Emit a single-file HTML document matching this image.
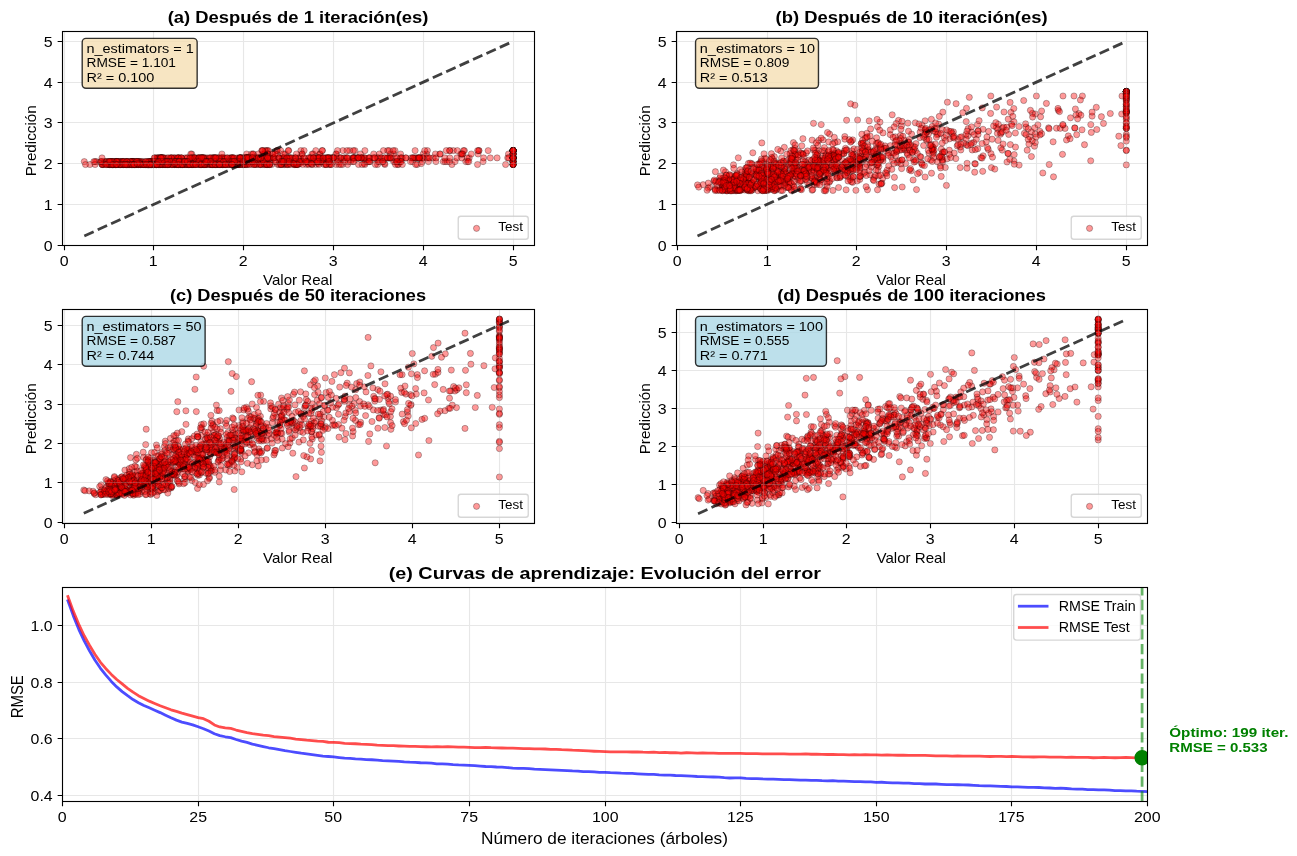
<!DOCTYPE html>
<html><head><meta charset="utf-8"><title>Gradient Boosting</title>
<style>
html,body{margin:0;padding:0;background:#fff;}
svg{display:block;font-family:"Liberation Sans",sans-serif;will-change:transform;}
</style></head>
<body>
<svg width="1297" height="856" viewBox="0 0 1297 856">
<rect width="1297" height="856" fill="#fff"/>
<clipPath id="ca"><rect x="62.5" y="31.5" width="472.0" height="214.0"/></clipPath>
<g clip-path="url(#ca)">
<g fill="#f00" fill-opacity="0.4" stroke="#000" stroke-opacity="0.4" stroke-width="0.69">
<circle cx="84.3" cy="161.6" r="3.1"/>
<circle cx="150.9" cy="164.5" r="3.1"/>
<circle cx="167.6" cy="164.5" r="3.1"/>
<circle cx="311.9" cy="161.6" r="3.1"/>
<circle cx="513.1" cy="157.9" r="3.1"/>
<circle cx="136.0" cy="164.5" r="3.1"/>
<circle cx="122.0" cy="161.6" r="3.1"/>
<circle cx="144.7" cy="164.5" r="3.1"/>
<circle cx="178.2" cy="164.5" r="3.1"/>
<circle cx="142.1" cy="161.6" r="3.1"/>
<circle cx="230.6" cy="161.6" r="3.1"/>
<circle cx="238.6" cy="161.6" r="3.1"/>
<circle cx="127.8" cy="164.5" r="3.1"/>
<circle cx="224.2" cy="164.5" r="3.1"/>
<circle cx="96.5" cy="161.6" r="3.1"/>
<circle cx="201.0" cy="157.9" r="3.1"/>
<circle cx="513.1" cy="154.0" r="3.1"/>
<circle cx="311.9" cy="164.5" r="3.1"/>
<circle cx="232.9" cy="157.9" r="3.1"/>
<circle cx="170.9" cy="164.5" r="3.1"/>
<circle cx="149.5" cy="164.5" r="3.1"/>
<circle cx="195.8" cy="164.5" r="3.1"/>
<circle cx="161.8" cy="164.5" r="3.1"/>
<circle cx="364.3" cy="163.6" r="3.1"/>
<circle cx="150.7" cy="164.5" r="3.1"/>
<circle cx="161.2" cy="161.6" r="3.1"/>
<circle cx="315.8" cy="164.5" r="3.1"/>
<circle cx="160.2" cy="164.5" r="3.1"/>
<circle cx="160.1" cy="164.5" r="3.1"/>
<circle cx="120.3" cy="164.5" r="3.1"/>
<circle cx="201.5" cy="164.5" r="3.1"/>
<circle cx="159.4" cy="164.5" r="3.1"/>
<circle cx="377.4" cy="157.9" r="3.1"/>
<circle cx="163.2" cy="164.5" r="3.1"/>
<circle cx="299.3" cy="157.9" r="3.1"/>
<circle cx="206.1" cy="164.5" r="3.1"/>
<circle cx="201.6" cy="157.9" r="3.1"/>
<circle cx="513.1" cy="157.9" r="3.1"/>
<circle cx="389.0" cy="157.9" r="3.1"/>
<circle cx="122.1" cy="161.6" r="3.1"/>
<circle cx="156.2" cy="164.5" r="3.1"/>
<circle cx="145.5" cy="164.5" r="3.1"/>
<circle cx="398.3" cy="164.5" r="3.1"/>
<circle cx="221.4" cy="161.6" r="3.1"/>
<circle cx="180.7" cy="164.5" r="3.1"/>
<circle cx="329.4" cy="157.9" r="3.1"/>
<circle cx="175.9" cy="164.5" r="3.1"/>
<circle cx="259.8" cy="161.6" r="3.1"/>
<circle cx="153.3" cy="164.5" r="3.1"/>
<circle cx="109.9" cy="164.5" r="3.1"/>
<circle cx="264.8" cy="154.0" r="3.1"/>
<circle cx="173.4" cy="161.6" r="3.1"/>
<circle cx="174.5" cy="161.6" r="3.1"/>
<circle cx="161.4" cy="157.9" r="3.1"/>
<circle cx="157.2" cy="161.6" r="3.1"/>
<circle cx="225.4" cy="164.5" r="3.1"/>
<circle cx="172.7" cy="164.5" r="3.1"/>
<circle cx="192.2" cy="157.9" r="3.1"/>
<circle cx="148.8" cy="164.5" r="3.1"/>
<circle cx="210.2" cy="161.6" r="3.1"/>
<circle cx="229.7" cy="157.9" r="3.1"/>
<circle cx="191.0" cy="164.5" r="3.1"/>
<circle cx="187.5" cy="161.6" r="3.1"/>
<circle cx="465.8" cy="161.6" r="3.1"/>
<circle cx="115.3" cy="164.5" r="3.1"/>
<circle cx="171.1" cy="161.6" r="3.1"/>
<circle cx="213.4" cy="161.6" r="3.1"/>
<circle cx="233.4" cy="157.9" r="3.1"/>
<circle cx="114.0" cy="161.6" r="3.1"/>
<circle cx="155.5" cy="161.6" r="3.1"/>
<circle cx="116.7" cy="161.6" r="3.1"/>
<circle cx="102.2" cy="164.5" r="3.1"/>
<circle cx="170.3" cy="161.6" r="3.1"/>
<circle cx="188.2" cy="164.5" r="3.1"/>
<circle cx="349.6" cy="150.6" r="3.1"/>
<circle cx="105.4" cy="161.6" r="3.1"/>
<circle cx="273.4" cy="157.9" r="3.1"/>
<circle cx="199.1" cy="164.5" r="3.1"/>
<circle cx="230.7" cy="164.5" r="3.1"/>
<circle cx="136.9" cy="164.5" r="3.1"/>
<circle cx="313.2" cy="154.0" r="3.1"/>
<circle cx="182.4" cy="161.6" r="3.1"/>
<circle cx="188.8" cy="161.6" r="3.1"/>
<circle cx="224.2" cy="161.6" r="3.1"/>
<circle cx="158.8" cy="161.6" r="3.1"/>
<circle cx="194.4" cy="161.6" r="3.1"/>
<circle cx="134.3" cy="164.5" r="3.1"/>
<circle cx="267.4" cy="154.0" r="3.1"/>
<circle cx="126.7" cy="161.6" r="3.1"/>
<circle cx="162.1" cy="157.9" r="3.1"/>
<circle cx="151.6" cy="161.6" r="3.1"/>
<circle cx="133.6" cy="164.5" r="3.1"/>
<circle cx="220.3" cy="164.5" r="3.1"/>
<circle cx="147.9" cy="164.5" r="3.1"/>
<circle cx="289.1" cy="164.5" r="3.1"/>
<circle cx="162.1" cy="157.9" r="3.1"/>
<circle cx="513.1" cy="150.6" r="3.1"/>
<circle cx="224.0" cy="161.6" r="3.1"/>
<circle cx="124.0" cy="164.5" r="3.1"/>
<circle cx="239.5" cy="164.5" r="3.1"/>
<circle cx="150.0" cy="164.5" r="3.1"/>
<circle cx="182.0" cy="164.5" r="3.1"/>
<circle cx="149.7" cy="164.5" r="3.1"/>
<circle cx="162.9" cy="157.9" r="3.1"/>
<circle cx="237.6" cy="161.6" r="3.1"/>
<circle cx="210.3" cy="164.5" r="3.1"/>
<circle cx="108.8" cy="164.5" r="3.1"/>
<circle cx="412.7" cy="157.9" r="3.1"/>
<circle cx="156.5" cy="164.5" r="3.1"/>
<circle cx="205.7" cy="164.5" r="3.1"/>
<circle cx="132.9" cy="161.6" r="3.1"/>
<circle cx="183.3" cy="164.5" r="3.1"/>
<circle cx="303.3" cy="157.9" r="3.1"/>
<circle cx="155.1" cy="161.6" r="3.1"/>
<circle cx="335.9" cy="154.0" r="3.1"/>
<circle cx="237.8" cy="161.6" r="3.1"/>
<circle cx="243.3" cy="164.5" r="3.1"/>
<circle cx="397.7" cy="164.5" r="3.1"/>
<circle cx="211.2" cy="164.5" r="3.1"/>
<circle cx="135.2" cy="164.5" r="3.1"/>
<circle cx="245.6" cy="164.5" r="3.1"/>
<circle cx="243.5" cy="164.5" r="3.1"/>
<circle cx="312.2" cy="161.6" r="3.1"/>
<circle cx="132.5" cy="164.5" r="3.1"/>
<circle cx="151.5" cy="161.6" r="3.1"/>
<circle cx="440.3" cy="154.0" r="3.1"/>
<circle cx="223.4" cy="161.6" r="3.1"/>
<circle cx="149.1" cy="161.6" r="3.1"/>
<circle cx="191.8" cy="154.0" r="3.1"/>
<circle cx="184.9" cy="164.5" r="3.1"/>
<circle cx="133.3" cy="161.6" r="3.1"/>
<circle cx="231.6" cy="157.9" r="3.1"/>
<circle cx="116.2" cy="164.5" r="3.1"/>
<circle cx="117.9" cy="164.5" r="3.1"/>
<circle cx="158.5" cy="161.6" r="3.1"/>
<circle cx="180.4" cy="164.5" r="3.1"/>
<circle cx="223.5" cy="157.9" r="3.1"/>
<circle cx="399.6" cy="161.6" r="3.1"/>
<circle cx="153.7" cy="161.6" r="3.1"/>
<circle cx="137.6" cy="164.5" r="3.1"/>
<circle cx="134.2" cy="164.5" r="3.1"/>
<circle cx="120.9" cy="164.5" r="3.1"/>
<circle cx="138.8" cy="164.5" r="3.1"/>
<circle cx="151.9" cy="164.5" r="3.1"/>
<circle cx="478.1" cy="154.0" r="3.1"/>
<circle cx="363.1" cy="157.9" r="3.1"/>
<circle cx="135.7" cy="164.5" r="3.1"/>
<circle cx="302.2" cy="154.0" r="3.1"/>
<circle cx="100.8" cy="161.6" r="3.1"/>
<circle cx="253.7" cy="157.9" r="3.1"/>
<circle cx="168.2" cy="164.5" r="3.1"/>
<circle cx="177.8" cy="157.9" r="3.1"/>
<circle cx="152.8" cy="164.5" r="3.1"/>
<circle cx="223.3" cy="157.9" r="3.1"/>
<circle cx="435.4" cy="154.0" r="3.1"/>
<circle cx="327.0" cy="157.9" r="3.1"/>
<circle cx="320.0" cy="157.9" r="3.1"/>
<circle cx="211.6" cy="161.6" r="3.1"/>
<circle cx="513.1" cy="157.9" r="3.1"/>
<circle cx="332.1" cy="157.9" r="3.1"/>
<circle cx="241.4" cy="157.9" r="3.1"/>
<circle cx="377.6" cy="164.5" r="3.1"/>
<circle cx="123.9" cy="161.6" r="3.1"/>
<circle cx="151.5" cy="161.6" r="3.1"/>
<circle cx="400.8" cy="157.9" r="3.1"/>
<circle cx="144.5" cy="161.6" r="3.1"/>
<circle cx="123.0" cy="164.5" r="3.1"/>
<circle cx="184.6" cy="161.6" r="3.1"/>
<circle cx="274.0" cy="157.9" r="3.1"/>
<circle cx="232.5" cy="164.5" r="3.1"/>
<circle cx="216.4" cy="164.5" r="3.1"/>
<circle cx="285.3" cy="154.0" r="3.1"/>
<circle cx="329.2" cy="164.5" r="3.1"/>
<circle cx="109.2" cy="161.6" r="3.1"/>
<circle cx="387.6" cy="150.6" r="3.1"/>
<circle cx="234.5" cy="161.6" r="3.1"/>
<circle cx="365.9" cy="161.6" r="3.1"/>
<circle cx="206.7" cy="161.6" r="3.1"/>
<circle cx="172.6" cy="161.6" r="3.1"/>
<circle cx="134.0" cy="164.5" r="3.1"/>
<circle cx="283.0" cy="157.9" r="3.1"/>
<circle cx="131.0" cy="161.6" r="3.1"/>
<circle cx="329.5" cy="157.9" r="3.1"/>
<circle cx="144.0" cy="164.5" r="3.1"/>
<circle cx="120.2" cy="161.6" r="3.1"/>
<circle cx="257.4" cy="161.6" r="3.1"/>
<circle cx="212.7" cy="157.9" r="3.1"/>
<circle cx="144.7" cy="164.5" r="3.1"/>
<circle cx="113.1" cy="164.5" r="3.1"/>
<circle cx="162.8" cy="164.5" r="3.1"/>
<circle cx="356.1" cy="157.9" r="3.1"/>
<circle cx="181.3" cy="161.6" r="3.1"/>
<circle cx="298.0" cy="157.9" r="3.1"/>
<circle cx="513.1" cy="154.0" r="3.1"/>
<circle cx="318.6" cy="157.9" r="3.1"/>
<circle cx="513.1" cy="157.9" r="3.1"/>
<circle cx="205.8" cy="161.6" r="3.1"/>
<circle cx="488.2" cy="150.6" r="3.1"/>
<circle cx="147.7" cy="164.5" r="3.1"/>
<circle cx="146.9" cy="164.5" r="3.1"/>
<circle cx="264.3" cy="164.5" r="3.1"/>
<circle cx="513.1" cy="157.9" r="3.1"/>
<circle cx="246.1" cy="161.6" r="3.1"/>
<circle cx="226.1" cy="164.5" r="3.1"/>
<circle cx="354.7" cy="157.9" r="3.1"/>
<circle cx="161.3" cy="157.9" r="3.1"/>
<circle cx="369.9" cy="161.6" r="3.1"/>
<circle cx="117.8" cy="164.5" r="3.1"/>
<circle cx="150.9" cy="164.5" r="3.1"/>
<circle cx="318.3" cy="163.6" r="3.1"/>
<circle cx="222.7" cy="161.6" r="3.1"/>
<circle cx="331.0" cy="157.9" r="3.1"/>
<circle cx="182.6" cy="164.5" r="3.1"/>
<circle cx="112.1" cy="161.6" r="3.1"/>
<circle cx="228.7" cy="164.5" r="3.1"/>
<circle cx="248.1" cy="157.9" r="3.1"/>
<circle cx="131.2" cy="161.6" r="3.1"/>
<circle cx="237.4" cy="157.9" r="3.1"/>
<circle cx="287.2" cy="157.9" r="3.1"/>
<circle cx="513.1" cy="154.0" r="3.1"/>
<circle cx="253.3" cy="161.6" r="3.1"/>
<circle cx="227.1" cy="157.9" r="3.1"/>
<circle cx="248.9" cy="157.9" r="3.1"/>
<circle cx="185.4" cy="164.5" r="3.1"/>
<circle cx="218.5" cy="161.6" r="3.1"/>
<circle cx="196.1" cy="161.6" r="3.1"/>
<circle cx="221.3" cy="157.9" r="3.1"/>
<circle cx="246.6" cy="164.5" r="3.1"/>
<circle cx="250.5" cy="161.6" r="3.1"/>
<circle cx="336.4" cy="154.0" r="3.1"/>
<circle cx="141.7" cy="161.6" r="3.1"/>
<circle cx="153.0" cy="164.5" r="3.1"/>
<circle cx="170.4" cy="157.9" r="3.1"/>
<circle cx="443.3" cy="161.6" r="3.1"/>
<circle cx="247.9" cy="161.6" r="3.1"/>
<circle cx="132.5" cy="161.6" r="3.1"/>
<circle cx="167.5" cy="161.6" r="3.1"/>
<circle cx="266.8" cy="164.5" r="3.1"/>
<circle cx="148.6" cy="164.5" r="3.1"/>
<circle cx="288.5" cy="161.6" r="3.1"/>
<circle cx="451.9" cy="164.5" r="3.1"/>
<circle cx="433.2" cy="157.9" r="3.1"/>
<circle cx="206.4" cy="161.6" r="3.1"/>
<circle cx="174.4" cy="164.5" r="3.1"/>
<circle cx="143.9" cy="164.5" r="3.1"/>
<circle cx="136.7" cy="164.5" r="3.1"/>
<circle cx="118.2" cy="164.5" r="3.1"/>
<circle cx="325.1" cy="157.9" r="3.1"/>
<circle cx="173.9" cy="157.9" r="3.1"/>
<circle cx="156.6" cy="164.5" r="3.1"/>
<circle cx="367.7" cy="161.6" r="3.1"/>
<circle cx="135.1" cy="164.5" r="3.1"/>
<circle cx="134.6" cy="164.5" r="3.1"/>
<circle cx="159.2" cy="163.6" r="3.1"/>
<circle cx="329.0" cy="161.6" r="3.1"/>
<circle cx="131.7" cy="163.6" r="3.1"/>
<circle cx="148.6" cy="163.6" r="3.1"/>
<circle cx="426.6" cy="154.0" r="3.1"/>
<circle cx="364.5" cy="157.9" r="3.1"/>
<circle cx="263.8" cy="157.9" r="3.1"/>
<circle cx="135.7" cy="164.5" r="3.1"/>
<circle cx="271.9" cy="164.5" r="3.1"/>
<circle cx="513.1" cy="164.5" r="3.1"/>
<circle cx="262.9" cy="154.0" r="3.1"/>
<circle cx="218.2" cy="164.5" r="3.1"/>
<circle cx="277.7" cy="164.5" r="3.1"/>
<circle cx="389.2" cy="157.9" r="3.1"/>
<circle cx="190.8" cy="154.0" r="3.1"/>
<circle cx="268.9" cy="164.5" r="3.1"/>
<circle cx="239.5" cy="157.9" r="3.1"/>
<circle cx="236.4" cy="164.5" r="3.1"/>
<circle cx="202.0" cy="164.5" r="3.1"/>
<circle cx="182.4" cy="164.5" r="3.1"/>
<circle cx="102.2" cy="164.5" r="3.1"/>
<circle cx="319.6" cy="154.0" r="3.1"/>
<circle cx="213.7" cy="164.5" r="3.1"/>
<circle cx="242.4" cy="164.5" r="3.1"/>
<circle cx="161.0" cy="164.5" r="3.1"/>
<circle cx="215.8" cy="164.5" r="3.1"/>
<circle cx="112.3" cy="164.5" r="3.1"/>
<circle cx="205.5" cy="157.9" r="3.1"/>
<circle cx="214.3" cy="157.9" r="3.1"/>
<circle cx="164.4" cy="164.5" r="3.1"/>
<circle cx="160.8" cy="164.5" r="3.1"/>
<circle cx="239.6" cy="157.9" r="3.1"/>
<circle cx="126.6" cy="164.5" r="3.1"/>
<circle cx="132.2" cy="161.6" r="3.1"/>
<circle cx="146.0" cy="164.5" r="3.1"/>
<circle cx="174.7" cy="164.5" r="3.1"/>
<circle cx="513.1" cy="157.9" r="3.1"/>
<circle cx="342.6" cy="164.5" r="3.1"/>
<circle cx="194.7" cy="164.5" r="3.1"/>
<circle cx="262.6" cy="161.6" r="3.1"/>
<circle cx="188.6" cy="161.6" r="3.1"/>
<circle cx="300.3" cy="161.6" r="3.1"/>
<circle cx="265.9" cy="164.5" r="3.1"/>
<circle cx="104.2" cy="161.6" r="3.1"/>
<circle cx="233.0" cy="164.5" r="3.1"/>
<circle cx="158.6" cy="164.5" r="3.1"/>
<circle cx="421.3" cy="157.9" r="3.1"/>
<circle cx="240.1" cy="157.9" r="3.1"/>
<circle cx="393.8" cy="154.0" r="3.1"/>
<circle cx="319.2" cy="161.6" r="3.1"/>
<circle cx="189.8" cy="164.5" r="3.1"/>
<circle cx="384.9" cy="164.5" r="3.1"/>
<circle cx="513.1" cy="150.6" r="3.1"/>
<circle cx="153.6" cy="164.5" r="3.1"/>
<circle cx="192.9" cy="161.6" r="3.1"/>
<circle cx="122.8" cy="164.5" r="3.1"/>
<circle cx="208.8" cy="161.6" r="3.1"/>
<circle cx="198.0" cy="157.9" r="3.1"/>
<circle cx="205.4" cy="161.6" r="3.1"/>
<circle cx="134.5" cy="161.6" r="3.1"/>
<circle cx="211.4" cy="164.5" r="3.1"/>
<circle cx="181.5" cy="164.5" r="3.1"/>
<circle cx="192.5" cy="161.6" r="3.1"/>
<circle cx="296.2" cy="163.6" r="3.1"/>
<circle cx="209.8" cy="164.5" r="3.1"/>
<circle cx="109.4" cy="164.5" r="3.1"/>
<circle cx="187.2" cy="157.9" r="3.1"/>
<circle cx="383.4" cy="150.6" r="3.1"/>
<circle cx="164.8" cy="164.5" r="3.1"/>
<circle cx="138.9" cy="161.6" r="3.1"/>
<circle cx="102.8" cy="164.5" r="3.1"/>
<circle cx="225.2" cy="161.6" r="3.1"/>
<circle cx="151.2" cy="164.5" r="3.1"/>
<circle cx="172.0" cy="157.9" r="3.1"/>
<circle cx="302.3" cy="161.6" r="3.1"/>
<circle cx="377.8" cy="161.6" r="3.1"/>
<circle cx="154.2" cy="164.5" r="3.1"/>
<circle cx="147.1" cy="163.6" r="3.1"/>
<circle cx="163.8" cy="164.5" r="3.1"/>
<circle cx="508.5" cy="154.0" r="3.1"/>
<circle cx="103.7" cy="164.5" r="3.1"/>
<circle cx="284.5" cy="164.5" r="3.1"/>
<circle cx="469.2" cy="157.9" r="3.1"/>
<circle cx="175.3" cy="161.6" r="3.1"/>
<circle cx="145.3" cy="164.5" r="3.1"/>
<circle cx="340.2" cy="161.6" r="3.1"/>
<circle cx="139.5" cy="161.6" r="3.1"/>
<circle cx="277.2" cy="150.6" r="3.1"/>
<circle cx="513.1" cy="161.6" r="3.1"/>
<circle cx="179.0" cy="157.9" r="3.1"/>
<circle cx="124.8" cy="164.5" r="3.1"/>
<circle cx="214.2" cy="164.5" r="3.1"/>
<circle cx="284.3" cy="164.5" r="3.1"/>
<circle cx="207.4" cy="161.6" r="3.1"/>
<circle cx="179.2" cy="161.6" r="3.1"/>
<circle cx="191.7" cy="164.5" r="3.1"/>
<circle cx="268.7" cy="157.9" r="3.1"/>
<circle cx="155.9" cy="157.9" r="3.1"/>
<circle cx="212.5" cy="161.6" r="3.1"/>
<circle cx="132.8" cy="164.5" r="3.1"/>
<circle cx="281.4" cy="161.6" r="3.1"/>
<circle cx="263.6" cy="163.6" r="3.1"/>
<circle cx="142.8" cy="164.5" r="3.1"/>
<circle cx="154.8" cy="164.5" r="3.1"/>
<circle cx="167.7" cy="161.6" r="3.1"/>
<circle cx="170.3" cy="161.6" r="3.1"/>
<circle cx="168.1" cy="164.5" r="3.1"/>
<circle cx="300.2" cy="161.6" r="3.1"/>
<circle cx="112.3" cy="164.5" r="3.1"/>
<circle cx="148.3" cy="164.5" r="3.1"/>
<circle cx="250.6" cy="157.9" r="3.1"/>
<circle cx="143.0" cy="164.5" r="3.1"/>
<circle cx="342.9" cy="150.6" r="3.1"/>
<circle cx="307.8" cy="161.6" r="3.1"/>
<circle cx="312.1" cy="154.0" r="3.1"/>
<circle cx="244.4" cy="161.6" r="3.1"/>
<circle cx="114.4" cy="164.5" r="3.1"/>
<circle cx="513.1" cy="157.9" r="3.1"/>
<circle cx="132.6" cy="161.6" r="3.1"/>
<circle cx="112.3" cy="164.5" r="3.1"/>
<circle cx="213.2" cy="157.9" r="3.1"/>
<circle cx="412.4" cy="161.6" r="3.1"/>
<circle cx="173.0" cy="164.5" r="3.1"/>
<circle cx="300.9" cy="150.6" r="3.1"/>
<circle cx="203.8" cy="157.9" r="3.1"/>
<circle cx="123.5" cy="164.5" r="3.1"/>
<circle cx="245.1" cy="161.6" r="3.1"/>
<circle cx="513.1" cy="150.6" r="3.1"/>
<circle cx="263.4" cy="161.6" r="3.1"/>
<circle cx="255.3" cy="157.9" r="3.1"/>
<circle cx="232.0" cy="157.9" r="3.1"/>
<circle cx="126.5" cy="161.6" r="3.1"/>
<circle cx="188.8" cy="164.5" r="3.1"/>
<circle cx="150.4" cy="161.6" r="3.1"/>
<circle cx="229.5" cy="164.5" r="3.1"/>
<circle cx="213.3" cy="157.9" r="3.1"/>
<circle cx="116.0" cy="161.6" r="3.1"/>
<circle cx="198.1" cy="157.9" r="3.1"/>
<circle cx="286.3" cy="161.6" r="3.1"/>
<circle cx="175.9" cy="157.9" r="3.1"/>
<circle cx="241.7" cy="157.9" r="3.1"/>
<circle cx="175.3" cy="161.6" r="3.1"/>
<circle cx="120.8" cy="164.5" r="3.1"/>
<circle cx="131.7" cy="161.6" r="3.1"/>
<circle cx="107.8" cy="164.5" r="3.1"/>
<circle cx="113.2" cy="164.5" r="3.1"/>
<circle cx="262.4" cy="164.5" r="3.1"/>
<circle cx="148.2" cy="164.5" r="3.1"/>
<circle cx="353.9" cy="157.9" r="3.1"/>
<circle cx="297.0" cy="164.5" r="3.1"/>
<circle cx="282.3" cy="157.9" r="3.1"/>
<circle cx="255.1" cy="164.5" r="3.1"/>
<circle cx="428.4" cy="157.9" r="3.1"/>
<circle cx="219.5" cy="161.6" r="3.1"/>
<circle cx="161.0" cy="157.9" r="3.1"/>
<circle cx="267.4" cy="150.6" r="3.1"/>
<circle cx="133.7" cy="164.5" r="3.1"/>
<circle cx="165.5" cy="161.6" r="3.1"/>
<circle cx="106.6" cy="164.5" r="3.1"/>
<circle cx="513.1" cy="157.9" r="3.1"/>
<circle cx="164.4" cy="161.6" r="3.1"/>
<circle cx="347.6" cy="164.5" r="3.1"/>
<circle cx="384.5" cy="163.6" r="3.1"/>
<circle cx="210.0" cy="161.6" r="3.1"/>
<circle cx="288.4" cy="157.9" r="3.1"/>
<circle cx="168.0" cy="164.5" r="3.1"/>
<circle cx="188.6" cy="161.6" r="3.1"/>
<circle cx="398.9" cy="161.6" r="3.1"/>
<circle cx="513.1" cy="157.9" r="3.1"/>
<circle cx="123.8" cy="163.6" r="3.1"/>
<circle cx="319.1" cy="157.9" r="3.1"/>
<circle cx="310.4" cy="161.6" r="3.1"/>
<circle cx="192.3" cy="164.5" r="3.1"/>
<circle cx="110.2" cy="164.5" r="3.1"/>
<circle cx="199.4" cy="161.6" r="3.1"/>
<circle cx="249.5" cy="161.6" r="3.1"/>
<circle cx="136.7" cy="161.6" r="3.1"/>
<circle cx="224.2" cy="161.6" r="3.1"/>
<circle cx="400.6" cy="154.0" r="3.1"/>
<circle cx="136.8" cy="161.6" r="3.1"/>
<circle cx="260.4" cy="164.5" r="3.1"/>
<circle cx="184.7" cy="164.5" r="3.1"/>
<circle cx="297.2" cy="164.5" r="3.1"/>
<circle cx="237.4" cy="164.5" r="3.1"/>
<circle cx="188.5" cy="164.5" r="3.1"/>
<circle cx="207.9" cy="164.5" r="3.1"/>
<circle cx="119.5" cy="164.5" r="3.1"/>
<circle cx="288.3" cy="161.6" r="3.1"/>
<circle cx="171.2" cy="161.6" r="3.1"/>
<circle cx="513.1" cy="157.9" r="3.1"/>
<circle cx="369.1" cy="157.9" r="3.1"/>
<circle cx="132.5" cy="164.5" r="3.1"/>
<circle cx="513.1" cy="150.6" r="3.1"/>
<circle cx="179.8" cy="161.6" r="3.1"/>
<circle cx="269.8" cy="164.5" r="3.1"/>
<circle cx="414.0" cy="157.9" r="3.1"/>
<circle cx="150.1" cy="161.6" r="3.1"/>
<circle cx="159.6" cy="164.5" r="3.1"/>
<circle cx="390.5" cy="154.0" r="3.1"/>
<circle cx="224.1" cy="164.5" r="3.1"/>
<circle cx="185.0" cy="157.9" r="3.1"/>
<circle cx="209.8" cy="157.9" r="3.1"/>
<circle cx="259.1" cy="161.6" r="3.1"/>
<circle cx="162.2" cy="161.6" r="3.1"/>
<circle cx="95.1" cy="161.6" r="3.1"/>
<circle cx="160.3" cy="164.5" r="3.1"/>
<circle cx="379.3" cy="154.0" r="3.1"/>
<circle cx="177.4" cy="161.6" r="3.1"/>
<circle cx="156.0" cy="164.5" r="3.1"/>
<circle cx="181.2" cy="157.9" r="3.1"/>
<circle cx="215.9" cy="164.5" r="3.1"/>
<circle cx="513.1" cy="161.6" r="3.1"/>
<circle cx="244.2" cy="157.9" r="3.1"/>
<circle cx="123.4" cy="161.6" r="3.1"/>
<circle cx="361.6" cy="157.9" r="3.1"/>
<circle cx="246.6" cy="157.9" r="3.1"/>
<circle cx="212.8" cy="161.6" r="3.1"/>
<circle cx="118.8" cy="164.5" r="3.1"/>
<circle cx="151.3" cy="164.5" r="3.1"/>
<circle cx="247.6" cy="157.9" r="3.1"/>
<circle cx="156.3" cy="164.5" r="3.1"/>
<circle cx="319.4" cy="161.6" r="3.1"/>
<circle cx="149.1" cy="164.5" r="3.1"/>
<circle cx="286.3" cy="164.5" r="3.1"/>
<circle cx="273.0" cy="157.9" r="3.1"/>
<circle cx="167.8" cy="161.6" r="3.1"/>
<circle cx="218.7" cy="157.9" r="3.1"/>
<circle cx="427.4" cy="150.6" r="3.1"/>
<circle cx="157.3" cy="161.6" r="3.1"/>
<circle cx="313.7" cy="157.9" r="3.1"/>
<circle cx="230.9" cy="157.9" r="3.1"/>
<circle cx="152.6" cy="161.6" r="3.1"/>
<circle cx="206.0" cy="164.5" r="3.1"/>
<circle cx="146.4" cy="164.5" r="3.1"/>
<circle cx="217.6" cy="157.9" r="3.1"/>
<circle cx="231.2" cy="164.5" r="3.1"/>
<circle cx="316.2" cy="161.6" r="3.1"/>
<circle cx="266.5" cy="150.6" r="3.1"/>
<circle cx="123.7" cy="164.5" r="3.1"/>
<circle cx="282.1" cy="164.5" r="3.1"/>
<circle cx="164.6" cy="161.6" r="3.1"/>
<circle cx="156.9" cy="161.6" r="3.1"/>
<circle cx="393.6" cy="161.6" r="3.1"/>
<circle cx="428.4" cy="161.6" r="3.1"/>
<circle cx="167.0" cy="157.9" r="3.1"/>
<circle cx="147.3" cy="164.5" r="3.1"/>
<circle cx="205.6" cy="161.6" r="3.1"/>
<circle cx="178.5" cy="164.5" r="3.1"/>
<circle cx="513.1" cy="161.6" r="3.1"/>
<circle cx="157.8" cy="161.6" r="3.1"/>
<circle cx="358.5" cy="164.5" r="3.1"/>
<circle cx="202.0" cy="161.6" r="3.1"/>
<circle cx="240.1" cy="157.9" r="3.1"/>
<circle cx="467.2" cy="157.9" r="3.1"/>
<circle cx="209.6" cy="161.6" r="3.1"/>
<circle cx="283.4" cy="157.9" r="3.1"/>
<circle cx="321.5" cy="157.9" r="3.1"/>
<circle cx="331.3" cy="164.5" r="3.1"/>
<circle cx="203.6" cy="161.6" r="3.1"/>
<circle cx="282.2" cy="163.6" r="3.1"/>
<circle cx="138.1" cy="164.5" r="3.1"/>
<circle cx="115.9" cy="161.6" r="3.1"/>
<circle cx="383.1" cy="161.6" r="3.1"/>
<circle cx="121.2" cy="164.5" r="3.1"/>
<circle cx="118.7" cy="161.6" r="3.1"/>
<circle cx="304.1" cy="150.6" r="3.1"/>
<circle cx="141.0" cy="164.5" r="3.1"/>
<circle cx="120.8" cy="161.6" r="3.1"/>
<circle cx="170.1" cy="161.6" r="3.1"/>
<circle cx="256.9" cy="164.5" r="3.1"/>
<circle cx="131.5" cy="164.5" r="3.1"/>
<circle cx="353.3" cy="157.9" r="3.1"/>
<circle cx="513.1" cy="161.6" r="3.1"/>
<circle cx="248.1" cy="164.5" r="3.1"/>
<circle cx="278.8" cy="157.9" r="3.1"/>
<circle cx="143.1" cy="164.5" r="3.1"/>
<circle cx="244.0" cy="164.5" r="3.1"/>
<circle cx="513.1" cy="157.9" r="3.1"/>
<circle cx="426.7" cy="157.9" r="3.1"/>
<circle cx="174.7" cy="164.5" r="3.1"/>
<circle cx="264.7" cy="157.9" r="3.1"/>
<circle cx="141.6" cy="164.5" r="3.1"/>
<circle cx="237.8" cy="164.5" r="3.1"/>
<circle cx="238.0" cy="164.5" r="3.1"/>
<circle cx="148.6" cy="164.5" r="3.1"/>
<circle cx="171.1" cy="157.9" r="3.1"/>
<circle cx="354.6" cy="157.9" r="3.1"/>
<circle cx="152.6" cy="161.6" r="3.1"/>
<circle cx="162.6" cy="164.5" r="3.1"/>
<circle cx="200.3" cy="164.5" r="3.1"/>
<circle cx="148.0" cy="161.6" r="3.1"/>
<circle cx="205.2" cy="161.6" r="3.1"/>
<circle cx="176.5" cy="164.5" r="3.1"/>
<circle cx="193.2" cy="161.6" r="3.1"/>
<circle cx="238.1" cy="164.5" r="3.1"/>
<circle cx="353.0" cy="161.6" r="3.1"/>
<circle cx="177.7" cy="161.6" r="3.1"/>
<circle cx="211.9" cy="164.5" r="3.1"/>
<circle cx="127.0" cy="161.6" r="3.1"/>
<circle cx="320.5" cy="157.9" r="3.1"/>
<circle cx="180.9" cy="164.5" r="3.1"/>
<circle cx="513.1" cy="150.6" r="3.1"/>
<circle cx="286.7" cy="157.9" r="3.1"/>
<circle cx="292.1" cy="161.6" r="3.1"/>
<circle cx="257.0" cy="157.9" r="3.1"/>
<circle cx="129.3" cy="164.5" r="3.1"/>
<circle cx="329.0" cy="161.6" r="3.1"/>
<circle cx="202.4" cy="157.9" r="3.1"/>
<circle cx="261.8" cy="150.6" r="3.1"/>
<circle cx="290.5" cy="161.6" r="3.1"/>
<circle cx="112.7" cy="164.5" r="3.1"/>
<circle cx="418.2" cy="157.9" r="3.1"/>
<circle cx="89.9" cy="164.5" r="3.1"/>
<circle cx="326.2" cy="164.5" r="3.1"/>
<circle cx="215.1" cy="157.9" r="3.1"/>
<circle cx="181.3" cy="164.5" r="3.1"/>
<circle cx="308.7" cy="157.9" r="3.1"/>
<circle cx="247.3" cy="161.6" r="3.1"/>
<circle cx="320.1" cy="154.0" r="3.1"/>
<circle cx="249.4" cy="157.9" r="3.1"/>
<circle cx="247.1" cy="164.5" r="3.1"/>
<circle cx="205.8" cy="161.6" r="3.1"/>
<circle cx="260.9" cy="164.5" r="3.1"/>
<circle cx="242.7" cy="164.5" r="3.1"/>
<circle cx="185.8" cy="164.5" r="3.1"/>
<circle cx="295.2" cy="157.9" r="3.1"/>
<circle cx="203.8" cy="161.6" r="3.1"/>
<circle cx="328.0" cy="157.9" r="3.1"/>
<circle cx="256.9" cy="161.6" r="3.1"/>
<circle cx="422.0" cy="157.9" r="3.1"/>
<circle cx="380.4" cy="157.9" r="3.1"/>
<circle cx="507.7" cy="157.9" r="3.1"/>
<circle cx="178.9" cy="157.9" r="3.1"/>
<circle cx="288.7" cy="150.6" r="3.1"/>
<circle cx="513.1" cy="154.0" r="3.1"/>
<circle cx="333.9" cy="157.9" r="3.1"/>
<circle cx="149.3" cy="164.5" r="3.1"/>
<circle cx="213.9" cy="161.6" r="3.1"/>
<circle cx="157.9" cy="161.6" r="3.1"/>
<circle cx="221.8" cy="157.9" r="3.1"/>
<circle cx="336.1" cy="164.5" r="3.1"/>
<circle cx="339.8" cy="157.9" r="3.1"/>
<circle cx="140.3" cy="164.5" r="3.1"/>
<circle cx="246.2" cy="161.6" r="3.1"/>
<circle cx="208.0" cy="161.6" r="3.1"/>
<circle cx="171.5" cy="164.5" r="3.1"/>
<circle cx="245.6" cy="157.9" r="3.1"/>
<circle cx="267.9" cy="154.0" r="3.1"/>
<circle cx="139.9" cy="161.6" r="3.1"/>
<circle cx="324.0" cy="161.6" r="3.1"/>
<circle cx="191.5" cy="161.6" r="3.1"/>
<circle cx="272.4" cy="154.0" r="3.1"/>
<circle cx="164.6" cy="157.9" r="3.1"/>
<circle cx="267.5" cy="164.5" r="3.1"/>
<circle cx="119.0" cy="161.6" r="3.1"/>
<circle cx="394.8" cy="161.6" r="3.1"/>
<circle cx="225.6" cy="161.6" r="3.1"/>
<circle cx="362.1" cy="157.9" r="3.1"/>
<circle cx="140.4" cy="164.5" r="3.1"/>
<circle cx="167.8" cy="164.5" r="3.1"/>
<circle cx="284.1" cy="161.6" r="3.1"/>
<circle cx="128.2" cy="164.5" r="3.1"/>
<circle cx="319.0" cy="164.5" r="3.1"/>
<circle cx="186.2" cy="161.6" r="3.1"/>
<circle cx="168.4" cy="164.5" r="3.1"/>
<circle cx="148.9" cy="164.5" r="3.1"/>
<circle cx="110.5" cy="164.5" r="3.1"/>
<circle cx="315.3" cy="157.9" r="3.1"/>
<circle cx="405.9" cy="157.9" r="3.1"/>
<circle cx="216.7" cy="161.6" r="3.1"/>
<circle cx="270.8" cy="161.6" r="3.1"/>
<circle cx="319.6" cy="161.6" r="3.1"/>
<circle cx="147.9" cy="164.5" r="3.1"/>
<circle cx="209.1" cy="161.6" r="3.1"/>
<circle cx="194.0" cy="164.5" r="3.1"/>
<circle cx="154.4" cy="161.6" r="3.1"/>
<circle cx="148.3" cy="164.5" r="3.1"/>
<circle cx="263.5" cy="157.9" r="3.1"/>
<circle cx="240.7" cy="161.6" r="3.1"/>
<circle cx="318.1" cy="157.9" r="3.1"/>
<circle cx="375.4" cy="164.5" r="3.1"/>
<circle cx="128.5" cy="164.5" r="3.1"/>
<circle cx="513.1" cy="157.9" r="3.1"/>
<circle cx="327.4" cy="161.6" r="3.1"/>
<circle cx="236.9" cy="161.6" r="3.1"/>
<circle cx="112.4" cy="164.5" r="3.1"/>
<circle cx="306.3" cy="164.5" r="3.1"/>
<circle cx="157.7" cy="161.6" r="3.1"/>
<circle cx="368.8" cy="157.9" r="3.1"/>
<circle cx="262.5" cy="157.9" r="3.1"/>
<circle cx="191.8" cy="164.5" r="3.1"/>
<circle cx="109.4" cy="164.5" r="3.1"/>
<circle cx="233.7" cy="164.5" r="3.1"/>
<circle cx="275.4" cy="161.6" r="3.1"/>
<circle cx="389.9" cy="157.9" r="3.1"/>
<circle cx="118.1" cy="164.5" r="3.1"/>
<circle cx="240.9" cy="157.9" r="3.1"/>
<circle cx="131.3" cy="164.5" r="3.1"/>
<circle cx="347.0" cy="150.6" r="3.1"/>
<circle cx="142.0" cy="164.5" r="3.1"/>
<circle cx="213.8" cy="161.6" r="3.1"/>
<circle cx="264.0" cy="157.9" r="3.1"/>
<circle cx="138.5" cy="161.6" r="3.1"/>
<circle cx="324.0" cy="164.5" r="3.1"/>
<circle cx="146.9" cy="164.5" r="3.1"/>
<circle cx="186.5" cy="164.5" r="3.1"/>
<circle cx="107.3" cy="161.6" r="3.1"/>
<circle cx="161.1" cy="161.6" r="3.1"/>
<circle cx="252.0" cy="161.6" r="3.1"/>
<circle cx="298.4" cy="164.5" r="3.1"/>
<circle cx="263.0" cy="161.6" r="3.1"/>
<circle cx="209.3" cy="161.6" r="3.1"/>
<circle cx="213.8" cy="164.5" r="3.1"/>
<circle cx="137.0" cy="164.5" r="3.1"/>
<circle cx="288.3" cy="150.6" r="3.1"/>
<circle cx="158.1" cy="161.6" r="3.1"/>
<circle cx="217.3" cy="164.5" r="3.1"/>
<circle cx="165.4" cy="164.5" r="3.1"/>
<circle cx="264.3" cy="157.9" r="3.1"/>
<circle cx="126.5" cy="164.5" r="3.1"/>
<circle cx="182.7" cy="164.5" r="3.1"/>
<circle cx="118.3" cy="163.6" r="3.1"/>
<circle cx="151.2" cy="164.5" r="3.1"/>
<circle cx="165.1" cy="161.6" r="3.1"/>
<circle cx="243.8" cy="157.9" r="3.1"/>
<circle cx="131.3" cy="164.5" r="3.1"/>
<circle cx="402.2" cy="157.9" r="3.1"/>
<circle cx="202.4" cy="157.9" r="3.1"/>
<circle cx="333.1" cy="157.9" r="3.1"/>
<circle cx="378.2" cy="157.9" r="3.1"/>
<circle cx="179.4" cy="164.5" r="3.1"/>
<circle cx="122.3" cy="161.6" r="3.1"/>
<circle cx="166.7" cy="164.5" r="3.1"/>
<circle cx="124.0" cy="164.5" r="3.1"/>
<circle cx="445.1" cy="161.6" r="3.1"/>
<circle cx="284.3" cy="157.9" r="3.1"/>
<circle cx="300.5" cy="157.9" r="3.1"/>
<circle cx="289.6" cy="157.9" r="3.1"/>
<circle cx="150.1" cy="164.5" r="3.1"/>
<circle cx="344.9" cy="157.9" r="3.1"/>
<circle cx="269.5" cy="164.5" r="3.1"/>
<circle cx="220.7" cy="164.5" r="3.1"/>
<circle cx="513.1" cy="161.6" r="3.1"/>
<circle cx="384.2" cy="157.9" r="3.1"/>
<circle cx="254.1" cy="164.5" r="3.1"/>
<circle cx="462.8" cy="154.0" r="3.1"/>
<circle cx="174.0" cy="161.6" r="3.1"/>
<circle cx="138.6" cy="164.5" r="3.1"/>
<circle cx="207.0" cy="161.6" r="3.1"/>
<circle cx="173.6" cy="161.6" r="3.1"/>
<circle cx="162.2" cy="161.6" r="3.1"/>
<circle cx="211.0" cy="164.5" r="3.1"/>
<circle cx="178.1" cy="164.5" r="3.1"/>
<circle cx="158.8" cy="157.9" r="3.1"/>
<circle cx="508.8" cy="157.9" r="3.1"/>
<circle cx="149.5" cy="161.6" r="3.1"/>
<circle cx="411.2" cy="157.9" r="3.1"/>
<circle cx="155.7" cy="164.5" r="3.1"/>
<circle cx="219.6" cy="161.6" r="3.1"/>
<circle cx="218.2" cy="161.6" r="3.1"/>
<circle cx="423.2" cy="154.0" r="3.1"/>
<circle cx="294.0" cy="164.5" r="3.1"/>
<circle cx="513.1" cy="150.6" r="3.1"/>
<circle cx="142.9" cy="164.5" r="3.1"/>
<circle cx="152.8" cy="161.6" r="3.1"/>
<circle cx="422.1" cy="157.9" r="3.1"/>
<circle cx="416.5" cy="157.9" r="3.1"/>
<circle cx="138.3" cy="164.5" r="3.1"/>
<circle cx="157.7" cy="157.9" r="3.1"/>
<circle cx="154.7" cy="157.9" r="3.1"/>
<circle cx="234.7" cy="161.6" r="3.1"/>
<circle cx="180.2" cy="161.6" r="3.1"/>
<circle cx="181.0" cy="164.5" r="3.1"/>
<circle cx="394.9" cy="157.9" r="3.1"/>
<circle cx="110.3" cy="161.6" r="3.1"/>
<circle cx="513.1" cy="150.6" r="3.1"/>
<circle cx="204.2" cy="161.6" r="3.1"/>
<circle cx="200.4" cy="157.9" r="3.1"/>
<circle cx="329.6" cy="161.6" r="3.1"/>
<circle cx="237.9" cy="164.5" r="3.1"/>
<circle cx="239.5" cy="163.6" r="3.1"/>
<circle cx="401.0" cy="157.9" r="3.1"/>
<circle cx="239.2" cy="161.6" r="3.1"/>
<circle cx="132.8" cy="164.5" r="3.1"/>
<circle cx="157.0" cy="164.5" r="3.1"/>
<circle cx="222.3" cy="164.5" r="3.1"/>
<circle cx="220.7" cy="161.6" r="3.1"/>
<circle cx="211.1" cy="161.6" r="3.1"/>
<circle cx="117.0" cy="161.6" r="3.1"/>
<circle cx="116.7" cy="161.6" r="3.1"/>
<circle cx="183.1" cy="161.6" r="3.1"/>
<circle cx="341.0" cy="157.9" r="3.1"/>
<circle cx="158.7" cy="157.9" r="3.1"/>
<circle cx="151.3" cy="161.6" r="3.1"/>
<circle cx="212.4" cy="164.5" r="3.1"/>
<circle cx="295.7" cy="164.5" r="3.1"/>
<circle cx="167.3" cy="161.6" r="3.1"/>
<circle cx="321.0" cy="161.6" r="3.1"/>
<circle cx="127.3" cy="164.5" r="3.1"/>
<circle cx="152.7" cy="164.5" r="3.1"/>
<circle cx="352.9" cy="157.9" r="3.1"/>
<circle cx="269.7" cy="157.9" r="3.1"/>
<circle cx="159.3" cy="164.5" r="3.1"/>
<circle cx="231.7" cy="161.6" r="3.1"/>
<circle cx="165.8" cy="161.6" r="3.1"/>
<circle cx="364.9" cy="164.5" r="3.1"/>
<circle cx="111.9" cy="163.6" r="3.1"/>
<circle cx="187.3" cy="157.9" r="3.1"/>
<circle cx="429.6" cy="157.9" r="3.1"/>
<circle cx="135.2" cy="164.5" r="3.1"/>
<circle cx="340.9" cy="157.9" r="3.1"/>
<circle cx="513.1" cy="154.0" r="3.1"/>
<circle cx="188.8" cy="164.5" r="3.1"/>
<circle cx="267.2" cy="161.6" r="3.1"/>
<circle cx="128.0" cy="161.6" r="3.1"/>
<circle cx="121.3" cy="164.5" r="3.1"/>
<circle cx="204.5" cy="161.6" r="3.1"/>
<circle cx="461.6" cy="154.0" r="3.1"/>
<circle cx="147.6" cy="164.5" r="3.1"/>
<circle cx="134.6" cy="164.5" r="3.1"/>
<circle cx="115.9" cy="161.6" r="3.1"/>
<circle cx="350.6" cy="161.6" r="3.1"/>
<circle cx="455.1" cy="161.6" r="3.1"/>
<circle cx="435.9" cy="161.6" r="3.1"/>
<circle cx="145.4" cy="164.5" r="3.1"/>
<circle cx="176.0" cy="164.5" r="3.1"/>
<circle cx="258.8" cy="157.9" r="3.1"/>
<circle cx="332.3" cy="157.9" r="3.1"/>
<circle cx="456.9" cy="157.9" r="3.1"/>
<circle cx="302.1" cy="154.0" r="3.1"/>
<circle cx="317.5" cy="157.9" r="3.1"/>
<circle cx="199.3" cy="164.5" r="3.1"/>
<circle cx="255.4" cy="161.6" r="3.1"/>
<circle cx="215.4" cy="164.5" r="3.1"/>
<circle cx="239.1" cy="164.5" r="3.1"/>
<circle cx="258.0" cy="157.9" r="3.1"/>
<circle cx="115.4" cy="164.5" r="3.1"/>
<circle cx="195.7" cy="157.9" r="3.1"/>
<circle cx="153.9" cy="164.5" r="3.1"/>
<circle cx="163.4" cy="157.9" r="3.1"/>
<circle cx="181.5" cy="161.6" r="3.1"/>
<circle cx="215.6" cy="157.9" r="3.1"/>
<circle cx="347.1" cy="157.9" r="3.1"/>
<circle cx="395.0" cy="150.6" r="3.1"/>
<circle cx="138.4" cy="164.5" r="3.1"/>
<circle cx="275.5" cy="161.6" r="3.1"/>
<circle cx="513.1" cy="150.6" r="3.1"/>
<circle cx="334.2" cy="157.9" r="3.1"/>
<circle cx="167.6" cy="164.5" r="3.1"/>
<circle cx="154.0" cy="161.6" r="3.1"/>
<circle cx="292.4" cy="157.9" r="3.1"/>
<circle cx="140.4" cy="164.5" r="3.1"/>
<circle cx="268.4" cy="150.6" r="3.1"/>
<circle cx="299.9" cy="163.6" r="3.1"/>
<circle cx="215.3" cy="164.5" r="3.1"/>
<circle cx="123.2" cy="164.5" r="3.1"/>
<circle cx="513.1" cy="150.6" r="3.1"/>
<circle cx="290.5" cy="157.9" r="3.1"/>
<circle cx="168.5" cy="161.6" r="3.1"/>
<circle cx="153.0" cy="164.5" r="3.1"/>
<circle cx="130.0" cy="164.5" r="3.1"/>
<circle cx="131.2" cy="164.5" r="3.1"/>
<circle cx="360.5" cy="154.0" r="3.1"/>
<circle cx="436.0" cy="157.9" r="3.1"/>
<circle cx="151.3" cy="164.5" r="3.1"/>
<circle cx="122.2" cy="164.5" r="3.1"/>
<circle cx="212.4" cy="164.5" r="3.1"/>
<circle cx="467.7" cy="161.6" r="3.1"/>
<circle cx="118.5" cy="161.6" r="3.1"/>
<circle cx="198.3" cy="164.5" r="3.1"/>
<circle cx="135.3" cy="161.6" r="3.1"/>
<circle cx="279.3" cy="157.9" r="3.1"/>
<circle cx="166.3" cy="164.5" r="3.1"/>
<circle cx="150.9" cy="164.5" r="3.1"/>
<circle cx="158.2" cy="164.5" r="3.1"/>
<circle cx="333.2" cy="161.6" r="3.1"/>
<circle cx="192.3" cy="157.9" r="3.1"/>
<circle cx="295.3" cy="157.9" r="3.1"/>
<circle cx="179.7" cy="161.6" r="3.1"/>
<circle cx="182.9" cy="161.6" r="3.1"/>
<circle cx="405.8" cy="157.9" r="3.1"/>
<circle cx="223.6" cy="161.6" r="3.1"/>
<circle cx="102.0" cy="164.5" r="3.1"/>
<circle cx="171.0" cy="161.6" r="3.1"/>
<circle cx="145.6" cy="164.5" r="3.1"/>
<circle cx="400.8" cy="161.6" r="3.1"/>
<circle cx="129.4" cy="164.5" r="3.1"/>
<circle cx="115.0" cy="164.5" r="3.1"/>
<circle cx="244.4" cy="157.9" r="3.1"/>
<circle cx="227.8" cy="164.5" r="3.1"/>
<circle cx="143.2" cy="164.5" r="3.1"/>
<circle cx="513.1" cy="164.5" r="3.1"/>
<circle cx="419.0" cy="157.9" r="3.1"/>
<circle cx="206.3" cy="164.5" r="3.1"/>
<circle cx="180.7" cy="161.6" r="3.1"/>
<circle cx="142.9" cy="164.5" r="3.1"/>
<circle cx="234.2" cy="161.6" r="3.1"/>
<circle cx="169.3" cy="164.5" r="3.1"/>
<circle cx="302.8" cy="161.6" r="3.1"/>
<circle cx="132.3" cy="161.6" r="3.1"/>
<circle cx="260.3" cy="161.6" r="3.1"/>
<circle cx="461.6" cy="157.9" r="3.1"/>
<circle cx="447.0" cy="161.6" r="3.1"/>
<circle cx="387.4" cy="157.9" r="3.1"/>
<circle cx="113.4" cy="164.5" r="3.1"/>
<circle cx="109.8" cy="164.5" r="3.1"/>
<circle cx="369.8" cy="161.6" r="3.1"/>
<circle cx="115.3" cy="164.5" r="3.1"/>
<circle cx="422.9" cy="157.9" r="3.1"/>
<circle cx="172.7" cy="164.5" r="3.1"/>
<circle cx="161.0" cy="157.9" r="3.1"/>
<circle cx="153.5" cy="164.5" r="3.1"/>
<circle cx="188.4" cy="161.6" r="3.1"/>
<circle cx="344.0" cy="157.9" r="3.1"/>
<circle cx="156.5" cy="164.5" r="3.1"/>
<circle cx="233.8" cy="164.5" r="3.1"/>
<circle cx="174.3" cy="157.9" r="3.1"/>
<circle cx="422.2" cy="161.6" r="3.1"/>
<circle cx="327.4" cy="157.9" r="3.1"/>
<circle cx="221.1" cy="164.5" r="3.1"/>
<circle cx="164.3" cy="161.6" r="3.1"/>
<circle cx="215.6" cy="161.6" r="3.1"/>
<circle cx="253.6" cy="161.6" r="3.1"/>
<circle cx="116.4" cy="161.6" r="3.1"/>
<circle cx="513.1" cy="150.6" r="3.1"/>
<circle cx="128.3" cy="164.5" r="3.1"/>
<circle cx="122.3" cy="164.5" r="3.1"/>
<circle cx="336.2" cy="157.9" r="3.1"/>
<circle cx="137.7" cy="161.6" r="3.1"/>
<circle cx="266.3" cy="157.9" r="3.1"/>
<circle cx="280.5" cy="164.5" r="3.1"/>
<circle cx="256.0" cy="157.9" r="3.1"/>
<circle cx="251.7" cy="164.5" r="3.1"/>
<circle cx="229.3" cy="161.6" r="3.1"/>
<circle cx="176.8" cy="164.5" r="3.1"/>
<circle cx="188.9" cy="164.5" r="3.1"/>
<circle cx="296.0" cy="161.6" r="3.1"/>
<circle cx="181.7" cy="157.9" r="3.1"/>
<circle cx="127.0" cy="164.5" r="3.1"/>
<circle cx="346.6" cy="157.9" r="3.1"/>
<circle cx="477.5" cy="164.5" r="3.1"/>
<circle cx="192.3" cy="164.5" r="3.1"/>
<circle cx="171.7" cy="164.5" r="3.1"/>
<circle cx="327.6" cy="161.6" r="3.1"/>
<circle cx="120.7" cy="164.5" r="3.1"/>
<circle cx="237.4" cy="161.6" r="3.1"/>
<circle cx="238.3" cy="161.6" r="3.1"/>
<circle cx="207.7" cy="161.6" r="3.1"/>
<circle cx="277.1" cy="154.0" r="3.1"/>
<circle cx="151.6" cy="164.5" r="3.1"/>
<circle cx="513.1" cy="157.9" r="3.1"/>
<circle cx="161.9" cy="163.6" r="3.1"/>
<circle cx="129.5" cy="164.5" r="3.1"/>
<circle cx="245.0" cy="164.5" r="3.1"/>
<circle cx="243.4" cy="157.9" r="3.1"/>
<circle cx="248.6" cy="157.9" r="3.1"/>
<circle cx="381.6" cy="157.9" r="3.1"/>
<circle cx="148.7" cy="164.5" r="3.1"/>
<circle cx="231.5" cy="161.6" r="3.1"/>
<circle cx="308.4" cy="163.6" r="3.1"/>
<circle cx="173.8" cy="161.6" r="3.1"/>
<circle cx="513.1" cy="150.6" r="3.1"/>
<circle cx="453.3" cy="150.6" r="3.1"/>
<circle cx="95.1" cy="164.5" r="3.1"/>
<circle cx="497.1" cy="157.9" r="3.1"/>
<circle cx="218.3" cy="164.5" r="3.1"/>
<circle cx="113.8" cy="161.6" r="3.1"/>
<circle cx="478.9" cy="150.6" r="3.1"/>
<circle cx="178.5" cy="164.5" r="3.1"/>
<circle cx="250.4" cy="161.6" r="3.1"/>
<circle cx="130.4" cy="161.6" r="3.1"/>
<circle cx="513.1" cy="164.5" r="3.1"/>
<circle cx="224.5" cy="161.6" r="3.1"/>
<circle cx="373.0" cy="157.9" r="3.1"/>
<circle cx="102.2" cy="161.6" r="3.1"/>
<circle cx="364.9" cy="150.6" r="3.1"/>
<circle cx="216.7" cy="164.5" r="3.1"/>
<circle cx="204.3" cy="164.5" r="3.1"/>
<circle cx="178.5" cy="157.9" r="3.1"/>
<circle cx="505.6" cy="164.5" r="3.1"/>
<circle cx="202.1" cy="157.9" r="3.1"/>
<circle cx="513.1" cy="150.6" r="3.1"/>
<circle cx="207.5" cy="157.9" r="3.1"/>
<circle cx="246.6" cy="157.9" r="3.1"/>
<circle cx="306.9" cy="161.6" r="3.1"/>
<circle cx="318.2" cy="157.9" r="3.1"/>
<circle cx="260.0" cy="157.9" r="3.1"/>
<circle cx="168.1" cy="164.5" r="3.1"/>
<circle cx="279.0" cy="164.5" r="3.1"/>
<circle cx="157.1" cy="157.9" r="3.1"/>
<circle cx="185.4" cy="161.6" r="3.1"/>
<circle cx="165.0" cy="164.5" r="3.1"/>
<circle cx="387.7" cy="157.9" r="3.1"/>
<circle cx="348.3" cy="161.6" r="3.1"/>
<circle cx="181.9" cy="164.5" r="3.1"/>
<circle cx="415.0" cy="157.9" r="3.1"/>
<circle cx="221.7" cy="157.9" r="3.1"/>
<circle cx="216.2" cy="157.9" r="3.1"/>
<circle cx="119.6" cy="164.5" r="3.1"/>
<circle cx="194.6" cy="157.9" r="3.1"/>
<circle cx="294.4" cy="164.5" r="3.1"/>
<circle cx="358.2" cy="157.9" r="3.1"/>
<circle cx="132.8" cy="164.5" r="3.1"/>
<circle cx="287.7" cy="164.5" r="3.1"/>
<circle cx="373.7" cy="154.0" r="3.1"/>
<circle cx="323.1" cy="157.9" r="3.1"/>
<circle cx="112.6" cy="164.5" r="3.1"/>
<circle cx="236.8" cy="161.6" r="3.1"/>
<circle cx="158.6" cy="164.5" r="3.1"/>
<circle cx="246.2" cy="157.9" r="3.1"/>
<circle cx="264.3" cy="154.0" r="3.1"/>
<circle cx="155.4" cy="161.6" r="3.1"/>
<circle cx="101.1" cy="161.6" r="3.1"/>
<circle cx="265.1" cy="150.6" r="3.1"/>
<circle cx="315.1" cy="161.6" r="3.1"/>
<circle cx="110.2" cy="164.5" r="3.1"/>
<circle cx="205.1" cy="164.5" r="3.1"/>
<circle cx="160.0" cy="157.9" r="3.1"/>
<circle cx="169.3" cy="161.6" r="3.1"/>
<circle cx="199.8" cy="161.6" r="3.1"/>
<circle cx="264.7" cy="164.5" r="3.1"/>
<circle cx="396.6" cy="161.6" r="3.1"/>
<circle cx="265.6" cy="161.6" r="3.1"/>
<circle cx="221.1" cy="164.5" r="3.1"/>
<circle cx="205.1" cy="161.6" r="3.1"/>
<circle cx="307.9" cy="161.6" r="3.1"/>
<circle cx="513.1" cy="150.6" r="3.1"/>
<circle cx="513.1" cy="150.6" r="3.1"/>
<circle cx="230.7" cy="161.6" r="3.1"/>
<circle cx="134.0" cy="164.5" r="3.1"/>
<circle cx="164.6" cy="161.6" r="3.1"/>
<circle cx="513.1" cy="157.9" r="3.1"/>
<circle cx="115.5" cy="164.5" r="3.1"/>
<circle cx="158.5" cy="161.6" r="3.1"/>
<circle cx="259.0" cy="164.5" r="3.1"/>
<circle cx="224.9" cy="157.9" r="3.1"/>
<circle cx="171.5" cy="157.9" r="3.1"/>
<circle cx="200.9" cy="161.6" r="3.1"/>
<circle cx="224.0" cy="161.6" r="3.1"/>
<circle cx="513.1" cy="164.5" r="3.1"/>
<circle cx="203.9" cy="161.6" r="3.1"/>
<circle cx="126.3" cy="164.5" r="3.1"/>
<circle cx="152.7" cy="164.5" r="3.1"/>
<circle cx="333.4" cy="157.9" r="3.1"/>
<circle cx="419.2" cy="157.9" r="3.1"/>
<circle cx="146.6" cy="161.6" r="3.1"/>
<circle cx="111.6" cy="164.5" r="3.1"/>
<circle cx="449.3" cy="161.6" r="3.1"/>
<circle cx="123.9" cy="164.5" r="3.1"/>
<circle cx="191.0" cy="161.6" r="3.1"/>
<circle cx="203.4" cy="157.9" r="3.1"/>
<circle cx="478.9" cy="150.6" r="3.1"/>
<circle cx="263.9" cy="161.6" r="3.1"/>
<circle cx="264.0" cy="157.9" r="3.1"/>
<circle cx="490.3" cy="157.9" r="3.1"/>
<circle cx="202.1" cy="161.6" r="3.1"/>
<circle cx="201.3" cy="163.6" r="3.1"/>
<circle cx="198.3" cy="161.6" r="3.1"/>
<circle cx="296.4" cy="154.0" r="3.1"/>
<circle cx="412.8" cy="157.9" r="3.1"/>
<circle cx="221.9" cy="154.0" r="3.1"/>
<circle cx="256.9" cy="161.6" r="3.1"/>
<circle cx="220.8" cy="164.5" r="3.1"/>
<circle cx="168.6" cy="157.9" r="3.1"/>
<circle cx="246.6" cy="154.0" r="3.1"/>
<circle cx="125.6" cy="164.5" r="3.1"/>
<circle cx="328.1" cy="157.9" r="3.1"/>
<circle cx="439.9" cy="154.0" r="3.1"/>
<circle cx="151.7" cy="164.5" r="3.1"/>
<circle cx="301.7" cy="161.6" r="3.1"/>
<circle cx="278.6" cy="157.9" r="3.1"/>
<circle cx="133.4" cy="161.6" r="3.1"/>
<circle cx="150.9" cy="163.6" r="3.1"/>
<circle cx="208.0" cy="161.6" r="3.1"/>
<circle cx="198.9" cy="161.6" r="3.1"/>
<circle cx="238.7" cy="164.5" r="3.1"/>
<circle cx="157.9" cy="161.6" r="3.1"/>
<circle cx="325.5" cy="164.5" r="3.1"/>
<circle cx="203.5" cy="164.5" r="3.1"/>
<circle cx="513.1" cy="157.9" r="3.1"/>
<circle cx="240.5" cy="157.9" r="3.1"/>
<circle cx="308.5" cy="164.5" r="3.1"/>
<circle cx="322.4" cy="150.6" r="3.1"/>
<circle cx="214.4" cy="164.5" r="3.1"/>
<circle cx="265.5" cy="157.9" r="3.1"/>
<circle cx="200.4" cy="164.5" r="3.1"/>
<circle cx="226.5" cy="164.5" r="3.1"/>
<circle cx="203.8" cy="164.5" r="3.1"/>
<circle cx="210.0" cy="164.5" r="3.1"/>
<circle cx="258.2" cy="154.0" r="3.1"/>
<circle cx="361.5" cy="157.9" r="3.1"/>
<circle cx="127.3" cy="164.5" r="3.1"/>
<circle cx="154.2" cy="161.6" r="3.1"/>
<circle cx="177.2" cy="164.5" r="3.1"/>
<circle cx="312.6" cy="161.6" r="3.1"/>
<circle cx="150.8" cy="164.5" r="3.1"/>
<circle cx="212.9" cy="161.6" r="3.1"/>
<circle cx="246.3" cy="161.6" r="3.1"/>
<circle cx="252.0" cy="157.9" r="3.1"/>
<circle cx="137.0" cy="164.5" r="3.1"/>
<circle cx="157.6" cy="161.6" r="3.1"/>
<circle cx="112.4" cy="164.5" r="3.1"/>
<circle cx="513.1" cy="157.9" r="3.1"/>
<circle cx="288.8" cy="163.6" r="3.1"/>
<circle cx="215.7" cy="164.5" r="3.1"/>
<circle cx="364.8" cy="157.9" r="3.1"/>
<circle cx="193.0" cy="161.6" r="3.1"/>
<circle cx="260.4" cy="164.5" r="3.1"/>
<circle cx="112.0" cy="161.6" r="3.1"/>
<circle cx="211.9" cy="164.5" r="3.1"/>
<circle cx="177.7" cy="157.9" r="3.1"/>
<circle cx="134.2" cy="164.5" r="3.1"/>
<circle cx="262.8" cy="150.6" r="3.1"/>
<circle cx="127.2" cy="161.6" r="3.1"/>
<circle cx="322.2" cy="161.6" r="3.1"/>
<circle cx="113.4" cy="164.5" r="3.1"/>
<circle cx="513.1" cy="150.6" r="3.1"/>
<circle cx="199.6" cy="161.6" r="3.1"/>
<circle cx="222.4" cy="164.5" r="3.1"/>
<circle cx="136.2" cy="161.6" r="3.1"/>
<circle cx="256.0" cy="164.5" r="3.1"/>
<circle cx="180.5" cy="161.6" r="3.1"/>
<circle cx="277.0" cy="150.6" r="3.1"/>
<circle cx="229.7" cy="161.6" r="3.1"/>
<circle cx="127.0" cy="164.5" r="3.1"/>
<circle cx="160.1" cy="157.9" r="3.1"/>
<circle cx="194.2" cy="157.9" r="3.1"/>
<circle cx="107.3" cy="163.6" r="3.1"/>
<circle cx="212.5" cy="164.5" r="3.1"/>
<circle cx="169.1" cy="161.6" r="3.1"/>
<circle cx="177.6" cy="164.5" r="3.1"/>
<circle cx="112.1" cy="161.6" r="3.1"/>
<circle cx="339.0" cy="164.5" r="3.1"/>
<circle cx="153.5" cy="164.5" r="3.1"/>
<circle cx="158.5" cy="161.6" r="3.1"/>
<circle cx="471.3" cy="154.0" r="3.1"/>
<circle cx="113.1" cy="164.5" r="3.1"/>
<circle cx="201.5" cy="161.6" r="3.1"/>
<circle cx="190.8" cy="164.5" r="3.1"/>
<circle cx="124.6" cy="161.6" r="3.1"/>
<circle cx="212.6" cy="161.6" r="3.1"/>
<circle cx="180.8" cy="164.5" r="3.1"/>
<circle cx="513.1" cy="164.5" r="3.1"/>
<circle cx="201.3" cy="164.5" r="3.1"/>
<circle cx="310.8" cy="157.9" r="3.1"/>
<circle cx="117.2" cy="164.5" r="3.1"/>
<circle cx="192.0" cy="157.9" r="3.1"/>
<circle cx="424.7" cy="150.6" r="3.1"/>
<circle cx="167.7" cy="161.6" r="3.1"/>
<circle cx="410.5" cy="161.6" r="3.1"/>
<circle cx="352.7" cy="157.9" r="3.1"/>
<circle cx="115.7" cy="164.5" r="3.1"/>
<circle cx="244.9" cy="161.6" r="3.1"/>
<circle cx="315.8" cy="150.6" r="3.1"/>
<circle cx="359.0" cy="157.9" r="3.1"/>
<circle cx="203.0" cy="164.5" r="3.1"/>
<circle cx="158.5" cy="164.5" r="3.1"/>
<circle cx="188.3" cy="164.5" r="3.1"/>
<circle cx="513.1" cy="154.0" r="3.1"/>
<circle cx="279.9" cy="161.6" r="3.1"/>
<circle cx="203.5" cy="161.6" r="3.1"/>
<circle cx="252.9" cy="157.9" r="3.1"/>
<circle cx="468.8" cy="161.6" r="3.1"/>
<circle cx="415.1" cy="150.6" r="3.1"/>
<circle cx="151.3" cy="164.5" r="3.1"/>
<circle cx="417.2" cy="164.5" r="3.1"/>
<circle cx="211.2" cy="157.9" r="3.1"/>
<circle cx="178.8" cy="164.5" r="3.1"/>
<circle cx="136.2" cy="164.5" r="3.1"/>
<circle cx="233.8" cy="164.5" r="3.1"/>
<circle cx="253.3" cy="154.0" r="3.1"/>
<circle cx="148.1" cy="164.5" r="3.1"/>
<circle cx="265.1" cy="157.9" r="3.1"/>
<circle cx="378.9" cy="161.6" r="3.1"/>
<circle cx="444.8" cy="157.9" r="3.1"/>
<circle cx="246.6" cy="157.9" r="3.1"/>
<circle cx="187.7" cy="164.5" r="3.1"/>
<circle cx="513.1" cy="150.6" r="3.1"/>
<circle cx="254.3" cy="161.6" r="3.1"/>
<circle cx="221.6" cy="161.6" r="3.1"/>
<circle cx="314.5" cy="161.6" r="3.1"/>
<circle cx="215.5" cy="161.6" r="3.1"/>
<circle cx="513.1" cy="150.6" r="3.1"/>
<circle cx="263.6" cy="161.6" r="3.1"/>
<circle cx="281.2" cy="164.5" r="3.1"/>
<circle cx="160.8" cy="157.9" r="3.1"/>
<circle cx="249.8" cy="164.5" r="3.1"/>
<circle cx="154.1" cy="164.5" r="3.1"/>
<circle cx="513.1" cy="157.9" r="3.1"/>
<circle cx="294.6" cy="164.5" r="3.1"/>
<circle cx="148.8" cy="164.5" r="3.1"/>
<circle cx="124.0" cy="164.5" r="3.1"/>
<circle cx="149.4" cy="164.5" r="3.1"/>
<circle cx="395.5" cy="164.5" r="3.1"/>
<circle cx="182.3" cy="164.5" r="3.1"/>
<circle cx="153.6" cy="164.5" r="3.1"/>
<circle cx="155.3" cy="164.5" r="3.1"/>
<circle cx="251.4" cy="157.9" r="3.1"/>
<circle cx="287.7" cy="164.5" r="3.1"/>
<circle cx="390.8" cy="157.9" r="3.1"/>
<circle cx="320.6" cy="161.6" r="3.1"/>
<circle cx="130.3" cy="161.6" r="3.1"/>
<circle cx="326.1" cy="157.9" r="3.1"/>
<circle cx="162.8" cy="161.6" r="3.1"/>
<circle cx="360.9" cy="157.9" r="3.1"/>
<circle cx="111.1" cy="164.5" r="3.1"/>
<circle cx="318.6" cy="161.6" r="3.1"/>
<circle cx="249.1" cy="157.9" r="3.1"/>
<circle cx="162.9" cy="157.9" r="3.1"/>
<circle cx="261.1" cy="157.9" r="3.1"/>
<circle cx="144.0" cy="164.5" r="3.1"/>
<circle cx="218.9" cy="164.5" r="3.1"/>
<circle cx="288.9" cy="157.9" r="3.1"/>
<circle cx="246.1" cy="157.9" r="3.1"/>
<circle cx="106.6" cy="161.6" r="3.1"/>
<circle cx="120.7" cy="164.5" r="3.1"/>
<circle cx="115.7" cy="164.5" r="3.1"/>
<circle cx="102.0" cy="157.9" r="3.1"/>
<circle cx="126.7" cy="164.5" r="3.1"/>
<circle cx="313.5" cy="157.9" r="3.1"/>
<circle cx="93.9" cy="161.6" r="3.1"/>
<circle cx="418.2" cy="157.9" r="3.1"/>
<circle cx="239.6" cy="161.6" r="3.1"/>
<circle cx="148.2" cy="164.5" r="3.1"/>
<circle cx="116.4" cy="164.5" r="3.1"/>
<circle cx="183.5" cy="161.6" r="3.1"/>
<circle cx="155.2" cy="161.6" r="3.1"/>
<circle cx="247.4" cy="157.9" r="3.1"/>
<circle cx="236.1" cy="164.5" r="3.1"/>
<circle cx="262.3" cy="150.6" r="3.1"/>
<circle cx="267.2" cy="164.5" r="3.1"/>
<circle cx="401.1" cy="161.6" r="3.1"/>
<circle cx="176.7" cy="161.6" r="3.1"/>
<circle cx="449.8" cy="157.9" r="3.1"/>
<circle cx="280.7" cy="150.6" r="3.1"/>
<circle cx="225.6" cy="161.6" r="3.1"/>
<circle cx="111.2" cy="164.5" r="3.1"/>
<circle cx="235.7" cy="161.6" r="3.1"/>
<circle cx="120.6" cy="164.5" r="3.1"/>
<circle cx="205.6" cy="161.6" r="3.1"/>
<circle cx="254.9" cy="157.9" r="3.1"/>
<circle cx="329.7" cy="164.5" r="3.1"/>
<circle cx="187.0" cy="161.6" r="3.1"/>
<circle cx="125.4" cy="164.5" r="3.1"/>
<circle cx="240.0" cy="164.5" r="3.1"/>
<circle cx="250.7" cy="157.9" r="3.1"/>
<circle cx="220.4" cy="161.6" r="3.1"/>
<circle cx="316.8" cy="161.6" r="3.1"/>
<circle cx="190.8" cy="157.9" r="3.1"/>
<circle cx="177.1" cy="161.6" r="3.1"/>
<circle cx="148.4" cy="161.6" r="3.1"/>
<circle cx="513.1" cy="154.0" r="3.1"/>
<circle cx="222.7" cy="164.5" r="3.1"/>
<circle cx="201.9" cy="161.6" r="3.1"/>
<circle cx="109.3" cy="164.5" r="3.1"/>
<circle cx="238.1" cy="164.5" r="3.1"/>
<circle cx="154.3" cy="161.6" r="3.1"/>
<circle cx="147.5" cy="164.5" r="3.1"/>
<circle cx="169.9" cy="161.6" r="3.1"/>
<circle cx="267.7" cy="154.0" r="3.1"/>
<circle cx="337.8" cy="161.6" r="3.1"/>
<circle cx="159.0" cy="161.6" r="3.1"/>
<circle cx="306.7" cy="161.6" r="3.1"/>
<circle cx="232.3" cy="157.9" r="3.1"/>
<circle cx="251.5" cy="154.0" r="3.1"/>
<circle cx="182.9" cy="164.5" r="3.1"/>
<circle cx="111.5" cy="161.6" r="3.1"/>
<circle cx="281.0" cy="164.5" r="3.1"/>
<circle cx="282.5" cy="161.6" r="3.1"/>
<circle cx="223.6" cy="164.5" r="3.1"/>
<circle cx="294.6" cy="161.6" r="3.1"/>
<circle cx="302.7" cy="164.5" r="3.1"/>
<circle cx="513.1" cy="161.6" r="3.1"/>
<circle cx="134.7" cy="164.5" r="3.1"/>
<circle cx="181.2" cy="157.9" r="3.1"/>
<circle cx="290.7" cy="164.5" r="3.1"/>
<circle cx="290.8" cy="157.9" r="3.1"/>
<circle cx="191.2" cy="164.5" r="3.1"/>
<circle cx="246.8" cy="157.9" r="3.1"/>
<circle cx="134.1" cy="164.5" r="3.1"/>
<circle cx="513.1" cy="150.6" r="3.1"/>
<circle cx="189.7" cy="164.5" r="3.1"/>
<circle cx="296.2" cy="164.5" r="3.1"/>
<circle cx="112.5" cy="161.6" r="3.1"/>
<circle cx="196.2" cy="164.5" r="3.1"/>
<circle cx="240.1" cy="164.5" r="3.1"/>
<circle cx="155.3" cy="164.5" r="3.1"/>
<circle cx="464.4" cy="150.6" r="3.1"/>
<circle cx="162.5" cy="164.5" r="3.1"/>
<circle cx="232.7" cy="164.5" r="3.1"/>
<circle cx="176.9" cy="161.6" r="3.1"/>
<circle cx="513.1" cy="157.9" r="3.1"/>
<circle cx="153.3" cy="164.5" r="3.1"/>
<circle cx="322.2" cy="150.6" r="3.1"/>
<circle cx="153.8" cy="164.5" r="3.1"/>
<circle cx="344.7" cy="161.6" r="3.1"/>
<circle cx="375.0" cy="157.9" r="3.1"/>
<circle cx="182.0" cy="161.6" r="3.1"/>
<circle cx="328.5" cy="157.9" r="3.1"/>
<circle cx="204.1" cy="157.9" r="3.1"/>
<circle cx="187.1" cy="164.5" r="3.1"/>
<circle cx="175.3" cy="161.6" r="3.1"/>
<circle cx="207.2" cy="161.6" r="3.1"/>
<circle cx="237.0" cy="161.6" r="3.1"/>
<circle cx="147.6" cy="164.5" r="3.1"/>
<circle cx="210.0" cy="157.9" r="3.1"/>
<circle cx="156.3" cy="164.5" r="3.1"/>
<circle cx="449.8" cy="150.6" r="3.1"/>
<circle cx="449.6" cy="150.6" r="3.1"/>
<circle cx="176.9" cy="164.5" r="3.1"/>
<circle cx="206.7" cy="161.6" r="3.1"/>
<circle cx="446.3" cy="150.6" r="3.1"/>
<circle cx="513.1" cy="164.5" r="3.1"/>
<circle cx="164.4" cy="161.6" r="3.1"/>
<circle cx="246.6" cy="157.9" r="3.1"/>
<circle cx="460.8" cy="154.0" r="3.1"/>
<circle cx="137.0" cy="161.6" r="3.1"/>
<circle cx="199.3" cy="161.6" r="3.1"/>
<circle cx="463.5" cy="150.6" r="3.1"/>
<circle cx="353.8" cy="157.9" r="3.1"/>
<circle cx="462.2" cy="154.0" r="3.1"/>
<circle cx="192.7" cy="164.5" r="3.1"/>
<circle cx="207.7" cy="161.6" r="3.1"/>
<circle cx="415.7" cy="164.5" r="3.1"/>
<circle cx="234.8" cy="161.6" r="3.1"/>
<circle cx="123.2" cy="161.6" r="3.1"/>
<circle cx="317.6" cy="161.6" r="3.1"/>
<circle cx="130.5" cy="164.5" r="3.1"/>
<circle cx="126.8" cy="161.6" r="3.1"/>
<circle cx="123.5" cy="164.5" r="3.1"/>
<circle cx="201.9" cy="164.5" r="3.1"/>
<circle cx="299.1" cy="161.6" r="3.1"/>
<circle cx="227.4" cy="157.9" r="3.1"/>
<circle cx="354.9" cy="150.6" r="3.1"/>
<circle cx="109.1" cy="161.6" r="3.1"/>
<circle cx="389.1" cy="150.6" r="3.1"/>
<circle cx="295.6" cy="157.9" r="3.1"/>
<circle cx="319.1" cy="157.9" r="3.1"/>
<circle cx="178.0" cy="164.5" r="3.1"/>
<circle cx="340.8" cy="164.5" r="3.1"/>
<circle cx="171.3" cy="161.6" r="3.1"/>
<circle cx="287.5" cy="161.6" r="3.1"/>
<circle cx="310.5" cy="157.9" r="3.1"/>
<circle cx="309.1" cy="157.9" r="3.1"/>
<circle cx="201.2" cy="164.5" r="3.1"/>
<circle cx="194.3" cy="157.9" r="3.1"/>
<circle cx="234.2" cy="157.9" r="3.1"/>
<circle cx="385.1" cy="157.9" r="3.1"/>
<circle cx="192.7" cy="163.6" r="3.1"/>
<circle cx="483.1" cy="161.6" r="3.1"/>
<circle cx="513.1" cy="150.6" r="3.1"/>
<circle cx="178.5" cy="161.6" r="3.1"/>
<circle cx="189.9" cy="157.9" r="3.1"/>
<circle cx="148.5" cy="164.5" r="3.1"/>
<circle cx="353.3" cy="150.6" r="3.1"/>
<circle cx="138.0" cy="164.5" r="3.1"/>
<circle cx="369.5" cy="157.9" r="3.1"/>
<circle cx="199.2" cy="157.9" r="3.1"/>
<circle cx="180.8" cy="164.5" r="3.1"/>
<circle cx="196.4" cy="161.6" r="3.1"/>
<circle cx="396.9" cy="157.9" r="3.1"/>
<circle cx="165.6" cy="164.5" r="3.1"/>
<circle cx="143.4" cy="164.5" r="3.1"/>
<circle cx="306.9" cy="161.6" r="3.1"/>
<circle cx="222.5" cy="164.5" r="3.1"/>
<circle cx="127.7" cy="164.5" r="3.1"/>
<circle cx="108.8" cy="161.6" r="3.1"/>
<circle cx="357.5" cy="157.9" r="3.1"/>
<circle cx="126.7" cy="164.5" r="3.1"/>
<circle cx="239.8" cy="157.9" r="3.1"/>
<circle cx="165.5" cy="161.6" r="3.1"/>
<circle cx="457.3" cy="150.6" r="3.1"/>
<circle cx="189.1" cy="164.5" r="3.1"/>
<circle cx="219.7" cy="161.6" r="3.1"/>
<circle cx="225.1" cy="164.5" r="3.1"/>
<circle cx="215.2" cy="164.5" r="3.1"/>
<circle cx="143.9" cy="164.5" r="3.1"/>
<circle cx="297.3" cy="164.5" r="3.1"/>
<circle cx="223.3" cy="161.6" r="3.1"/>
<circle cx="269.8" cy="157.9" r="3.1"/>
<circle cx="228.6" cy="164.5" r="3.1"/>
<circle cx="133.8" cy="164.5" r="3.1"/>
<circle cx="337.5" cy="150.6" r="3.1"/>
<circle cx="248.5" cy="157.9" r="3.1"/>
<circle cx="232.6" cy="161.6" r="3.1"/>
<circle cx="160.0" cy="161.6" r="3.1"/>
<circle cx="154.3" cy="157.9" r="3.1"/>
<circle cx="204.6" cy="161.6" r="3.1"/>
<circle cx="150.4" cy="164.5" r="3.1"/>
<circle cx="200.1" cy="157.9" r="3.1"/>
<circle cx="421.4" cy="163.6" r="3.1"/>
<circle cx="272.9" cy="154.0" r="3.1"/>
<circle cx="305.8" cy="161.6" r="3.1"/>
<circle cx="131.7" cy="164.5" r="3.1"/>
<circle cx="219.1" cy="157.9" r="3.1"/>
<circle cx="116.9" cy="161.6" r="3.1"/>
<circle cx="160.3" cy="164.5" r="3.1"/>
<circle cx="167.2" cy="161.6" r="3.1"/>
<circle cx="140.5" cy="164.5" r="3.1"/>
<circle cx="125.1" cy="164.5" r="3.1"/>
<circle cx="198.9" cy="157.9" r="3.1"/>
<circle cx="267.4" cy="157.9" r="3.1"/>
<circle cx="105.4" cy="164.5" r="3.1"/>
<circle cx="175.2" cy="161.6" r="3.1"/>
<circle cx="179.0" cy="161.6" r="3.1"/>
<circle cx="513.1" cy="154.0" r="3.1"/>
<circle cx="304.3" cy="157.9" r="3.1"/>
<circle cx="139.6" cy="163.6" r="3.1"/>
<circle cx="252.9" cy="157.9" r="3.1"/>
<circle cx="225.6" cy="164.5" r="3.1"/>
<circle cx="347.6" cy="157.9" r="3.1"/>
<circle cx="179.2" cy="161.6" r="3.1"/>
<circle cx="513.1" cy="150.6" r="3.1"/>
<circle cx="214.3" cy="157.9" r="3.1"/>
<circle cx="260.6" cy="157.9" r="3.1"/>
<circle cx="106.5" cy="164.5" r="3.1"/>
<circle cx="243.1" cy="161.6" r="3.1"/>
<circle cx="215.7" cy="157.9" r="3.1"/>
<circle cx="374.3" cy="157.9" r="3.1"/>
<circle cx="231.8" cy="164.5" r="3.1"/>
<circle cx="134.1" cy="164.5" r="3.1"/>
<circle cx="513.1" cy="161.6" r="3.1"/>
<circle cx="161.2" cy="161.6" r="3.1"/>
<circle cx="266.5" cy="164.5" r="3.1"/>
<circle cx="85.5" cy="164.5" r="3.1"/>
<circle cx="202.2" cy="163.6" r="3.1"/>
<circle cx="419.4" cy="157.9" r="3.1"/>
<circle cx="178.3" cy="164.5" r="3.1"/>
<circle cx="219.5" cy="164.5" r="3.1"/>
<circle cx="477.6" cy="150.6" r="3.1"/>
<circle cx="253.9" cy="164.5" r="3.1"/>
<circle cx="252.3" cy="161.6" r="3.1"/>
<circle cx="267.8" cy="157.9" r="3.1"/>
<circle cx="402.3" cy="164.5" r="3.1"/>
<circle cx="382.6" cy="161.6" r="3.1"/>
<circle cx="111.8" cy="164.5" r="3.1"/>
<circle cx="156.4" cy="164.5" r="3.1"/>
<circle cx="149.7" cy="164.5" r="3.1"/>
<circle cx="150.4" cy="164.5" r="3.1"/>
<circle cx="313.3" cy="157.9" r="3.1"/>
<circle cx="283.3" cy="154.0" r="3.1"/>
<circle cx="258.3" cy="157.9" r="3.1"/>
<circle cx="182.2" cy="164.5" r="3.1"/>
<circle cx="326.2" cy="164.5" r="3.1"/>
<circle cx="362.1" cy="164.5" r="3.1"/>
<circle cx="198.8" cy="161.6" r="3.1"/>
<circle cx="195.4" cy="164.5" r="3.1"/>
<circle cx="210.6" cy="161.6" r="3.1"/>
<circle cx="358.3" cy="157.9" r="3.1"/>
<circle cx="273.8" cy="157.9" r="3.1"/>
<circle cx="189.8" cy="164.5" r="3.1"/>
<circle cx="145.8" cy="161.6" r="3.1"/>
<circle cx="323.2" cy="157.9" r="3.1"/>
<circle cx="137.2" cy="163.6" r="3.1"/>
<circle cx="184.9" cy="161.6" r="3.1"/>
<circle cx="286.9" cy="157.9" r="3.1"/>
<circle cx="200.6" cy="164.5" r="3.1"/>
<circle cx="146.5" cy="164.5" r="3.1"/>
<circle cx="110.1" cy="161.6" r="3.1"/>
<circle cx="113.1" cy="164.5" r="3.1"/>
<circle cx="513.1" cy="164.5" r="3.1"/>
<circle cx="234.1" cy="161.6" r="3.1"/>
<circle cx="312.1" cy="164.5" r="3.1"/>
<circle cx="232.1" cy="164.5" r="3.1"/>
<circle cx="193.3" cy="164.5" r="3.1"/>
<circle cx="157.1" cy="164.5" r="3.1"/>
<circle cx="281.8" cy="161.6" r="3.1"/>
<circle cx="253.1" cy="154.0" r="3.1"/>
<circle cx="162.3" cy="161.6" r="3.1"/>
<circle cx="219.6" cy="164.5" r="3.1"/>
<circle cx="353.8" cy="161.6" r="3.1"/>
<circle cx="203.1" cy="157.9" r="3.1"/>
<circle cx="368.9" cy="161.6" r="3.1"/>
<circle cx="293.7" cy="163.6" r="3.1"/>
<circle cx="174.5" cy="163.6" r="3.1"/>
<circle cx="184.6" cy="161.6" r="3.1"/>
<circle cx="397.1" cy="161.6" r="3.1"/>
<circle cx="116.5" cy="164.5" r="3.1"/>
<circle cx="252.2" cy="157.9" r="3.1"/>
<circle cx="187.6" cy="161.6" r="3.1"/>
<circle cx="167.7" cy="164.5" r="3.1"/>
<circle cx="275.0" cy="154.0" r="3.1"/>
<circle cx="331.1" cy="164.5" r="3.1"/>
<circle cx="311.2" cy="163.6" r="3.1"/>
<circle cx="161.1" cy="157.9" r="3.1"/>
<circle cx="393.1" cy="150.6" r="3.1"/>
<circle cx="289.0" cy="161.6" r="3.1"/>
<circle cx="201.6" cy="157.9" r="3.1"/>
<circle cx="483.6" cy="157.9" r="3.1"/>
<circle cx="269.7" cy="164.5" r="3.1"/>
<circle cx="204.6" cy="164.5" r="3.1"/>
<circle cx="158.2" cy="161.6" r="3.1"/>
<circle cx="513.1" cy="157.9" r="3.1"/>
<circle cx="206.1" cy="161.6" r="3.1"/>
<circle cx="329.0" cy="161.6" r="3.1"/>
<circle cx="283.6" cy="161.6" r="3.1"/>
<circle cx="196.0" cy="164.5" r="3.1"/>
</g>
<path d="M64.50 31.5V245.5M62.5 245.50H534.5M153.50 31.5V245.5M62.5 204.50H534.5M243.50 31.5V245.5M62.5 163.50H534.5M333.50 31.5V245.5M62.5 122.50H534.5M423.50 31.5V245.5M62.5 82.50H534.5M513.50 31.5V245.5M62.5 41.50H534.5" stroke="#b0b0b0" stroke-opacity="0.3" stroke-width="1.11" fill="none"/>
<path d="M84.30 235.93L513.10 41.35" stroke="#000" stroke-opacity="0.75" stroke-width="2.78" stroke-dasharray="10.28 4.44" fill="none"/>
</g>
<rect x="82.20" y="38.40" width="114.96" height="49.90" rx="3.75" fill="#f5deb3" fill-opacity="0.8" stroke="#000" stroke-opacity="0.8" stroke-width="1.39"/>
<text x="86.50" y="52.90" font-size="12.88" textLength="107.17" lengthAdjust="spacingAndGlyphs">n_estimators = 1</text>
<text x="86.50" y="67.35" font-size="12.88" textLength="89.49" lengthAdjust="spacingAndGlyphs">RMSE = 1.101</text>
<text x="86.50" y="81.80" font-size="12.88" textLength="67.91" lengthAdjust="spacingAndGlyphs">R² = 0.100</text>
<rect x="458.25" y="216.25" width="70" height="23" rx="2.5" fill="#fff" fill-opacity="0.8" stroke="#ccc" stroke-opacity="0.8" stroke-width="1.39"/>
<circle cx="476.55" cy="228.35" r="3.1" fill="#f00" fill-opacity="0.4" stroke="#000" stroke-opacity="0.4" stroke-width="0.69"/>
<text x="498.25" y="230.75" font-size="12.88" textLength="24.67" lengthAdjust="spacingAndGlyphs">Test</text>
<rect x="62.5" y="31.5" width="472.0" height="214.0" fill="none" stroke="#000" stroke-width="1.11"/>
<text x="59.77" y="265.70" font-size="14.31" textLength="8.87" lengthAdjust="spacingAndGlyphs">0</text>
<text x="43.80" y="250.70" font-size="14.31" textLength="8.87" lengthAdjust="spacingAndGlyphs">0</text>
<text x="148.77" y="265.70" font-size="14.31" textLength="8.87" lengthAdjust="spacingAndGlyphs">1</text>
<text x="43.80" y="209.70" font-size="14.31" textLength="8.87" lengthAdjust="spacingAndGlyphs">1</text>
<text x="238.77" y="265.70" font-size="14.31" textLength="8.87" lengthAdjust="spacingAndGlyphs">2</text>
<text x="43.80" y="168.70" font-size="14.31" textLength="8.87" lengthAdjust="spacingAndGlyphs">2</text>
<text x="328.77" y="265.70" font-size="14.31" textLength="8.87" lengthAdjust="spacingAndGlyphs">3</text>
<text x="43.80" y="127.70" font-size="14.31" textLength="8.87" lengthAdjust="spacingAndGlyphs">3</text>
<text x="418.77" y="265.70" font-size="14.31" textLength="8.87" lengthAdjust="spacingAndGlyphs">4</text>
<text x="43.80" y="87.70" font-size="14.31" textLength="8.87" lengthAdjust="spacingAndGlyphs">4</text>
<text x="508.77" y="265.70" font-size="14.31" textLength="8.87" lengthAdjust="spacingAndGlyphs">5</text>
<text x="43.80" y="46.70" font-size="14.31" textLength="8.87" lengthAdjust="spacingAndGlyphs">5</text>
<path d="M64.50 245.5v4.86M62.5 245.50h-4.86M153.50 245.5v4.86M62.5 204.50h-4.86M243.50 245.5v4.86M62.5 163.50h-4.86M333.50 245.5v4.86M62.5 122.50h-4.86M423.50 245.5v4.86M62.5 82.50h-4.86M513.50 245.5v4.86M62.5 41.50h-4.86" stroke="#000" stroke-width="1.11" fill="none"/>
<text x="263.01" y="285.40" font-size="14.31" textLength="69.37" lengthAdjust="spacingAndGlyphs">Valor Real</text>
<text x="0.31" y="140.75" font-size="14.31" textLength="71.17" lengthAdjust="spacingAndGlyphs" transform="rotate(-90 35.90 140.75)">Predicción</text>
<text x="167.74" y="23.17" font-size="15.74" font-weight="bold" textLength="260.70" lengthAdjust="spacingAndGlyphs">(a) Después de 1 iteración(es)</text>
<clipPath id="cb"><rect x="676.5" y="31.5" width="471.0" height="214.0"/></clipPath>
<g clip-path="url(#cb)">
<g fill="#f00" fill-opacity="0.4" stroke="#000" stroke-opacity="0.4" stroke-width="0.69">
<circle cx="697.5" cy="184.9" r="3.1"/>
<circle cx="764.1" cy="162.6" r="3.1"/>
<circle cx="780.8" cy="186.5" r="3.1"/>
<circle cx="925.1" cy="177.0" r="3.1"/>
<circle cx="1126.3" cy="97.9" r="3.1"/>
<circle cx="749.2" cy="173.9" r="3.1"/>
<circle cx="735.2" cy="176.4" r="3.1"/>
<circle cx="757.9" cy="172.3" r="3.1"/>
<circle cx="791.4" cy="189.9" r="3.1"/>
<circle cx="755.3" cy="186.4" r="3.1"/>
<circle cx="843.8" cy="153.3" r="3.1"/>
<circle cx="851.8" cy="150.8" r="3.1"/>
<circle cx="741.0" cy="181.4" r="3.1"/>
<circle cx="837.4" cy="167.7" r="3.1"/>
<circle cx="709.7" cy="187.0" r="3.1"/>
<circle cx="814.2" cy="184.6" r="3.1"/>
<circle cx="1126.3" cy="110.9" r="3.1"/>
<circle cx="925.1" cy="120.8" r="3.1"/>
<circle cx="846.1" cy="189.8" r="3.1"/>
<circle cx="784.1" cy="172.2" r="3.1"/>
<circle cx="762.7" cy="174.8" r="3.1"/>
<circle cx="809.0" cy="172.2" r="3.1"/>
<circle cx="775.0" cy="187.8" r="3.1"/>
<circle cx="977.5" cy="124.5" r="3.1"/>
<circle cx="763.9" cy="189.6" r="3.1"/>
<circle cx="774.4" cy="181.6" r="3.1"/>
<circle cx="929.0" cy="153.2" r="3.1"/>
<circle cx="773.4" cy="183.9" r="3.1"/>
<circle cx="773.3" cy="182.1" r="3.1"/>
<circle cx="733.5" cy="164.8" r="3.1"/>
<circle cx="814.7" cy="166.1" r="3.1"/>
<circle cx="772.6" cy="167.0" r="3.1"/>
<circle cx="990.6" cy="113.4" r="3.1"/>
<circle cx="776.4" cy="170.8" r="3.1"/>
<circle cx="912.5" cy="152.5" r="3.1"/>
<circle cx="819.3" cy="163.9" r="3.1"/>
<circle cx="814.8" cy="178.5" r="3.1"/>
<circle cx="1126.3" cy="128.1" r="3.1"/>
<circle cx="1002.2" cy="150.1" r="3.1"/>
<circle cx="735.3" cy="183.2" r="3.1"/>
<circle cx="769.4" cy="173.4" r="3.1"/>
<circle cx="758.7" cy="163.9" r="3.1"/>
<circle cx="1011.5" cy="124.2" r="3.1"/>
<circle cx="834.6" cy="156.9" r="3.1"/>
<circle cx="793.9" cy="169.8" r="3.1"/>
<circle cx="942.6" cy="159.5" r="3.1"/>
<circle cx="789.1" cy="165.9" r="3.1"/>
<circle cx="873.0" cy="152.4" r="3.1"/>
<circle cx="766.5" cy="189.8" r="3.1"/>
<circle cx="723.1" cy="177.9" r="3.1"/>
<circle cx="878.0" cy="170.7" r="3.1"/>
<circle cx="786.6" cy="180.2" r="3.1"/>
<circle cx="787.7" cy="164.7" r="3.1"/>
<circle cx="774.6" cy="175.4" r="3.1"/>
<circle cx="770.4" cy="169.9" r="3.1"/>
<circle cx="838.6" cy="187.5" r="3.1"/>
<circle cx="785.9" cy="187.5" r="3.1"/>
<circle cx="805.4" cy="179.4" r="3.1"/>
<circle cx="762.0" cy="181.5" r="3.1"/>
<circle cx="823.4" cy="162.6" r="3.1"/>
<circle cx="842.9" cy="166.0" r="3.1"/>
<circle cx="804.2" cy="166.8" r="3.1"/>
<circle cx="800.7" cy="188.2" r="3.1"/>
<circle cx="1079.0" cy="113.6" r="3.1"/>
<circle cx="728.5" cy="190.0" r="3.1"/>
<circle cx="784.3" cy="147.3" r="3.1"/>
<circle cx="826.6" cy="170.2" r="3.1"/>
<circle cx="846.6" cy="120.2" r="3.1"/>
<circle cx="727.2" cy="190.7" r="3.1"/>
<circle cx="768.7" cy="176.3" r="3.1"/>
<circle cx="729.9" cy="180.9" r="3.1"/>
<circle cx="715.4" cy="171.7" r="3.1"/>
<circle cx="783.5" cy="161.1" r="3.1"/>
<circle cx="801.4" cy="172.0" r="3.1"/>
<circle cx="962.8" cy="112.7" r="3.1"/>
<circle cx="718.6" cy="189.5" r="3.1"/>
<circle cx="886.6" cy="173.4" r="3.1"/>
<circle cx="812.3" cy="165.5" r="3.1"/>
<circle cx="843.9" cy="153.6" r="3.1"/>
<circle cx="750.1" cy="189.0" r="3.1"/>
<circle cx="926.4" cy="140.2" r="3.1"/>
<circle cx="795.6" cy="162.9" r="3.1"/>
<circle cx="802.0" cy="175.6" r="3.1"/>
<circle cx="837.4" cy="158.3" r="3.1"/>
<circle cx="772.0" cy="187.6" r="3.1"/>
<circle cx="807.6" cy="168.2" r="3.1"/>
<circle cx="747.5" cy="185.1" r="3.1"/>
<circle cx="880.6" cy="160.1" r="3.1"/>
<circle cx="739.9" cy="182.1" r="3.1"/>
<circle cx="775.3" cy="179.7" r="3.1"/>
<circle cx="764.8" cy="158.3" r="3.1"/>
<circle cx="746.8" cy="182.3" r="3.1"/>
<circle cx="833.5" cy="150.2" r="3.1"/>
<circle cx="761.1" cy="179.4" r="3.1"/>
<circle cx="902.3" cy="145.3" r="3.1"/>
<circle cx="775.3" cy="174.4" r="3.1"/>
<circle cx="1126.3" cy="112.1" r="3.1"/>
<circle cx="837.2" cy="177.9" r="3.1"/>
<circle cx="737.2" cy="181.2" r="3.1"/>
<circle cx="852.7" cy="163.1" r="3.1"/>
<circle cx="763.2" cy="176.2" r="3.1"/>
<circle cx="795.2" cy="169.3" r="3.1"/>
<circle cx="762.9" cy="188.3" r="3.1"/>
<circle cx="776.1" cy="175.7" r="3.1"/>
<circle cx="850.8" cy="170.7" r="3.1"/>
<circle cx="823.5" cy="169.7" r="3.1"/>
<circle cx="722.0" cy="190.1" r="3.1"/>
<circle cx="1025.9" cy="127.1" r="3.1"/>
<circle cx="769.7" cy="179.1" r="3.1"/>
<circle cx="818.9" cy="168.8" r="3.1"/>
<circle cx="746.1" cy="177.2" r="3.1"/>
<circle cx="796.5" cy="166.6" r="3.1"/>
<circle cx="916.5" cy="189.6" r="3.1"/>
<circle cx="768.3" cy="179.0" r="3.1"/>
<circle cx="949.1" cy="131.4" r="3.1"/>
<circle cx="851.0" cy="165.9" r="3.1"/>
<circle cx="856.5" cy="167.8" r="3.1"/>
<circle cx="1010.9" cy="112.3" r="3.1"/>
<circle cx="824.4" cy="160.0" r="3.1"/>
<circle cx="748.4" cy="163.4" r="3.1"/>
<circle cx="858.8" cy="163.8" r="3.1"/>
<circle cx="856.7" cy="166.4" r="3.1"/>
<circle cx="925.4" cy="130.2" r="3.1"/>
<circle cx="745.7" cy="182.8" r="3.1"/>
<circle cx="764.7" cy="178.1" r="3.1"/>
<circle cx="1053.5" cy="176.8" r="3.1"/>
<circle cx="836.6" cy="150.8" r="3.1"/>
<circle cx="762.3" cy="179.1" r="3.1"/>
<circle cx="805.0" cy="171.5" r="3.1"/>
<circle cx="798.1" cy="166.8" r="3.1"/>
<circle cx="746.5" cy="168.0" r="3.1"/>
<circle cx="844.8" cy="136.5" r="3.1"/>
<circle cx="729.4" cy="187.6" r="3.1"/>
<circle cx="731.1" cy="185.6" r="3.1"/>
<circle cx="771.7" cy="177.6" r="3.1"/>
<circle cx="793.6" cy="185.9" r="3.1"/>
<circle cx="836.7" cy="163.8" r="3.1"/>
<circle cx="1012.8" cy="116.3" r="3.1"/>
<circle cx="766.9" cy="180.2" r="3.1"/>
<circle cx="750.8" cy="183.4" r="3.1"/>
<circle cx="747.4" cy="176.6" r="3.1"/>
<circle cx="734.1" cy="177.9" r="3.1"/>
<circle cx="752.0" cy="164.5" r="3.1"/>
<circle cx="765.1" cy="170.0" r="3.1"/>
<circle cx="1091.3" cy="132.4" r="3.1"/>
<circle cx="976.3" cy="139.3" r="3.1"/>
<circle cx="748.9" cy="190.8" r="3.1"/>
<circle cx="915.4" cy="161.4" r="3.1"/>
<circle cx="714.0" cy="181.2" r="3.1"/>
<circle cx="866.9" cy="164.4" r="3.1"/>
<circle cx="781.4" cy="177.8" r="3.1"/>
<circle cx="791.0" cy="174.5" r="3.1"/>
<circle cx="766.0" cy="169.1" r="3.1"/>
<circle cx="836.5" cy="170.3" r="3.1"/>
<circle cx="1048.6" cy="127.8" r="3.1"/>
<circle cx="940.2" cy="166.0" r="3.1"/>
<circle cx="933.2" cy="131.0" r="3.1"/>
<circle cx="824.8" cy="169.9" r="3.1"/>
<circle cx="1126.3" cy="150.2" r="3.1"/>
<circle cx="945.3" cy="167.5" r="3.1"/>
<circle cx="854.6" cy="162.2" r="3.1"/>
<circle cx="990.8" cy="96.0" r="3.1"/>
<circle cx="737.1" cy="185.3" r="3.1"/>
<circle cx="764.7" cy="186.7" r="3.1"/>
<circle cx="1014.0" cy="121.8" r="3.1"/>
<circle cx="757.7" cy="172.9" r="3.1"/>
<circle cx="736.2" cy="188.2" r="3.1"/>
<circle cx="797.8" cy="179.4" r="3.1"/>
<circle cx="887.2" cy="170.1" r="3.1"/>
<circle cx="845.7" cy="163.3" r="3.1"/>
<circle cx="829.6" cy="134.1" r="3.1"/>
<circle cx="898.5" cy="120.4" r="3.1"/>
<circle cx="942.4" cy="129.7" r="3.1"/>
<circle cx="722.4" cy="185.7" r="3.1"/>
<circle cx="1000.8" cy="147.8" r="3.1"/>
<circle cx="847.7" cy="171.0" r="3.1"/>
<circle cx="979.1" cy="120.7" r="3.1"/>
<circle cx="819.9" cy="173.2" r="3.1"/>
<circle cx="785.8" cy="171.5" r="3.1"/>
<circle cx="747.2" cy="190.2" r="3.1"/>
<circle cx="896.2" cy="123.5" r="3.1"/>
<circle cx="744.2" cy="181.8" r="3.1"/>
<circle cx="942.7" cy="161.8" r="3.1"/>
<circle cx="757.2" cy="171.9" r="3.1"/>
<circle cx="733.4" cy="179.5" r="3.1"/>
<circle cx="870.6" cy="128.9" r="3.1"/>
<circle cx="825.9" cy="154.4" r="3.1"/>
<circle cx="757.9" cy="190.7" r="3.1"/>
<circle cx="726.3" cy="183.9" r="3.1"/>
<circle cx="776.0" cy="163.2" r="3.1"/>
<circle cx="969.3" cy="97.3" r="3.1"/>
<circle cx="794.5" cy="168.4" r="3.1"/>
<circle cx="911.2" cy="170.8" r="3.1"/>
<circle cx="1126.3" cy="96.6" r="3.1"/>
<circle cx="931.8" cy="129.0" r="3.1"/>
<circle cx="1126.3" cy="91.5" r="3.1"/>
<circle cx="819.0" cy="162.7" r="3.1"/>
<circle cx="1101.4" cy="116.7" r="3.1"/>
<circle cx="760.9" cy="182.3" r="3.1"/>
<circle cx="760.1" cy="169.7" r="3.1"/>
<circle cx="877.5" cy="143.1" r="3.1"/>
<circle cx="1126.3" cy="134.4" r="3.1"/>
<circle cx="859.3" cy="163.8" r="3.1"/>
<circle cx="839.3" cy="170.9" r="3.1"/>
<circle cx="967.9" cy="135.7" r="3.1"/>
<circle cx="774.5" cy="190.3" r="3.1"/>
<circle cx="983.1" cy="155.8" r="3.1"/>
<circle cx="731.0" cy="175.5" r="3.1"/>
<circle cx="764.1" cy="178.0" r="3.1"/>
<circle cx="931.5" cy="173.2" r="3.1"/>
<circle cx="835.9" cy="155.2" r="3.1"/>
<circle cx="944.2" cy="137.5" r="3.1"/>
<circle cx="795.8" cy="154.6" r="3.1"/>
<circle cx="725.3" cy="185.7" r="3.1"/>
<circle cx="841.9" cy="153.7" r="3.1"/>
<circle cx="861.3" cy="143.7" r="3.1"/>
<circle cx="744.4" cy="185.8" r="3.1"/>
<circle cx="850.6" cy="161.3" r="3.1"/>
<circle cx="900.4" cy="135.4" r="3.1"/>
<circle cx="1126.3" cy="91.5" r="3.1"/>
<circle cx="866.5" cy="137.7" r="3.1"/>
<circle cx="840.3" cy="177.3" r="3.1"/>
<circle cx="862.1" cy="150.4" r="3.1"/>
<circle cx="798.6" cy="151.4" r="3.1"/>
<circle cx="831.7" cy="154.2" r="3.1"/>
<circle cx="809.3" cy="160.0" r="3.1"/>
<circle cx="834.5" cy="171.2" r="3.1"/>
<circle cx="859.8" cy="156.6" r="3.1"/>
<circle cx="863.7" cy="173.5" r="3.1"/>
<circle cx="949.6" cy="138.8" r="3.1"/>
<circle cx="754.9" cy="179.1" r="3.1"/>
<circle cx="766.2" cy="187.2" r="3.1"/>
<circle cx="783.6" cy="162.8" r="3.1"/>
<circle cx="1056.5" cy="128.2" r="3.1"/>
<circle cx="861.1" cy="155.9" r="3.1"/>
<circle cx="745.7" cy="170.3" r="3.1"/>
<circle cx="780.7" cy="151.0" r="3.1"/>
<circle cx="880.0" cy="122.1" r="3.1"/>
<circle cx="761.8" cy="189.7" r="3.1"/>
<circle cx="901.7" cy="143.2" r="3.1"/>
<circle cx="1065.1" cy="128.4" r="3.1"/>
<circle cx="1046.4" cy="103.4" r="3.1"/>
<circle cx="819.6" cy="176.9" r="3.1"/>
<circle cx="787.6" cy="179.0" r="3.1"/>
<circle cx="757.1" cy="176.3" r="3.1"/>
<circle cx="749.9" cy="174.1" r="3.1"/>
<circle cx="731.4" cy="186.3" r="3.1"/>
<circle cx="938.3" cy="133.9" r="3.1"/>
<circle cx="787.1" cy="179.1" r="3.1"/>
<circle cx="769.8" cy="183.7" r="3.1"/>
<circle cx="980.9" cy="157.6" r="3.1"/>
<circle cx="748.3" cy="189.6" r="3.1"/>
<circle cx="747.8" cy="183.4" r="3.1"/>
<circle cx="772.4" cy="158.7" r="3.1"/>
<circle cx="942.2" cy="160.4" r="3.1"/>
<circle cx="744.9" cy="186.3" r="3.1"/>
<circle cx="761.8" cy="142.9" r="3.1"/>
<circle cx="1039.8" cy="131.3" r="3.1"/>
<circle cx="977.7" cy="148.7" r="3.1"/>
<circle cx="877.0" cy="149.6" r="3.1"/>
<circle cx="748.9" cy="181.5" r="3.1"/>
<circle cx="885.1" cy="145.9" r="3.1"/>
<circle cx="1126.3" cy="101.2" r="3.1"/>
<circle cx="876.1" cy="143.7" r="3.1"/>
<circle cx="831.4" cy="154.0" r="3.1"/>
<circle cx="890.9" cy="157.0" r="3.1"/>
<circle cx="1002.4" cy="128.1" r="3.1"/>
<circle cx="804.0" cy="157.0" r="3.1"/>
<circle cx="882.1" cy="149.0" r="3.1"/>
<circle cx="852.7" cy="182.3" r="3.1"/>
<circle cx="849.6" cy="168.5" r="3.1"/>
<circle cx="815.2" cy="163.7" r="3.1"/>
<circle cx="795.6" cy="154.5" r="3.1"/>
<circle cx="715.4" cy="189.5" r="3.1"/>
<circle cx="932.8" cy="151.2" r="3.1"/>
<circle cx="826.9" cy="166.4" r="3.1"/>
<circle cx="855.6" cy="159.5" r="3.1"/>
<circle cx="774.2" cy="167.7" r="3.1"/>
<circle cx="829.0" cy="168.0" r="3.1"/>
<circle cx="725.5" cy="171.8" r="3.1"/>
<circle cx="818.7" cy="140.4" r="3.1"/>
<circle cx="827.5" cy="132.5" r="3.1"/>
<circle cx="777.6" cy="170.5" r="3.1"/>
<circle cx="774.0" cy="167.1" r="3.1"/>
<circle cx="852.8" cy="170.6" r="3.1"/>
<circle cx="739.8" cy="186.3" r="3.1"/>
<circle cx="745.4" cy="174.1" r="3.1"/>
<circle cx="759.2" cy="170.1" r="3.1"/>
<circle cx="787.9" cy="179.1" r="3.1"/>
<circle cx="1126.3" cy="91.5" r="3.1"/>
<circle cx="955.8" cy="158.6" r="3.1"/>
<circle cx="807.9" cy="171.4" r="3.1"/>
<circle cx="875.8" cy="161.6" r="3.1"/>
<circle cx="801.8" cy="153.6" r="3.1"/>
<circle cx="913.5" cy="159.5" r="3.1"/>
<circle cx="879.1" cy="184.2" r="3.1"/>
<circle cx="717.4" cy="190.5" r="3.1"/>
<circle cx="846.2" cy="169.1" r="3.1"/>
<circle cx="771.8" cy="185.1" r="3.1"/>
<circle cx="1034.5" cy="146.2" r="3.1"/>
<circle cx="853.3" cy="161.2" r="3.1"/>
<circle cx="1007.0" cy="162.0" r="3.1"/>
<circle cx="932.4" cy="149.1" r="3.1"/>
<circle cx="803.0" cy="153.8" r="3.1"/>
<circle cx="998.1" cy="140.4" r="3.1"/>
<circle cx="1126.3" cy="117.9" r="3.1"/>
<circle cx="766.8" cy="181.4" r="3.1"/>
<circle cx="806.1" cy="162.9" r="3.1"/>
<circle cx="736.0" cy="190.9" r="3.1"/>
<circle cx="822.0" cy="170.8" r="3.1"/>
<circle cx="811.2" cy="177.6" r="3.1"/>
<circle cx="818.6" cy="160.2" r="3.1"/>
<circle cx="747.7" cy="183.8" r="3.1"/>
<circle cx="824.6" cy="150.9" r="3.1"/>
<circle cx="794.7" cy="176.3" r="3.1"/>
<circle cx="805.7" cy="173.7" r="3.1"/>
<circle cx="909.4" cy="169.9" r="3.1"/>
<circle cx="823.0" cy="156.4" r="3.1"/>
<circle cx="722.6" cy="186.8" r="3.1"/>
<circle cx="800.4" cy="189.2" r="3.1"/>
<circle cx="996.6" cy="107.1" r="3.1"/>
<circle cx="778.0" cy="186.7" r="3.1"/>
<circle cx="752.1" cy="182.7" r="3.1"/>
<circle cx="716.0" cy="181.1" r="3.1"/>
<circle cx="838.4" cy="153.9" r="3.1"/>
<circle cx="764.4" cy="179.3" r="3.1"/>
<circle cx="785.2" cy="183.6" r="3.1"/>
<circle cx="915.5" cy="150.7" r="3.1"/>
<circle cx="991.0" cy="153.7" r="3.1"/>
<circle cx="767.4" cy="164.4" r="3.1"/>
<circle cx="760.3" cy="162.3" r="3.1"/>
<circle cx="777.0" cy="178.5" r="3.1"/>
<circle cx="1121.7" cy="114.0" r="3.1"/>
<circle cx="716.9" cy="185.8" r="3.1"/>
<circle cx="897.7" cy="161.3" r="3.1"/>
<circle cx="1082.4" cy="96.0" r="3.1"/>
<circle cx="788.5" cy="187.2" r="3.1"/>
<circle cx="758.5" cy="168.1" r="3.1"/>
<circle cx="953.4" cy="131.9" r="3.1"/>
<circle cx="752.7" cy="189.8" r="3.1"/>
<circle cx="890.4" cy="145.7" r="3.1"/>
<circle cx="1126.3" cy="91.5" r="3.1"/>
<circle cx="792.2" cy="184.2" r="3.1"/>
<circle cx="738.0" cy="182.7" r="3.1"/>
<circle cx="827.4" cy="161.6" r="3.1"/>
<circle cx="897.5" cy="162.8" r="3.1"/>
<circle cx="820.6" cy="164.6" r="3.1"/>
<circle cx="792.4" cy="171.8" r="3.1"/>
<circle cx="804.9" cy="168.5" r="3.1"/>
<circle cx="881.9" cy="183.2" r="3.1"/>
<circle cx="769.1" cy="161.5" r="3.1"/>
<circle cx="825.7" cy="189.4" r="3.1"/>
<circle cx="746.0" cy="180.3" r="3.1"/>
<circle cx="894.6" cy="187.6" r="3.1"/>
<circle cx="876.8" cy="165.3" r="3.1"/>
<circle cx="756.0" cy="172.1" r="3.1"/>
<circle cx="768.0" cy="170.4" r="3.1"/>
<circle cx="780.9" cy="190.4" r="3.1"/>
<circle cx="783.5" cy="161.2" r="3.1"/>
<circle cx="781.3" cy="173.5" r="3.1"/>
<circle cx="913.4" cy="146.5" r="3.1"/>
<circle cx="725.5" cy="186.2" r="3.1"/>
<circle cx="761.5" cy="182.5" r="3.1"/>
<circle cx="863.8" cy="149.7" r="3.1"/>
<circle cx="756.2" cy="174.7" r="3.1"/>
<circle cx="956.1" cy="103.7" r="3.1"/>
<circle cx="921.0" cy="157.0" r="3.1"/>
<circle cx="925.3" cy="129.5" r="3.1"/>
<circle cx="857.6" cy="120.0" r="3.1"/>
<circle cx="727.6" cy="181.4" r="3.1"/>
<circle cx="1126.3" cy="94.2" r="3.1"/>
<circle cx="745.8" cy="168.0" r="3.1"/>
<circle cx="725.5" cy="181.5" r="3.1"/>
<circle cx="826.4" cy="169.4" r="3.1"/>
<circle cx="1025.6" cy="123.8" r="3.1"/>
<circle cx="786.2" cy="183.0" r="3.1"/>
<circle cx="914.1" cy="162.1" r="3.1"/>
<circle cx="817.0" cy="155.1" r="3.1"/>
<circle cx="736.7" cy="176.0" r="3.1"/>
<circle cx="858.3" cy="160.1" r="3.1"/>
<circle cx="1126.3" cy="141.1" r="3.1"/>
<circle cx="876.6" cy="137.8" r="3.1"/>
<circle cx="868.5" cy="149.6" r="3.1"/>
<circle cx="845.2" cy="162.7" r="3.1"/>
<circle cx="739.7" cy="189.7" r="3.1"/>
<circle cx="802.0" cy="171.3" r="3.1"/>
<circle cx="763.6" cy="170.0" r="3.1"/>
<circle cx="842.7" cy="160.5" r="3.1"/>
<circle cx="826.5" cy="163.7" r="3.1"/>
<circle cx="729.2" cy="188.9" r="3.1"/>
<circle cx="811.3" cy="166.6" r="3.1"/>
<circle cx="899.5" cy="140.7" r="3.1"/>
<circle cx="789.1" cy="181.4" r="3.1"/>
<circle cx="854.9" cy="105.2" r="3.1"/>
<circle cx="788.5" cy="183.0" r="3.1"/>
<circle cx="734.0" cy="185.3" r="3.1"/>
<circle cx="744.9" cy="185.2" r="3.1"/>
<circle cx="721.0" cy="183.2" r="3.1"/>
<circle cx="726.4" cy="175.3" r="3.1"/>
<circle cx="875.6" cy="148.8" r="3.1"/>
<circle cx="761.4" cy="159.0" r="3.1"/>
<circle cx="967.1" cy="163.3" r="3.1"/>
<circle cx="910.2" cy="151.5" r="3.1"/>
<circle cx="895.5" cy="149.7" r="3.1"/>
<circle cx="868.3" cy="150.4" r="3.1"/>
<circle cx="1041.6" cy="133.7" r="3.1"/>
<circle cx="832.7" cy="165.1" r="3.1"/>
<circle cx="774.2" cy="163.1" r="3.1"/>
<circle cx="880.6" cy="147.3" r="3.1"/>
<circle cx="746.9" cy="175.6" r="3.1"/>
<circle cx="778.7" cy="174.6" r="3.1"/>
<circle cx="719.8" cy="178.0" r="3.1"/>
<circle cx="1126.3" cy="104.8" r="3.1"/>
<circle cx="777.6" cy="162.8" r="3.1"/>
<circle cx="960.8" cy="150.0" r="3.1"/>
<circle cx="997.7" cy="129.1" r="3.1"/>
<circle cx="823.2" cy="182.2" r="3.1"/>
<circle cx="901.6" cy="168.6" r="3.1"/>
<circle cx="781.2" cy="177.5" r="3.1"/>
<circle cx="801.8" cy="145.8" r="3.1"/>
<circle cx="1012.1" cy="125.6" r="3.1"/>
<circle cx="1126.3" cy="91.5" r="3.1"/>
<circle cx="737.0" cy="190.6" r="3.1"/>
<circle cx="932.3" cy="126.3" r="3.1"/>
<circle cx="923.6" cy="145.5" r="3.1"/>
<circle cx="805.5" cy="161.6" r="3.1"/>
<circle cx="723.4" cy="170.1" r="3.1"/>
<circle cx="812.6" cy="178.3" r="3.1"/>
<circle cx="862.7" cy="144.4" r="3.1"/>
<circle cx="749.9" cy="183.9" r="3.1"/>
<circle cx="837.4" cy="157.6" r="3.1"/>
<circle cx="1013.8" cy="108.5" r="3.1"/>
<circle cx="750.0" cy="190.1" r="3.1"/>
<circle cx="873.6" cy="161.5" r="3.1"/>
<circle cx="797.9" cy="160.0" r="3.1"/>
<circle cx="910.4" cy="168.5" r="3.1"/>
<circle cx="850.6" cy="103.8" r="3.1"/>
<circle cx="801.7" cy="174.1" r="3.1"/>
<circle cx="821.1" cy="172.9" r="3.1"/>
<circle cx="732.7" cy="181.7" r="3.1"/>
<circle cx="901.5" cy="125.9" r="3.1"/>
<circle cx="784.4" cy="181.2" r="3.1"/>
<circle cx="1126.3" cy="112.4" r="3.1"/>
<circle cx="982.3" cy="107.9" r="3.1"/>
<circle cx="745.7" cy="183.0" r="3.1"/>
<circle cx="1126.3" cy="91.5" r="3.1"/>
<circle cx="793.0" cy="149.7" r="3.1"/>
<circle cx="883.0" cy="160.9" r="3.1"/>
<circle cx="1027.2" cy="150.2" r="3.1"/>
<circle cx="763.3" cy="181.6" r="3.1"/>
<circle cx="772.8" cy="176.3" r="3.1"/>
<circle cx="1003.7" cy="127.1" r="3.1"/>
<circle cx="837.3" cy="163.3" r="3.1"/>
<circle cx="798.2" cy="157.0" r="3.1"/>
<circle cx="823.0" cy="139.9" r="3.1"/>
<circle cx="872.3" cy="159.4" r="3.1"/>
<circle cx="775.4" cy="176.7" r="3.1"/>
<circle cx="708.3" cy="183.1" r="3.1"/>
<circle cx="773.5" cy="175.6" r="3.1"/>
<circle cx="992.5" cy="157.2" r="3.1"/>
<circle cx="790.6" cy="182.6" r="3.1"/>
<circle cx="769.2" cy="173.4" r="3.1"/>
<circle cx="794.4" cy="189.5" r="3.1"/>
<circle cx="829.1" cy="182.2" r="3.1"/>
<circle cx="1126.3" cy="119.3" r="3.1"/>
<circle cx="857.4" cy="156.8" r="3.1"/>
<circle cx="736.6" cy="176.2" r="3.1"/>
<circle cx="974.8" cy="163.6" r="3.1"/>
<circle cx="859.8" cy="179.4" r="3.1"/>
<circle cx="826.0" cy="155.7" r="3.1"/>
<circle cx="732.0" cy="190.5" r="3.1"/>
<circle cx="764.5" cy="187.6" r="3.1"/>
<circle cx="860.8" cy="159.1" r="3.1"/>
<circle cx="769.5" cy="176.1" r="3.1"/>
<circle cx="932.6" cy="147.0" r="3.1"/>
<circle cx="762.3" cy="176.2" r="3.1"/>
<circle cx="899.5" cy="160.5" r="3.1"/>
<circle cx="886.2" cy="151.0" r="3.1"/>
<circle cx="781.0" cy="185.4" r="3.1"/>
<circle cx="831.9" cy="158.3" r="3.1"/>
<circle cx="1040.6" cy="116.8" r="3.1"/>
<circle cx="770.5" cy="189.4" r="3.1"/>
<circle cx="926.9" cy="139.2" r="3.1"/>
<circle cx="844.1" cy="164.1" r="3.1"/>
<circle cx="765.8" cy="167.0" r="3.1"/>
<circle cx="819.2" cy="164.2" r="3.1"/>
<circle cx="759.6" cy="184.2" r="3.1"/>
<circle cx="830.8" cy="157.7" r="3.1"/>
<circle cx="844.4" cy="150.9" r="3.1"/>
<circle cx="929.4" cy="129.8" r="3.1"/>
<circle cx="879.7" cy="145.0" r="3.1"/>
<circle cx="736.9" cy="184.6" r="3.1"/>
<circle cx="895.3" cy="136.8" r="3.1"/>
<circle cx="777.8" cy="149.4" r="3.1"/>
<circle cx="770.1" cy="187.5" r="3.1"/>
<circle cx="1006.8" cy="127.2" r="3.1"/>
<circle cx="1041.6" cy="111.0" r="3.1"/>
<circle cx="780.2" cy="174.4" r="3.1"/>
<circle cx="760.5" cy="188.0" r="3.1"/>
<circle cx="818.8" cy="150.9" r="3.1"/>
<circle cx="791.7" cy="155.3" r="3.1"/>
<circle cx="1126.3" cy="100.1" r="3.1"/>
<circle cx="771.0" cy="181.1" r="3.1"/>
<circle cx="971.7" cy="132.1" r="3.1"/>
<circle cx="815.2" cy="177.7" r="3.1"/>
<circle cx="853.3" cy="176.5" r="3.1"/>
<circle cx="1080.4" cy="100.0" r="3.1"/>
<circle cx="822.8" cy="160.1" r="3.1"/>
<circle cx="896.6" cy="151.7" r="3.1"/>
<circle cx="934.7" cy="128.7" r="3.1"/>
<circle cx="944.5" cy="151.9" r="3.1"/>
<circle cx="816.8" cy="184.5" r="3.1"/>
<circle cx="895.4" cy="141.4" r="3.1"/>
<circle cx="751.3" cy="188.6" r="3.1"/>
<circle cx="729.1" cy="183.1" r="3.1"/>
<circle cx="996.3" cy="127.4" r="3.1"/>
<circle cx="734.4" cy="184.7" r="3.1"/>
<circle cx="731.9" cy="189.0" r="3.1"/>
<circle cx="917.3" cy="153.4" r="3.1"/>
<circle cx="754.2" cy="182.3" r="3.1"/>
<circle cx="734.0" cy="190.7" r="3.1"/>
<circle cx="783.3" cy="178.7" r="3.1"/>
<circle cx="870.1" cy="157.4" r="3.1"/>
<circle cx="744.7" cy="174.1" r="3.1"/>
<circle cx="966.5" cy="145.0" r="3.1"/>
<circle cx="1126.3" cy="136.4" r="3.1"/>
<circle cx="861.3" cy="143.3" r="3.1"/>
<circle cx="892.0" cy="152.9" r="3.1"/>
<circle cx="756.3" cy="170.6" r="3.1"/>
<circle cx="857.2" cy="181.0" r="3.1"/>
<circle cx="1126.3" cy="91.5" r="3.1"/>
<circle cx="1039.9" cy="135.0" r="3.1"/>
<circle cx="787.9" cy="177.5" r="3.1"/>
<circle cx="877.9" cy="164.7" r="3.1"/>
<circle cx="754.8" cy="186.7" r="3.1"/>
<circle cx="851.0" cy="160.8" r="3.1"/>
<circle cx="851.2" cy="177.7" r="3.1"/>
<circle cx="761.8" cy="186.4" r="3.1"/>
<circle cx="784.3" cy="169.1" r="3.1"/>
<circle cx="967.8" cy="145.6" r="3.1"/>
<circle cx="765.8" cy="190.4" r="3.1"/>
<circle cx="775.8" cy="190.2" r="3.1"/>
<circle cx="813.5" cy="123.3" r="3.1"/>
<circle cx="761.2" cy="177.7" r="3.1"/>
<circle cx="818.4" cy="164.4" r="3.1"/>
<circle cx="789.7" cy="164.1" r="3.1"/>
<circle cx="806.4" cy="173.2" r="3.1"/>
<circle cx="851.3" cy="141.2" r="3.1"/>
<circle cx="966.2" cy="121.6" r="3.1"/>
<circle cx="790.9" cy="150.7" r="3.1"/>
<circle cx="825.1" cy="166.2" r="3.1"/>
<circle cx="740.2" cy="169.7" r="3.1"/>
<circle cx="933.7" cy="152.7" r="3.1"/>
<circle cx="794.1" cy="181.5" r="3.1"/>
<circle cx="1126.3" cy="91.5" r="3.1"/>
<circle cx="899.9" cy="150.2" r="3.1"/>
<circle cx="905.3" cy="150.1" r="3.1"/>
<circle cx="870.2" cy="163.2" r="3.1"/>
<circle cx="742.5" cy="178.1" r="3.1"/>
<circle cx="942.2" cy="153.5" r="3.1"/>
<circle cx="815.6" cy="172.6" r="3.1"/>
<circle cx="875.0" cy="150.3" r="3.1"/>
<circle cx="903.7" cy="149.2" r="3.1"/>
<circle cx="725.9" cy="180.4" r="3.1"/>
<circle cx="1031.4" cy="131.8" r="3.1"/>
<circle cx="703.1" cy="184.7" r="3.1"/>
<circle cx="939.4" cy="157.6" r="3.1"/>
<circle cx="828.3" cy="174.7" r="3.1"/>
<circle cx="794.5" cy="151.1" r="3.1"/>
<circle cx="921.9" cy="125.0" r="3.1"/>
<circle cx="860.5" cy="176.3" r="3.1"/>
<circle cx="933.3" cy="147.4" r="3.1"/>
<circle cx="862.6" cy="140.2" r="3.1"/>
<circle cx="860.3" cy="176.2" r="3.1"/>
<circle cx="819.0" cy="170.8" r="3.1"/>
<circle cx="874.1" cy="177.3" r="3.1"/>
<circle cx="855.9" cy="190.3" r="3.1"/>
<circle cx="799.0" cy="170.8" r="3.1"/>
<circle cx="908.4" cy="147.4" r="3.1"/>
<circle cx="817.0" cy="168.8" r="3.1"/>
<circle cx="941.2" cy="176.4" r="3.1"/>
<circle cx="870.1" cy="136.0" r="3.1"/>
<circle cx="1035.2" cy="134.0" r="3.1"/>
<circle cx="993.6" cy="125.9" r="3.1"/>
<circle cx="1120.9" cy="145.6" r="3.1"/>
<circle cx="792.1" cy="173.9" r="3.1"/>
<circle cx="901.9" cy="160.2" r="3.1"/>
<circle cx="1126.3" cy="98.8" r="3.1"/>
<circle cx="947.1" cy="158.8" r="3.1"/>
<circle cx="762.5" cy="165.9" r="3.1"/>
<circle cx="827.1" cy="186.6" r="3.1"/>
<circle cx="771.1" cy="179.4" r="3.1"/>
<circle cx="835.0" cy="153.5" r="3.1"/>
<circle cx="949.3" cy="150.2" r="3.1"/>
<circle cx="953.0" cy="137.3" r="3.1"/>
<circle cx="753.5" cy="179.1" r="3.1"/>
<circle cx="859.4" cy="165.8" r="3.1"/>
<circle cx="821.2" cy="138.1" r="3.1"/>
<circle cx="784.7" cy="171.8" r="3.1"/>
<circle cx="858.8" cy="164.7" r="3.1"/>
<circle cx="881.1" cy="183.4" r="3.1"/>
<circle cx="753.1" cy="167.2" r="3.1"/>
<circle cx="937.2" cy="134.7" r="3.1"/>
<circle cx="804.7" cy="172.3" r="3.1"/>
<circle cx="885.6" cy="172.7" r="3.1"/>
<circle cx="777.8" cy="176.5" r="3.1"/>
<circle cx="880.7" cy="157.3" r="3.1"/>
<circle cx="732.2" cy="187.8" r="3.1"/>
<circle cx="1008.0" cy="153.4" r="3.1"/>
<circle cx="838.8" cy="156.8" r="3.1"/>
<circle cx="975.3" cy="163.9" r="3.1"/>
<circle cx="753.6" cy="187.8" r="3.1"/>
<circle cx="781.0" cy="172.5" r="3.1"/>
<circle cx="897.3" cy="149.2" r="3.1"/>
<circle cx="741.4" cy="190.0" r="3.1"/>
<circle cx="932.2" cy="149.9" r="3.1"/>
<circle cx="799.4" cy="170.6" r="3.1"/>
<circle cx="781.6" cy="158.0" r="3.1"/>
<circle cx="762.1" cy="167.3" r="3.1"/>
<circle cx="723.7" cy="185.2" r="3.1"/>
<circle cx="928.5" cy="133.8" r="3.1"/>
<circle cx="1019.1" cy="165.1" r="3.1"/>
<circle cx="829.9" cy="181.2" r="3.1"/>
<circle cx="884.0" cy="148.2" r="3.1"/>
<circle cx="932.8" cy="154.3" r="3.1"/>
<circle cx="761.1" cy="183.4" r="3.1"/>
<circle cx="822.3" cy="158.5" r="3.1"/>
<circle cx="807.2" cy="177.3" r="3.1"/>
<circle cx="767.6" cy="190.5" r="3.1"/>
<circle cx="761.5" cy="180.5" r="3.1"/>
<circle cx="876.7" cy="158.1" r="3.1"/>
<circle cx="853.9" cy="154.4" r="3.1"/>
<circle cx="931.3" cy="144.4" r="3.1"/>
<circle cx="988.6" cy="131.4" r="3.1"/>
<circle cx="741.7" cy="172.0" r="3.1"/>
<circle cx="1126.3" cy="128.3" r="3.1"/>
<circle cx="940.6" cy="133.4" r="3.1"/>
<circle cx="850.1" cy="179.7" r="3.1"/>
<circle cx="725.6" cy="185.4" r="3.1"/>
<circle cx="919.5" cy="172.5" r="3.1"/>
<circle cx="770.9" cy="164.8" r="3.1"/>
<circle cx="982.0" cy="158.1" r="3.1"/>
<circle cx="875.7" cy="155.9" r="3.1"/>
<circle cx="805.0" cy="165.8" r="3.1"/>
<circle cx="722.6" cy="188.0" r="3.1"/>
<circle cx="846.9" cy="172.7" r="3.1"/>
<circle cx="888.6" cy="153.0" r="3.1"/>
<circle cx="1003.1" cy="144.0" r="3.1"/>
<circle cx="731.3" cy="180.1" r="3.1"/>
<circle cx="854.1" cy="148.9" r="3.1"/>
<circle cx="744.5" cy="190.0" r="3.1"/>
<circle cx="960.2" cy="167.6" r="3.1"/>
<circle cx="755.2" cy="187.1" r="3.1"/>
<circle cx="827.0" cy="182.3" r="3.1"/>
<circle cx="877.2" cy="164.7" r="3.1"/>
<circle cx="751.7" cy="163.5" r="3.1"/>
<circle cx="937.2" cy="161.7" r="3.1"/>
<circle cx="760.1" cy="187.8" r="3.1"/>
<circle cx="799.7" cy="182.0" r="3.1"/>
<circle cx="720.5" cy="179.9" r="3.1"/>
<circle cx="774.3" cy="156.7" r="3.1"/>
<circle cx="865.2" cy="157.5" r="3.1"/>
<circle cx="911.6" cy="134.1" r="3.1"/>
<circle cx="876.2" cy="156.4" r="3.1"/>
<circle cx="822.5" cy="150.5" r="3.1"/>
<circle cx="827.0" cy="178.7" r="3.1"/>
<circle cx="750.2" cy="175.4" r="3.1"/>
<circle cx="901.5" cy="149.7" r="3.1"/>
<circle cx="771.3" cy="186.6" r="3.1"/>
<circle cx="830.5" cy="156.2" r="3.1"/>
<circle cx="778.6" cy="164.2" r="3.1"/>
<circle cx="877.5" cy="189.8" r="3.1"/>
<circle cx="739.7" cy="190.3" r="3.1"/>
<circle cx="795.9" cy="164.3" r="3.1"/>
<circle cx="731.5" cy="185.1" r="3.1"/>
<circle cx="764.4" cy="176.1" r="3.1"/>
<circle cx="778.3" cy="170.6" r="3.1"/>
<circle cx="857.0" cy="155.9" r="3.1"/>
<circle cx="744.5" cy="188.4" r="3.1"/>
<circle cx="1015.4" cy="133.0" r="3.1"/>
<circle cx="815.6" cy="167.6" r="3.1"/>
<circle cx="946.3" cy="135.4" r="3.1"/>
<circle cx="991.4" cy="167.6" r="3.1"/>
<circle cx="792.6" cy="177.3" r="3.1"/>
<circle cx="735.5" cy="189.9" r="3.1"/>
<circle cx="779.9" cy="181.4" r="3.1"/>
<circle cx="737.2" cy="173.5" r="3.1"/>
<circle cx="1058.3" cy="110.3" r="3.1"/>
<circle cx="897.5" cy="144.7" r="3.1"/>
<circle cx="913.7" cy="149.5" r="3.1"/>
<circle cx="902.8" cy="136.2" r="3.1"/>
<circle cx="763.3" cy="189.0" r="3.1"/>
<circle cx="958.1" cy="139.5" r="3.1"/>
<circle cx="882.7" cy="178.3" r="3.1"/>
<circle cx="833.9" cy="161.3" r="3.1"/>
<circle cx="1126.3" cy="91.5" r="3.1"/>
<circle cx="997.4" cy="133.4" r="3.1"/>
<circle cx="867.3" cy="144.5" r="3.1"/>
<circle cx="1076.0" cy="115.0" r="3.1"/>
<circle cx="787.2" cy="160.6" r="3.1"/>
<circle cx="751.8" cy="173.1" r="3.1"/>
<circle cx="820.2" cy="174.4" r="3.1"/>
<circle cx="786.8" cy="154.1" r="3.1"/>
<circle cx="775.4" cy="188.8" r="3.1"/>
<circle cx="824.2" cy="190.7" r="3.1"/>
<circle cx="791.3" cy="190.5" r="3.1"/>
<circle cx="772.0" cy="180.0" r="3.1"/>
<circle cx="1122.0" cy="96.0" r="3.1"/>
<circle cx="762.7" cy="190.6" r="3.1"/>
<circle cx="1024.4" cy="133.3" r="3.1"/>
<circle cx="768.9" cy="183.7" r="3.1"/>
<circle cx="832.8" cy="166.9" r="3.1"/>
<circle cx="831.4" cy="155.9" r="3.1"/>
<circle cx="1036.4" cy="96.0" r="3.1"/>
<circle cx="907.2" cy="153.3" r="3.1"/>
<circle cx="1126.3" cy="164.9" r="3.1"/>
<circle cx="756.1" cy="169.2" r="3.1"/>
<circle cx="766.0" cy="158.8" r="3.1"/>
<circle cx="1035.3" cy="142.6" r="3.1"/>
<circle cx="1029.7" cy="136.9" r="3.1"/>
<circle cx="751.5" cy="190.3" r="3.1"/>
<circle cx="770.9" cy="165.8" r="3.1"/>
<circle cx="767.9" cy="189.8" r="3.1"/>
<circle cx="847.9" cy="176.6" r="3.1"/>
<circle cx="793.4" cy="142.6" r="3.1"/>
<circle cx="794.2" cy="163.6" r="3.1"/>
<circle cx="1008.1" cy="153.5" r="3.1"/>
<circle cx="723.5" cy="188.0" r="3.1"/>
<circle cx="1126.3" cy="109.9" r="3.1"/>
<circle cx="817.4" cy="162.3" r="3.1"/>
<circle cx="813.6" cy="169.8" r="3.1"/>
<circle cx="942.8" cy="112.1" r="3.1"/>
<circle cx="851.1" cy="161.2" r="3.1"/>
<circle cx="852.7" cy="139.9" r="3.1"/>
<circle cx="1014.2" cy="154.6" r="3.1"/>
<circle cx="852.4" cy="161.3" r="3.1"/>
<circle cx="746.0" cy="184.9" r="3.1"/>
<circle cx="770.2" cy="176.8" r="3.1"/>
<circle cx="835.5" cy="173.2" r="3.1"/>
<circle cx="833.9" cy="162.8" r="3.1"/>
<circle cx="824.3" cy="177.3" r="3.1"/>
<circle cx="730.2" cy="187.1" r="3.1"/>
<circle cx="729.9" cy="190.7" r="3.1"/>
<circle cx="796.3" cy="174.0" r="3.1"/>
<circle cx="954.2" cy="153.0" r="3.1"/>
<circle cx="771.9" cy="185.6" r="3.1"/>
<circle cx="764.5" cy="185.5" r="3.1"/>
<circle cx="825.6" cy="190.8" r="3.1"/>
<circle cx="908.9" cy="139.7" r="3.1"/>
<circle cx="780.5" cy="165.4" r="3.1"/>
<circle cx="934.2" cy="150.1" r="3.1"/>
<circle cx="740.5" cy="190.5" r="3.1"/>
<circle cx="765.9" cy="190.2" r="3.1"/>
<circle cx="966.1" cy="138.9" r="3.1"/>
<circle cx="882.9" cy="158.4" r="3.1"/>
<circle cx="772.5" cy="181.1" r="3.1"/>
<circle cx="844.9" cy="139.2" r="3.1"/>
<circle cx="779.0" cy="180.6" r="3.1"/>
<circle cx="978.1" cy="130.9" r="3.1"/>
<circle cx="725.1" cy="190.2" r="3.1"/>
<circle cx="800.5" cy="175.4" r="3.1"/>
<circle cx="1042.8" cy="173.0" r="3.1"/>
<circle cx="748.4" cy="183.0" r="3.1"/>
<circle cx="954.1" cy="138.1" r="3.1"/>
<circle cx="1126.3" cy="91.5" r="3.1"/>
<circle cx="802.0" cy="169.4" r="3.1"/>
<circle cx="880.4" cy="160.5" r="3.1"/>
<circle cx="741.2" cy="188.5" r="3.1"/>
<circle cx="734.5" cy="179.0" r="3.1"/>
<circle cx="817.7" cy="153.6" r="3.1"/>
<circle cx="1074.8" cy="128.0" r="3.1"/>
<circle cx="760.8" cy="179.6" r="3.1"/>
<circle cx="747.8" cy="190.2" r="3.1"/>
<circle cx="729.1" cy="175.7" r="3.1"/>
<circle cx="963.8" cy="143.2" r="3.1"/>
<circle cx="1068.3" cy="135.9" r="3.1"/>
<circle cx="1049.1" cy="128.7" r="3.1"/>
<circle cx="758.6" cy="186.2" r="3.1"/>
<circle cx="789.2" cy="172.9" r="3.1"/>
<circle cx="872.0" cy="162.4" r="3.1"/>
<circle cx="945.5" cy="140.6" r="3.1"/>
<circle cx="1070.1" cy="138.7" r="3.1"/>
<circle cx="915.3" cy="122.8" r="3.1"/>
<circle cx="930.7" cy="160.2" r="3.1"/>
<circle cx="812.5" cy="165.0" r="3.1"/>
<circle cx="868.6" cy="151.5" r="3.1"/>
<circle cx="828.6" cy="162.0" r="3.1"/>
<circle cx="852.3" cy="168.5" r="3.1"/>
<circle cx="871.2" cy="152.2" r="3.1"/>
<circle cx="728.6" cy="186.5" r="3.1"/>
<circle cx="808.9" cy="169.2" r="3.1"/>
<circle cx="767.1" cy="171.6" r="3.1"/>
<circle cx="776.6" cy="189.1" r="3.1"/>
<circle cx="794.7" cy="166.0" r="3.1"/>
<circle cx="828.8" cy="155.9" r="3.1"/>
<circle cx="960.3" cy="147.0" r="3.1"/>
<circle cx="1008.2" cy="119.1" r="3.1"/>
<circle cx="751.6" cy="183.2" r="3.1"/>
<circle cx="888.7" cy="165.9" r="3.1"/>
<circle cx="1126.3" cy="97.7" r="3.1"/>
<circle cx="947.4" cy="102.2" r="3.1"/>
<circle cx="780.8" cy="178.0" r="3.1"/>
<circle cx="767.2" cy="184.1" r="3.1"/>
<circle cx="905.6" cy="163.5" r="3.1"/>
<circle cx="753.6" cy="180.1" r="3.1"/>
<circle cx="881.6" cy="156.9" r="3.1"/>
<circle cx="913.1" cy="180.0" r="3.1"/>
<circle cx="828.5" cy="176.3" r="3.1"/>
<circle cx="736.4" cy="189.6" r="3.1"/>
<circle cx="1126.3" cy="106.7" r="3.1"/>
<circle cx="903.7" cy="147.8" r="3.1"/>
<circle cx="781.7" cy="176.0" r="3.1"/>
<circle cx="766.2" cy="184.2" r="3.1"/>
<circle cx="743.2" cy="180.8" r="3.1"/>
<circle cx="744.4" cy="175.7" r="3.1"/>
<circle cx="973.7" cy="142.5" r="3.1"/>
<circle cx="1049.2" cy="164.5" r="3.1"/>
<circle cx="764.5" cy="188.7" r="3.1"/>
<circle cx="735.4" cy="188.3" r="3.1"/>
<circle cx="825.6" cy="171.0" r="3.1"/>
<circle cx="1080.9" cy="115.2" r="3.1"/>
<circle cx="731.7" cy="190.9" r="3.1"/>
<circle cx="811.5" cy="171.4" r="3.1"/>
<circle cx="748.5" cy="177.5" r="3.1"/>
<circle cx="892.5" cy="160.5" r="3.1"/>
<circle cx="779.5" cy="185.4" r="3.1"/>
<circle cx="764.1" cy="178.9" r="3.1"/>
<circle cx="771.4" cy="153.7" r="3.1"/>
<circle cx="946.4" cy="185.4" r="3.1"/>
<circle cx="805.5" cy="172.7" r="3.1"/>
<circle cx="908.5" cy="131.2" r="3.1"/>
<circle cx="792.9" cy="167.9" r="3.1"/>
<circle cx="796.1" cy="159.0" r="3.1"/>
<circle cx="1019.0" cy="126.5" r="3.1"/>
<circle cx="836.8" cy="167.8" r="3.1"/>
<circle cx="715.2" cy="189.3" r="3.1"/>
<circle cx="784.2" cy="171.3" r="3.1"/>
<circle cx="758.8" cy="170.0" r="3.1"/>
<circle cx="1014.0" cy="161.0" r="3.1"/>
<circle cx="742.6" cy="176.7" r="3.1"/>
<circle cx="728.2" cy="179.9" r="3.1"/>
<circle cx="857.6" cy="149.4" r="3.1"/>
<circle cx="841.0" cy="170.5" r="3.1"/>
<circle cx="756.4" cy="186.1" r="3.1"/>
<circle cx="1126.3" cy="91.5" r="3.1"/>
<circle cx="1032.2" cy="140.7" r="3.1"/>
<circle cx="819.5" cy="178.5" r="3.1"/>
<circle cx="793.9" cy="165.0" r="3.1"/>
<circle cx="756.1" cy="175.0" r="3.1"/>
<circle cx="847.4" cy="163.9" r="3.1"/>
<circle cx="782.5" cy="181.1" r="3.1"/>
<circle cx="916.0" cy="143.6" r="3.1"/>
<circle cx="745.5" cy="183.3" r="3.1"/>
<circle cx="873.5" cy="151.3" r="3.1"/>
<circle cx="1074.8" cy="127.9" r="3.1"/>
<circle cx="1060.2" cy="128.3" r="3.1"/>
<circle cx="1000.6" cy="134.2" r="3.1"/>
<circle cx="726.6" cy="178.4" r="3.1"/>
<circle cx="723.0" cy="180.5" r="3.1"/>
<circle cx="983.0" cy="129.3" r="3.1"/>
<circle cx="728.5" cy="181.0" r="3.1"/>
<circle cx="1036.1" cy="137.0" r="3.1"/>
<circle cx="785.9" cy="173.8" r="3.1"/>
<circle cx="774.2" cy="190.7" r="3.1"/>
<circle cx="766.7" cy="169.9" r="3.1"/>
<circle cx="801.6" cy="180.8" r="3.1"/>
<circle cx="957.2" cy="145.9" r="3.1"/>
<circle cx="769.7" cy="174.1" r="3.1"/>
<circle cx="847.0" cy="149.8" r="3.1"/>
<circle cx="787.5" cy="187.4" r="3.1"/>
<circle cx="1035.4" cy="114.0" r="3.1"/>
<circle cx="940.6" cy="167.9" r="3.1"/>
<circle cx="834.3" cy="167.1" r="3.1"/>
<circle cx="777.5" cy="172.7" r="3.1"/>
<circle cx="828.8" cy="151.7" r="3.1"/>
<circle cx="866.8" cy="133.3" r="3.1"/>
<circle cx="729.6" cy="174.7" r="3.1"/>
<circle cx="1126.3" cy="111.3" r="3.1"/>
<circle cx="741.5" cy="181.8" r="3.1"/>
<circle cx="735.5" cy="175.3" r="3.1"/>
<circle cx="949.4" cy="154.4" r="3.1"/>
<circle cx="750.9" cy="190.8" r="3.1"/>
<circle cx="879.5" cy="153.0" r="3.1"/>
<circle cx="893.7" cy="153.3" r="3.1"/>
<circle cx="869.2" cy="120.9" r="3.1"/>
<circle cx="864.9" cy="150.5" r="3.1"/>
<circle cx="842.5" cy="168.7" r="3.1"/>
<circle cx="790.0" cy="176.6" r="3.1"/>
<circle cx="802.1" cy="164.2" r="3.1"/>
<circle cx="909.2" cy="145.2" r="3.1"/>
<circle cx="794.9" cy="154.6" r="3.1"/>
<circle cx="740.2" cy="182.1" r="3.1"/>
<circle cx="959.8" cy="137.4" r="3.1"/>
<circle cx="1090.7" cy="160.8" r="3.1"/>
<circle cx="805.5" cy="165.2" r="3.1"/>
<circle cx="784.9" cy="169.0" r="3.1"/>
<circle cx="940.8" cy="155.8" r="3.1"/>
<circle cx="733.9" cy="187.7" r="3.1"/>
<circle cx="850.6" cy="142.1" r="3.1"/>
<circle cx="851.5" cy="181.8" r="3.1"/>
<circle cx="820.9" cy="171.0" r="3.1"/>
<circle cx="890.3" cy="129.9" r="3.1"/>
<circle cx="764.8" cy="182.4" r="3.1"/>
<circle cx="1126.3" cy="106.7" r="3.1"/>
<circle cx="775.1" cy="176.1" r="3.1"/>
<circle cx="742.7" cy="180.1" r="3.1"/>
<circle cx="858.2" cy="163.9" r="3.1"/>
<circle cx="856.6" cy="166.3" r="3.1"/>
<circle cx="861.8" cy="134.2" r="3.1"/>
<circle cx="994.8" cy="169.1" r="3.1"/>
<circle cx="761.9" cy="175.6" r="3.1"/>
<circle cx="844.7" cy="174.8" r="3.1"/>
<circle cx="921.6" cy="163.0" r="3.1"/>
<circle cx="787.0" cy="179.0" r="3.1"/>
<circle cx="1126.3" cy="91.5" r="3.1"/>
<circle cx="1066.5" cy="140.0" r="3.1"/>
<circle cx="708.3" cy="188.2" r="3.1"/>
<circle cx="1110.3" cy="113.5" r="3.1"/>
<circle cx="831.5" cy="159.5" r="3.1"/>
<circle cx="727.0" cy="190.3" r="3.1"/>
<circle cx="1092.1" cy="116.1" r="3.1"/>
<circle cx="791.7" cy="158.2" r="3.1"/>
<circle cx="863.6" cy="156.9" r="3.1"/>
<circle cx="743.6" cy="178.2" r="3.1"/>
<circle cx="1126.3" cy="150.6" r="3.1"/>
<circle cx="837.7" cy="141.8" r="3.1"/>
<circle cx="986.2" cy="141.9" r="3.1"/>
<circle cx="715.4" cy="182.6" r="3.1"/>
<circle cx="978.1" cy="131.1" r="3.1"/>
<circle cx="829.9" cy="170.5" r="3.1"/>
<circle cx="817.5" cy="171.8" r="3.1"/>
<circle cx="791.7" cy="159.0" r="3.1"/>
<circle cx="1118.8" cy="136.2" r="3.1"/>
<circle cx="815.3" cy="150.3" r="3.1"/>
<circle cx="1126.3" cy="123.3" r="3.1"/>
<circle cx="820.7" cy="172.0" r="3.1"/>
<circle cx="859.8" cy="152.3" r="3.1"/>
<circle cx="920.1" cy="132.1" r="3.1"/>
<circle cx="931.4" cy="119.3" r="3.1"/>
<circle cx="873.2" cy="179.7" r="3.1"/>
<circle cx="781.3" cy="174.1" r="3.1"/>
<circle cx="892.2" cy="114.8" r="3.1"/>
<circle cx="770.3" cy="167.2" r="3.1"/>
<circle cx="798.6" cy="177.4" r="3.1"/>
<circle cx="778.2" cy="181.3" r="3.1"/>
<circle cx="1000.9" cy="132.8" r="3.1"/>
<circle cx="961.5" cy="136.8" r="3.1"/>
<circle cx="795.1" cy="148.4" r="3.1"/>
<circle cx="1028.2" cy="139.4" r="3.1"/>
<circle cx="834.9" cy="142.6" r="3.1"/>
<circle cx="829.4" cy="158.2" r="3.1"/>
<circle cx="732.8" cy="179.7" r="3.1"/>
<circle cx="807.8" cy="164.3" r="3.1"/>
<circle cx="907.6" cy="154.8" r="3.1"/>
<circle cx="971.4" cy="143.2" r="3.1"/>
<circle cx="746.0" cy="177.0" r="3.1"/>
<circle cx="900.9" cy="129.2" r="3.1"/>
<circle cx="986.9" cy="137.0" r="3.1"/>
<circle cx="936.3" cy="128.6" r="3.1"/>
<circle cx="725.8" cy="190.1" r="3.1"/>
<circle cx="850.0" cy="169.7" r="3.1"/>
<circle cx="771.8" cy="186.8" r="3.1"/>
<circle cx="859.4" cy="176.6" r="3.1"/>
<circle cx="877.5" cy="126.7" r="3.1"/>
<circle cx="768.6" cy="188.0" r="3.1"/>
<circle cx="714.3" cy="180.0" r="3.1"/>
<circle cx="878.3" cy="142.7" r="3.1"/>
<circle cx="928.3" cy="150.4" r="3.1"/>
<circle cx="723.4" cy="189.7" r="3.1"/>
<circle cx="818.3" cy="161.0" r="3.1"/>
<circle cx="773.2" cy="167.4" r="3.1"/>
<circle cx="782.5" cy="190.5" r="3.1"/>
<circle cx="813.0" cy="159.3" r="3.1"/>
<circle cx="877.9" cy="157.7" r="3.1"/>
<circle cx="1009.8" cy="159.3" r="3.1"/>
<circle cx="878.8" cy="166.6" r="3.1"/>
<circle cx="834.3" cy="137.3" r="3.1"/>
<circle cx="818.3" cy="159.8" r="3.1"/>
<circle cx="921.1" cy="128.2" r="3.1"/>
<circle cx="1126.3" cy="94.1" r="3.1"/>
<circle cx="1126.3" cy="91.5" r="3.1"/>
<circle cx="843.9" cy="169.0" r="3.1"/>
<circle cx="747.2" cy="167.1" r="3.1"/>
<circle cx="777.8" cy="180.3" r="3.1"/>
<circle cx="1126.3" cy="113.2" r="3.1"/>
<circle cx="728.7" cy="179.2" r="3.1"/>
<circle cx="771.7" cy="157.5" r="3.1"/>
<circle cx="872.2" cy="141.2" r="3.1"/>
<circle cx="838.1" cy="152.8" r="3.1"/>
<circle cx="784.7" cy="167.5" r="3.1"/>
<circle cx="814.1" cy="171.6" r="3.1"/>
<circle cx="837.2" cy="156.6" r="3.1"/>
<circle cx="1126.3" cy="91.5" r="3.1"/>
<circle cx="817.1" cy="157.9" r="3.1"/>
<circle cx="739.5" cy="181.8" r="3.1"/>
<circle cx="765.9" cy="176.4" r="3.1"/>
<circle cx="946.6" cy="129.9" r="3.1"/>
<circle cx="1032.4" cy="113.3" r="3.1"/>
<circle cx="759.8" cy="177.3" r="3.1"/>
<circle cx="724.8" cy="183.2" r="3.1"/>
<circle cx="1062.5" cy="154.3" r="3.1"/>
<circle cx="737.1" cy="174.6" r="3.1"/>
<circle cx="804.2" cy="170.9" r="3.1"/>
<circle cx="816.6" cy="183.0" r="3.1"/>
<circle cx="1092.1" cy="112.1" r="3.1"/>
<circle cx="877.1" cy="119.4" r="3.1"/>
<circle cx="877.2" cy="158.0" r="3.1"/>
<circle cx="1103.5" cy="123.4" r="3.1"/>
<circle cx="815.3" cy="160.8" r="3.1"/>
<circle cx="814.5" cy="180.6" r="3.1"/>
<circle cx="811.5" cy="160.6" r="3.1"/>
<circle cx="909.6" cy="149.9" r="3.1"/>
<circle cx="1026.0" cy="134.6" r="3.1"/>
<circle cx="835.1" cy="164.9" r="3.1"/>
<circle cx="870.1" cy="174.8" r="3.1"/>
<circle cx="834.0" cy="155.1" r="3.1"/>
<circle cx="781.8" cy="166.9" r="3.1"/>
<circle cx="859.8" cy="166.0" r="3.1"/>
<circle cx="738.8" cy="189.7" r="3.1"/>
<circle cx="941.3" cy="149.1" r="3.1"/>
<circle cx="1053.1" cy="141.8" r="3.1"/>
<circle cx="764.9" cy="190.6" r="3.1"/>
<circle cx="914.9" cy="147.0" r="3.1"/>
<circle cx="891.8" cy="169.3" r="3.1"/>
<circle cx="746.6" cy="174.3" r="3.1"/>
<circle cx="764.1" cy="178.7" r="3.1"/>
<circle cx="821.2" cy="124.6" r="3.1"/>
<circle cx="812.1" cy="190.2" r="3.1"/>
<circle cx="851.9" cy="155.1" r="3.1"/>
<circle cx="771.1" cy="173.3" r="3.1"/>
<circle cx="938.7" cy="124.1" r="3.1"/>
<circle cx="816.7" cy="154.8" r="3.1"/>
<circle cx="1126.3" cy="104.5" r="3.1"/>
<circle cx="853.7" cy="169.3" r="3.1"/>
<circle cx="921.7" cy="163.6" r="3.1"/>
<circle cx="935.6" cy="123.0" r="3.1"/>
<circle cx="827.6" cy="173.4" r="3.1"/>
<circle cx="878.7" cy="176.0" r="3.1"/>
<circle cx="813.6" cy="150.0" r="3.1"/>
<circle cx="839.7" cy="177.5" r="3.1"/>
<circle cx="817.0" cy="169.1" r="3.1"/>
<circle cx="823.2" cy="161.1" r="3.1"/>
<circle cx="871.4" cy="167.1" r="3.1"/>
<circle cx="974.7" cy="172.2" r="3.1"/>
<circle cx="740.5" cy="179.8" r="3.1"/>
<circle cx="767.4" cy="166.2" r="3.1"/>
<circle cx="790.4" cy="162.4" r="3.1"/>
<circle cx="925.8" cy="128.4" r="3.1"/>
<circle cx="764.0" cy="153.8" r="3.1"/>
<circle cx="826.1" cy="173.3" r="3.1"/>
<circle cx="859.5" cy="169.8" r="3.1"/>
<circle cx="865.2" cy="138.1" r="3.1"/>
<circle cx="750.2" cy="163.1" r="3.1"/>
<circle cx="770.8" cy="178.1" r="3.1"/>
<circle cx="725.6" cy="188.9" r="3.1"/>
<circle cx="1126.3" cy="92.8" r="3.1"/>
<circle cx="902.0" cy="121.4" r="3.1"/>
<circle cx="828.9" cy="158.1" r="3.1"/>
<circle cx="978.0" cy="134.5" r="3.1"/>
<circle cx="806.2" cy="152.9" r="3.1"/>
<circle cx="873.6" cy="156.5" r="3.1"/>
<circle cx="725.2" cy="182.6" r="3.1"/>
<circle cx="825.1" cy="158.1" r="3.1"/>
<circle cx="790.9" cy="163.5" r="3.1"/>
<circle cx="747.4" cy="171.5" r="3.1"/>
<circle cx="876.0" cy="170.1" r="3.1"/>
<circle cx="740.4" cy="180.7" r="3.1"/>
<circle cx="935.4" cy="144.0" r="3.1"/>
<circle cx="726.6" cy="190.9" r="3.1"/>
<circle cx="1126.3" cy="112.1" r="3.1"/>
<circle cx="812.8" cy="189.6" r="3.1"/>
<circle cx="835.6" cy="169.1" r="3.1"/>
<circle cx="749.4" cy="177.3" r="3.1"/>
<circle cx="869.2" cy="170.6" r="3.1"/>
<circle cx="793.7" cy="166.4" r="3.1"/>
<circle cx="890.2" cy="134.6" r="3.1"/>
<circle cx="842.9" cy="164.8" r="3.1"/>
<circle cx="740.2" cy="180.1" r="3.1"/>
<circle cx="773.3" cy="166.0" r="3.1"/>
<circle cx="807.4" cy="182.3" r="3.1"/>
<circle cx="720.5" cy="176.0" r="3.1"/>
<circle cx="825.7" cy="167.3" r="3.1"/>
<circle cx="782.3" cy="165.3" r="3.1"/>
<circle cx="790.8" cy="160.5" r="3.1"/>
<circle cx="725.3" cy="183.4" r="3.1"/>
<circle cx="952.2" cy="133.3" r="3.1"/>
<circle cx="766.7" cy="170.2" r="3.1"/>
<circle cx="771.7" cy="189.0" r="3.1"/>
<circle cx="1084.5" cy="144.7" r="3.1"/>
<circle cx="726.3" cy="175.3" r="3.1"/>
<circle cx="814.7" cy="181.6" r="3.1"/>
<circle cx="804.0" cy="170.5" r="3.1"/>
<circle cx="737.8" cy="190.5" r="3.1"/>
<circle cx="825.8" cy="166.7" r="3.1"/>
<circle cx="794.0" cy="171.5" r="3.1"/>
<circle cx="1126.3" cy="93.7" r="3.1"/>
<circle cx="814.5" cy="167.1" r="3.1"/>
<circle cx="924.0" cy="135.1" r="3.1"/>
<circle cx="730.4" cy="190.7" r="3.1"/>
<circle cx="805.2" cy="176.4" r="3.1"/>
<circle cx="1037.9" cy="124.9" r="3.1"/>
<circle cx="780.9" cy="166.2" r="3.1"/>
<circle cx="1023.7" cy="100.5" r="3.1"/>
<circle cx="965.9" cy="134.5" r="3.1"/>
<circle cx="728.9" cy="184.3" r="3.1"/>
<circle cx="858.1" cy="161.4" r="3.1"/>
<circle cx="929.0" cy="139.5" r="3.1"/>
<circle cx="972.2" cy="150.0" r="3.1"/>
<circle cx="816.2" cy="182.0" r="3.1"/>
<circle cx="771.7" cy="184.4" r="3.1"/>
<circle cx="801.5" cy="189.7" r="3.1"/>
<circle cx="1126.3" cy="112.8" r="3.1"/>
<circle cx="893.1" cy="137.4" r="3.1"/>
<circle cx="816.7" cy="167.9" r="3.1"/>
<circle cx="866.1" cy="156.3" r="3.1"/>
<circle cx="1082.0" cy="129.8" r="3.1"/>
<circle cx="1028.3" cy="128.6" r="3.1"/>
<circle cx="764.5" cy="182.4" r="3.1"/>
<circle cx="1030.4" cy="110.3" r="3.1"/>
<circle cx="824.4" cy="147.6" r="3.1"/>
<circle cx="792.0" cy="173.9" r="3.1"/>
<circle cx="749.4" cy="187.8" r="3.1"/>
<circle cx="847.0" cy="161.2" r="3.1"/>
<circle cx="866.5" cy="154.7" r="3.1"/>
<circle cx="761.3" cy="163.3" r="3.1"/>
<circle cx="878.3" cy="163.0" r="3.1"/>
<circle cx="992.1" cy="139.2" r="3.1"/>
<circle cx="1058.0" cy="108.4" r="3.1"/>
<circle cx="859.8" cy="172.4" r="3.1"/>
<circle cx="800.9" cy="153.0" r="3.1"/>
<circle cx="1126.3" cy="91.5" r="3.1"/>
<circle cx="867.5" cy="189.8" r="3.1"/>
<circle cx="834.8" cy="156.8" r="3.1"/>
<circle cx="927.7" cy="158.9" r="3.1"/>
<circle cx="828.7" cy="141.9" r="3.1"/>
<circle cx="1126.3" cy="127.0" r="3.1"/>
<circle cx="876.8" cy="154.4" r="3.1"/>
<circle cx="894.4" cy="177.3" r="3.1"/>
<circle cx="774.0" cy="161.2" r="3.1"/>
<circle cx="863.0" cy="143.2" r="3.1"/>
<circle cx="767.3" cy="174.0" r="3.1"/>
<circle cx="1126.3" cy="111.4" r="3.1"/>
<circle cx="907.8" cy="123.1" r="3.1"/>
<circle cx="762.0" cy="190.5" r="3.1"/>
<circle cx="737.2" cy="179.9" r="3.1"/>
<circle cx="762.6" cy="175.5" r="3.1"/>
<circle cx="1008.7" cy="134.4" r="3.1"/>
<circle cx="795.5" cy="176.0" r="3.1"/>
<circle cx="766.8" cy="179.5" r="3.1"/>
<circle cx="768.5" cy="180.4" r="3.1"/>
<circle cx="864.6" cy="146.1" r="3.1"/>
<circle cx="900.9" cy="163.8" r="3.1"/>
<circle cx="1004.0" cy="112.0" r="3.1"/>
<circle cx="933.8" cy="157.6" r="3.1"/>
<circle cx="743.5" cy="179.5" r="3.1"/>
<circle cx="939.3" cy="116.4" r="3.1"/>
<circle cx="776.0" cy="180.2" r="3.1"/>
<circle cx="974.1" cy="134.6" r="3.1"/>
<circle cx="724.3" cy="180.7" r="3.1"/>
<circle cx="931.8" cy="148.8" r="3.1"/>
<circle cx="862.3" cy="151.1" r="3.1"/>
<circle cx="776.1" cy="164.3" r="3.1"/>
<circle cx="874.3" cy="159.0" r="3.1"/>
<circle cx="757.2" cy="184.3" r="3.1"/>
<circle cx="832.1" cy="165.5" r="3.1"/>
<circle cx="902.1" cy="159.8" r="3.1"/>
<circle cx="859.3" cy="158.3" r="3.1"/>
<circle cx="719.8" cy="181.6" r="3.1"/>
<circle cx="733.9" cy="182.3" r="3.1"/>
<circle cx="728.9" cy="185.6" r="3.1"/>
<circle cx="715.2" cy="190.6" r="3.1"/>
<circle cx="739.9" cy="189.6" r="3.1"/>
<circle cx="926.7" cy="132.4" r="3.1"/>
<circle cx="707.1" cy="190.2" r="3.1"/>
<circle cx="1031.4" cy="156.5" r="3.1"/>
<circle cx="852.8" cy="155.1" r="3.1"/>
<circle cx="761.4" cy="173.8" r="3.1"/>
<circle cx="729.6" cy="189.4" r="3.1"/>
<circle cx="796.7" cy="174.0" r="3.1"/>
<circle cx="768.4" cy="174.1" r="3.1"/>
<circle cx="860.6" cy="162.8" r="3.1"/>
<circle cx="849.3" cy="139.7" r="3.1"/>
<circle cx="875.5" cy="175.5" r="3.1"/>
<circle cx="880.4" cy="175.2" r="3.1"/>
<circle cx="1014.3" cy="164.2" r="3.1"/>
<circle cx="789.9" cy="158.2" r="3.1"/>
<circle cx="1063.0" cy="96.0" r="3.1"/>
<circle cx="893.9" cy="163.5" r="3.1"/>
<circle cx="838.8" cy="152.4" r="3.1"/>
<circle cx="724.4" cy="189.2" r="3.1"/>
<circle cx="848.9" cy="159.6" r="3.1"/>
<circle cx="733.8" cy="168.4" r="3.1"/>
<circle cx="818.8" cy="161.2" r="3.1"/>
<circle cx="868.1" cy="146.9" r="3.1"/>
<circle cx="942.9" cy="152.0" r="3.1"/>
<circle cx="800.2" cy="175.5" r="3.1"/>
<circle cx="738.6" cy="190.3" r="3.1"/>
<circle cx="853.2" cy="157.0" r="3.1"/>
<circle cx="863.9" cy="159.5" r="3.1"/>
<circle cx="833.6" cy="169.2" r="3.1"/>
<circle cx="930.0" cy="145.2" r="3.1"/>
<circle cx="804.0" cy="164.3" r="3.1"/>
<circle cx="790.3" cy="175.1" r="3.1"/>
<circle cx="761.6" cy="161.0" r="3.1"/>
<circle cx="1126.3" cy="94.1" r="3.1"/>
<circle cx="835.9" cy="159.0" r="3.1"/>
<circle cx="815.1" cy="160.8" r="3.1"/>
<circle cx="722.5" cy="190.6" r="3.1"/>
<circle cx="851.3" cy="153.8" r="3.1"/>
<circle cx="767.5" cy="188.9" r="3.1"/>
<circle cx="760.7" cy="189.3" r="3.1"/>
<circle cx="783.1" cy="176.3" r="3.1"/>
<circle cx="880.9" cy="144.3" r="3.1"/>
<circle cx="951.0" cy="131.4" r="3.1"/>
<circle cx="772.2" cy="186.3" r="3.1"/>
<circle cx="919.9" cy="137.6" r="3.1"/>
<circle cx="845.5" cy="148.3" r="3.1"/>
<circle cx="864.7" cy="172.2" r="3.1"/>
<circle cx="796.1" cy="168.4" r="3.1"/>
<circle cx="724.7" cy="177.9" r="3.1"/>
<circle cx="894.2" cy="126.9" r="3.1"/>
<circle cx="895.7" cy="155.4" r="3.1"/>
<circle cx="836.8" cy="177.5" r="3.1"/>
<circle cx="907.8" cy="141.9" r="3.1"/>
<circle cx="915.9" cy="160.1" r="3.1"/>
<circle cx="1126.3" cy="99.7" r="3.1"/>
<circle cx="747.9" cy="170.8" r="3.1"/>
<circle cx="794.4" cy="187.0" r="3.1"/>
<circle cx="903.9" cy="145.9" r="3.1"/>
<circle cx="904.0" cy="140.3" r="3.1"/>
<circle cx="804.4" cy="174.7" r="3.1"/>
<circle cx="860.0" cy="167.7" r="3.1"/>
<circle cx="747.3" cy="187.7" r="3.1"/>
<circle cx="1126.3" cy="137.5" r="3.1"/>
<circle cx="802.9" cy="138.7" r="3.1"/>
<circle cx="909.4" cy="157.9" r="3.1"/>
<circle cx="725.7" cy="182.9" r="3.1"/>
<circle cx="809.4" cy="166.1" r="3.1"/>
<circle cx="853.3" cy="176.9" r="3.1"/>
<circle cx="768.5" cy="184.8" r="3.1"/>
<circle cx="1077.6" cy="118.8" r="3.1"/>
<circle cx="775.7" cy="167.6" r="3.1"/>
<circle cx="845.9" cy="150.2" r="3.1"/>
<circle cx="790.1" cy="153.6" r="3.1"/>
<circle cx="1126.3" cy="108.9" r="3.1"/>
<circle cx="766.5" cy="168.7" r="3.1"/>
<circle cx="935.4" cy="131.8" r="3.1"/>
<circle cx="767.0" cy="186.9" r="3.1"/>
<circle cx="957.9" cy="144.6" r="3.1"/>
<circle cx="988.2" cy="149.4" r="3.1"/>
<circle cx="795.2" cy="144.9" r="3.1"/>
<circle cx="941.7" cy="157.2" r="3.1"/>
<circle cx="817.3" cy="160.2" r="3.1"/>
<circle cx="800.3" cy="180.8" r="3.1"/>
<circle cx="788.5" cy="187.6" r="3.1"/>
<circle cx="820.4" cy="180.2" r="3.1"/>
<circle cx="850.2" cy="159.4" r="3.1"/>
<circle cx="760.8" cy="182.4" r="3.1"/>
<circle cx="823.2" cy="166.9" r="3.1"/>
<circle cx="769.5" cy="185.2" r="3.1"/>
<circle cx="1063.0" cy="125.0" r="3.1"/>
<circle cx="1062.8" cy="124.5" r="3.1"/>
<circle cx="790.1" cy="175.7" r="3.1"/>
<circle cx="819.9" cy="184.8" r="3.1"/>
<circle cx="1059.5" cy="111.6" r="3.1"/>
<circle cx="1126.3" cy="128.5" r="3.1"/>
<circle cx="777.6" cy="171.8" r="3.1"/>
<circle cx="859.8" cy="158.9" r="3.1"/>
<circle cx="1074.0" cy="96.0" r="3.1"/>
<circle cx="750.2" cy="189.3" r="3.1"/>
<circle cx="812.5" cy="179.0" r="3.1"/>
<circle cx="1076.7" cy="134.7" r="3.1"/>
<circle cx="967.0" cy="168.2" r="3.1"/>
<circle cx="1075.4" cy="109.0" r="3.1"/>
<circle cx="805.9" cy="173.8" r="3.1"/>
<circle cx="820.9" cy="179.7" r="3.1"/>
<circle cx="1028.9" cy="144.1" r="3.1"/>
<circle cx="848.0" cy="181.0" r="3.1"/>
<circle cx="736.4" cy="175.4" r="3.1"/>
<circle cx="930.8" cy="145.6" r="3.1"/>
<circle cx="743.7" cy="184.2" r="3.1"/>
<circle cx="740.0" cy="183.6" r="3.1"/>
<circle cx="736.7" cy="181.3" r="3.1"/>
<circle cx="815.1" cy="159.9" r="3.1"/>
<circle cx="912.3" cy="152.2" r="3.1"/>
<circle cx="840.6" cy="175.9" r="3.1"/>
<circle cx="968.1" cy="128.6" r="3.1"/>
<circle cx="722.3" cy="190.6" r="3.1"/>
<circle cx="1002.3" cy="131.8" r="3.1"/>
<circle cx="908.8" cy="142.1" r="3.1"/>
<circle cx="932.3" cy="161.4" r="3.1"/>
<circle cx="791.2" cy="162.1" r="3.1"/>
<circle cx="954.0" cy="136.4" r="3.1"/>
<circle cx="784.5" cy="185.3" r="3.1"/>
<circle cx="900.7" cy="138.5" r="3.1"/>
<circle cx="923.7" cy="137.3" r="3.1"/>
<circle cx="922.3" cy="165.0" r="3.1"/>
<circle cx="814.4" cy="182.0" r="3.1"/>
<circle cx="807.5" cy="150.9" r="3.1"/>
<circle cx="847.4" cy="172.6" r="3.1"/>
<circle cx="998.3" cy="124.3" r="3.1"/>
<circle cx="805.9" cy="179.4" r="3.1"/>
<circle cx="1096.3" cy="107.3" r="3.1"/>
<circle cx="1126.3" cy="95.8" r="3.1"/>
<circle cx="791.7" cy="168.2" r="3.1"/>
<circle cx="803.1" cy="161.1" r="3.1"/>
<circle cx="761.7" cy="178.4" r="3.1"/>
<circle cx="966.5" cy="108.3" r="3.1"/>
<circle cx="751.2" cy="171.4" r="3.1"/>
<circle cx="982.7" cy="171.3" r="3.1"/>
<circle cx="812.4" cy="167.4" r="3.1"/>
<circle cx="794.0" cy="150.4" r="3.1"/>
<circle cx="809.6" cy="166.6" r="3.1"/>
<circle cx="1010.1" cy="102.4" r="3.1"/>
<circle cx="778.8" cy="165.3" r="3.1"/>
<circle cx="756.6" cy="176.2" r="3.1"/>
<circle cx="920.1" cy="156.5" r="3.1"/>
<circle cx="835.7" cy="158.9" r="3.1"/>
<circle cx="740.9" cy="177.6" r="3.1"/>
<circle cx="722.0" cy="183.4" r="3.1"/>
<circle cx="970.7" cy="144.6" r="3.1"/>
<circle cx="739.9" cy="190.2" r="3.1"/>
<circle cx="853.0" cy="164.9" r="3.1"/>
<circle cx="778.7" cy="181.5" r="3.1"/>
<circle cx="1070.5" cy="117.8" r="3.1"/>
<circle cx="802.3" cy="164.3" r="3.1"/>
<circle cx="832.9" cy="190.4" r="3.1"/>
<circle cx="838.3" cy="157.7" r="3.1"/>
<circle cx="828.4" cy="155.8" r="3.1"/>
<circle cx="757.1" cy="164.6" r="3.1"/>
<circle cx="910.5" cy="144.8" r="3.1"/>
<circle cx="836.5" cy="165.5" r="3.1"/>
<circle cx="883.0" cy="132.9" r="3.1"/>
<circle cx="841.8" cy="167.2" r="3.1"/>
<circle cx="747.0" cy="189.3" r="3.1"/>
<circle cx="950.7" cy="157.6" r="3.1"/>
<circle cx="861.7" cy="147.9" r="3.1"/>
<circle cx="845.8" cy="162.6" r="3.1"/>
<circle cx="773.2" cy="168.7" r="3.1"/>
<circle cx="767.5" cy="172.5" r="3.1"/>
<circle cx="817.8" cy="145.3" r="3.1"/>
<circle cx="763.6" cy="188.9" r="3.1"/>
<circle cx="813.3" cy="148.1" r="3.1"/>
<circle cx="1034.6" cy="127.8" r="3.1"/>
<circle cx="886.1" cy="148.2" r="3.1"/>
<circle cx="919.0" cy="124.0" r="3.1"/>
<circle cx="744.9" cy="187.2" r="3.1"/>
<circle cx="832.3" cy="178.5" r="3.1"/>
<circle cx="730.1" cy="188.4" r="3.1"/>
<circle cx="773.5" cy="174.4" r="3.1"/>
<circle cx="780.4" cy="180.4" r="3.1"/>
<circle cx="753.7" cy="168.6" r="3.1"/>
<circle cx="738.3" cy="157.8" r="3.1"/>
<circle cx="812.1" cy="140.1" r="3.1"/>
<circle cx="880.6" cy="149.0" r="3.1"/>
<circle cx="718.6" cy="182.2" r="3.1"/>
<circle cx="788.4" cy="176.3" r="3.1"/>
<circle cx="792.2" cy="159.5" r="3.1"/>
<circle cx="1126.3" cy="122.4" r="3.1"/>
<circle cx="917.5" cy="173.7" r="3.1"/>
<circle cx="752.8" cy="152.8" r="3.1"/>
<circle cx="866.1" cy="186.7" r="3.1"/>
<circle cx="838.8" cy="157.2" r="3.1"/>
<circle cx="960.8" cy="144.0" r="3.1"/>
<circle cx="792.4" cy="156.5" r="3.1"/>
<circle cx="1126.3" cy="116.4" r="3.1"/>
<circle cx="827.5" cy="159.7" r="3.1"/>
<circle cx="873.8" cy="180.6" r="3.1"/>
<circle cx="719.7" cy="190.4" r="3.1"/>
<circle cx="856.3" cy="169.7" r="3.1"/>
<circle cx="828.9" cy="150.3" r="3.1"/>
<circle cx="987.5" cy="147.7" r="3.1"/>
<circle cx="845.0" cy="170.4" r="3.1"/>
<circle cx="747.3" cy="188.6" r="3.1"/>
<circle cx="1126.3" cy="96.4" r="3.1"/>
<circle cx="774.4" cy="184.3" r="3.1"/>
<circle cx="879.7" cy="130.2" r="3.1"/>
<circle cx="698.7" cy="187.1" r="3.1"/>
<circle cx="815.4" cy="153.4" r="3.1"/>
<circle cx="1032.6" cy="117.1" r="3.1"/>
<circle cx="791.5" cy="158.3" r="3.1"/>
<circle cx="832.7" cy="143.9" r="3.1"/>
<circle cx="1090.8" cy="124.6" r="3.1"/>
<circle cx="867.1" cy="136.9" r="3.1"/>
<circle cx="865.5" cy="151.8" r="3.1"/>
<circle cx="881.0" cy="184.1" r="3.1"/>
<circle cx="1015.5" cy="147.1" r="3.1"/>
<circle cx="995.8" cy="122.7" r="3.1"/>
<circle cx="725.0" cy="186.8" r="3.1"/>
<circle cx="769.6" cy="181.8" r="3.1"/>
<circle cx="762.9" cy="190.7" r="3.1"/>
<circle cx="763.6" cy="183.4" r="3.1"/>
<circle cx="926.5" cy="131.8" r="3.1"/>
<circle cx="896.5" cy="140.3" r="3.1"/>
<circle cx="871.5" cy="162.6" r="3.1"/>
<circle cx="795.4" cy="162.8" r="3.1"/>
<circle cx="939.4" cy="156.7" r="3.1"/>
<circle cx="975.3" cy="149.6" r="3.1"/>
<circle cx="812.0" cy="175.7" r="3.1"/>
<circle cx="808.6" cy="167.6" r="3.1"/>
<circle cx="823.8" cy="170.2" r="3.1"/>
<circle cx="971.5" cy="126.8" r="3.1"/>
<circle cx="887.0" cy="175.8" r="3.1"/>
<circle cx="803.0" cy="154.6" r="3.1"/>
<circle cx="759.0" cy="176.1" r="3.1"/>
<circle cx="936.4" cy="137.2" r="3.1"/>
<circle cx="750.4" cy="184.9" r="3.1"/>
<circle cx="798.1" cy="154.9" r="3.1"/>
<circle cx="900.1" cy="145.8" r="3.1"/>
<circle cx="813.8" cy="166.0" r="3.1"/>
<circle cx="759.7" cy="164.3" r="3.1"/>
<circle cx="723.3" cy="182.2" r="3.1"/>
<circle cx="726.3" cy="185.5" r="3.1"/>
<circle cx="1126.3" cy="126.2" r="3.1"/>
<circle cx="847.3" cy="167.1" r="3.1"/>
<circle cx="925.3" cy="134.0" r="3.1"/>
<circle cx="845.3" cy="175.6" r="3.1"/>
<circle cx="806.5" cy="176.1" r="3.1"/>
<circle cx="770.3" cy="159.8" r="3.1"/>
<circle cx="895.0" cy="144.8" r="3.1"/>
<circle cx="866.3" cy="175.5" r="3.1"/>
<circle cx="775.5" cy="187.6" r="3.1"/>
<circle cx="832.8" cy="149.7" r="3.1"/>
<circle cx="967.0" cy="131.1" r="3.1"/>
<circle cx="816.3" cy="142.8" r="3.1"/>
<circle cx="982.1" cy="143.5" r="3.1"/>
<circle cx="906.9" cy="145.3" r="3.1"/>
<circle cx="787.7" cy="178.4" r="3.1"/>
<circle cx="797.8" cy="171.2" r="3.1"/>
<circle cx="1010.3" cy="144.6" r="3.1"/>
<circle cx="729.7" cy="185.6" r="3.1"/>
<circle cx="865.4" cy="166.9" r="3.1"/>
<circle cx="800.8" cy="175.8" r="3.1"/>
<circle cx="780.9" cy="162.6" r="3.1"/>
<circle cx="888.2" cy="155.3" r="3.1"/>
<circle cx="944.3" cy="151.9" r="3.1"/>
<circle cx="924.4" cy="165.6" r="3.1"/>
<circle cx="774.3" cy="177.0" r="3.1"/>
<circle cx="1006.3" cy="130.3" r="3.1"/>
<circle cx="902.2" cy="187.0" r="3.1"/>
<circle cx="814.8" cy="157.4" r="3.1"/>
<circle cx="1096.8" cy="129.5" r="3.1"/>
<circle cx="882.9" cy="157.0" r="3.1"/>
<circle cx="817.8" cy="167.7" r="3.1"/>
<circle cx="771.4" cy="179.4" r="3.1"/>
<circle cx="1126.3" cy="103.3" r="3.1"/>
<circle cx="819.3" cy="173.7" r="3.1"/>
<circle cx="942.2" cy="143.1" r="3.1"/>
<circle cx="896.8" cy="151.1" r="3.1"/>
<circle cx="809.2" cy="185.3" r="3.1"/>
</g>
<path d="M677.50 31.5V245.5M676.5 245.50H1147.5M767.50 31.5V245.5M676.5 204.50H1147.5M856.50 31.5V245.5M676.5 163.50H1147.5M946.50 31.5V245.5M676.5 122.50H1147.5M1036.50 31.5V245.5M676.5 82.50H1147.5M1126.50 31.5V245.5M676.5 41.50H1147.5" stroke="#b0b0b0" stroke-opacity="0.3" stroke-width="1.11" fill="none"/>
<path d="M697.50 235.93L1126.30 41.35" stroke="#000" stroke-opacity="0.75" stroke-width="2.78" stroke-dasharray="10.28 4.44" fill="none"/>
</g>
<rect x="695.55" y="38.40" width="122.92" height="49.90" rx="3.75" fill="#f5deb3" fill-opacity="0.8" stroke="#000" stroke-opacity="0.8" stroke-width="1.39"/>
<text x="699.85" y="52.90" font-size="12.88" textLength="115.11" lengthAdjust="spacingAndGlyphs">n_estimators = 10</text>
<text x="699.85" y="67.35" font-size="12.88" textLength="89.49" lengthAdjust="spacingAndGlyphs">RMSE = 0.809</text>
<text x="699.85" y="81.80" font-size="12.88" textLength="67.91" lengthAdjust="spacingAndGlyphs">R² = 0.513</text>
<rect x="1071.25" y="216.25" width="70" height="23" rx="2.5" fill="#fff" fill-opacity="0.8" stroke="#ccc" stroke-opacity="0.8" stroke-width="1.39"/>
<circle cx="1089.55" cy="228.35" r="3.1" fill="#f00" fill-opacity="0.4" stroke="#000" stroke-opacity="0.4" stroke-width="0.69"/>
<text x="1111.25" y="230.75" font-size="12.88" textLength="24.67" lengthAdjust="spacingAndGlyphs">Test</text>
<rect x="676.5" y="31.5" width="471.0" height="214.0" fill="none" stroke="#000" stroke-width="1.11"/>
<text x="672.77" y="265.70" font-size="14.31" textLength="8.87" lengthAdjust="spacingAndGlyphs">0</text>
<text x="657.80" y="250.70" font-size="14.31" textLength="8.87" lengthAdjust="spacingAndGlyphs">0</text>
<text x="762.77" y="265.70" font-size="14.31" textLength="8.87" lengthAdjust="spacingAndGlyphs">1</text>
<text x="657.80" y="209.70" font-size="14.31" textLength="8.87" lengthAdjust="spacingAndGlyphs">1</text>
<text x="851.77" y="265.70" font-size="14.31" textLength="8.87" lengthAdjust="spacingAndGlyphs">2</text>
<text x="657.80" y="168.70" font-size="14.31" textLength="8.87" lengthAdjust="spacingAndGlyphs">2</text>
<text x="941.77" y="265.70" font-size="14.31" textLength="8.87" lengthAdjust="spacingAndGlyphs">3</text>
<text x="657.80" y="127.70" font-size="14.31" textLength="8.87" lengthAdjust="spacingAndGlyphs">3</text>
<text x="1031.77" y="265.70" font-size="14.31" textLength="8.87" lengthAdjust="spacingAndGlyphs">4</text>
<text x="657.80" y="87.70" font-size="14.31" textLength="8.87" lengthAdjust="spacingAndGlyphs">4</text>
<text x="1121.77" y="265.70" font-size="14.31" textLength="8.87" lengthAdjust="spacingAndGlyphs">5</text>
<text x="657.80" y="46.70" font-size="14.31" textLength="8.87" lengthAdjust="spacingAndGlyphs">5</text>
<path d="M677.50 245.5v4.86M676.5 245.50h-4.86M767.50 245.5v4.86M676.5 204.50h-4.86M856.50 245.5v4.86M676.5 163.50h-4.86M946.50 245.5v4.86M676.5 122.50h-4.86M1036.50 245.5v4.86M676.5 82.50h-4.86M1126.50 245.5v4.86M676.5 41.50h-4.86" stroke="#000" stroke-width="1.11" fill="none"/>
<text x="876.51" y="285.40" font-size="14.31" textLength="69.37" lengthAdjust="spacingAndGlyphs">Valor Real</text>
<text x="614.31" y="140.75" font-size="14.31" textLength="71.17" lengthAdjust="spacingAndGlyphs" transform="rotate(-90 649.90 140.75)">Predicción</text>
<text x="775.61" y="23.17" font-size="15.74" font-weight="bold" textLength="271.99" lengthAdjust="spacingAndGlyphs">(b) Después de 10 iteración(es)</text>
<clipPath id="cc"><rect x="62.5" y="309.5" width="472.0" height="214.0"/></clipPath>
<g clip-path="url(#cc)">
<g fill="#f00" fill-opacity="0.4" stroke="#000" stroke-opacity="0.4" stroke-width="0.69">
<circle cx="83.8" cy="490.0" r="3.1"/>
<circle cx="148.3" cy="462.3" r="3.1"/>
<circle cx="164.5" cy="484.5" r="3.1"/>
<circle cx="304.4" cy="468.0" r="3.1"/>
<circle cx="499.4" cy="348.9" r="3.1"/>
<circle cx="133.9" cy="488.0" r="3.1"/>
<circle cx="120.3" cy="492.3" r="3.1"/>
<circle cx="142.3" cy="477.3" r="3.1"/>
<circle cx="174.8" cy="469.9" r="3.1"/>
<circle cx="139.9" cy="494.1" r="3.1"/>
<circle cx="225.6" cy="444.2" r="3.1"/>
<circle cx="233.3" cy="433.0" r="3.1"/>
<circle cx="125.9" cy="490.1" r="3.1"/>
<circle cx="219.3" cy="482.0" r="3.1"/>
<circle cx="95.6" cy="494.7" r="3.1"/>
<circle cx="196.9" cy="468.3" r="3.1"/>
<circle cx="499.4" cy="397.6" r="3.1"/>
<circle cx="304.4" cy="370.8" r="3.1"/>
<circle cx="227.9" cy="465.1" r="3.1"/>
<circle cx="167.8" cy="493.1" r="3.1"/>
<circle cx="147.0" cy="469.9" r="3.1"/>
<circle cx="191.9" cy="480.5" r="3.1"/>
<circle cx="158.9" cy="462.0" r="3.1"/>
<circle cx="355.2" cy="410.3" r="3.1"/>
<circle cx="148.1" cy="486.8" r="3.1"/>
<circle cx="158.3" cy="491.7" r="3.1"/>
<circle cx="308.2" cy="427.7" r="3.1"/>
<circle cx="157.3" cy="478.0" r="3.1"/>
<circle cx="157.3" cy="469.1" r="3.1"/>
<circle cx="118.7" cy="478.6" r="3.1"/>
<circle cx="197.4" cy="469.1" r="3.1"/>
<circle cx="156.6" cy="456.2" r="3.1"/>
<circle cx="367.9" cy="375.5" r="3.1"/>
<circle cx="160.3" cy="475.9" r="3.1"/>
<circle cx="292.2" cy="438.0" r="3.1"/>
<circle cx="201.8" cy="444.5" r="3.1"/>
<circle cx="197.5" cy="488.4" r="3.1"/>
<circle cx="499.4" cy="409.0" r="3.1"/>
<circle cx="379.1" cy="417.7" r="3.1"/>
<circle cx="120.4" cy="492.6" r="3.1"/>
<circle cx="153.5" cy="475.5" r="3.1"/>
<circle cx="143.2" cy="476.5" r="3.1"/>
<circle cx="388.1" cy="398.4" r="3.1"/>
<circle cx="216.7" cy="450.2" r="3.1"/>
<circle cx="177.3" cy="449.8" r="3.1"/>
<circle cx="321.4" cy="452.3" r="3.1"/>
<circle cx="172.6" cy="443.0" r="3.1"/>
<circle cx="253.9" cy="418.4" r="3.1"/>
<circle cx="150.7" cy="494.5" r="3.1"/>
<circle cx="108.6" cy="483.3" r="3.1"/>
<circle cx="258.8" cy="448.9" r="3.1"/>
<circle cx="170.1" cy="480.4" r="3.1"/>
<circle cx="171.2" cy="464.4" r="3.1"/>
<circle cx="158.6" cy="464.5" r="3.1"/>
<circle cx="154.5" cy="470.4" r="3.1"/>
<circle cx="220.5" cy="470.0" r="3.1"/>
<circle cx="169.5" cy="479.2" r="3.1"/>
<circle cx="188.3" cy="470.5" r="3.1"/>
<circle cx="146.3" cy="472.4" r="3.1"/>
<circle cx="205.8" cy="444.1" r="3.1"/>
<circle cx="224.7" cy="449.1" r="3.1"/>
<circle cx="187.3" cy="450.7" r="3.1"/>
<circle cx="183.8" cy="456.8" r="3.1"/>
<circle cx="453.6" cy="386.5" r="3.1"/>
<circle cx="113.9" cy="493.4" r="3.1"/>
<circle cx="167.9" cy="447.8" r="3.1"/>
<circle cx="208.9" cy="437.8" r="3.1"/>
<circle cx="228.3" cy="361.7" r="3.1"/>
<circle cx="112.6" cy="495.0" r="3.1"/>
<circle cx="152.8" cy="471.2" r="3.1"/>
<circle cx="115.2" cy="485.4" r="3.1"/>
<circle cx="101.2" cy="484.9" r="3.1"/>
<circle cx="167.1" cy="480.8" r="3.1"/>
<circle cx="184.5" cy="479.1" r="3.1"/>
<circle cx="340.9" cy="372.7" r="3.1"/>
<circle cx="104.2" cy="492.2" r="3.1"/>
<circle cx="267.1" cy="448.3" r="3.1"/>
<circle cx="195.1" cy="451.5" r="3.1"/>
<circle cx="225.7" cy="423.3" r="3.1"/>
<circle cx="134.8" cy="482.1" r="3.1"/>
<circle cx="305.7" cy="405.0" r="3.1"/>
<circle cx="178.8" cy="455.4" r="3.1"/>
<circle cx="185.1" cy="482.6" r="3.1"/>
<circle cx="219.4" cy="457.7" r="3.1"/>
<circle cx="156.0" cy="485.2" r="3.1"/>
<circle cx="190.5" cy="469.8" r="3.1"/>
<circle cx="132.3" cy="491.5" r="3.1"/>
<circle cx="261.3" cy="441.0" r="3.1"/>
<circle cx="124.9" cy="470.1" r="3.1"/>
<circle cx="159.2" cy="471.6" r="3.1"/>
<circle cx="149.0" cy="465.2" r="3.1"/>
<circle cx="131.6" cy="478.8" r="3.1"/>
<circle cx="215.6" cy="443.3" r="3.1"/>
<circle cx="145.4" cy="477.2" r="3.1"/>
<circle cx="282.3" cy="409.4" r="3.1"/>
<circle cx="159.2" cy="476.1" r="3.1"/>
<circle cx="499.4" cy="326.8" r="3.1"/>
<circle cx="219.2" cy="476.1" r="3.1"/>
<circle cx="122.3" cy="482.8" r="3.1"/>
<circle cx="234.3" cy="453.7" r="3.1"/>
<circle cx="147.4" cy="469.3" r="3.1"/>
<circle cx="178.5" cy="455.7" r="3.1"/>
<circle cx="147.2" cy="474.3" r="3.1"/>
<circle cx="159.9" cy="471.1" r="3.1"/>
<circle cx="232.3" cy="456.9" r="3.1"/>
<circle cx="205.9" cy="460.4" r="3.1"/>
<circle cx="107.5" cy="493.5" r="3.1"/>
<circle cx="402.1" cy="374.7" r="3.1"/>
<circle cx="153.7" cy="470.6" r="3.1"/>
<circle cx="201.5" cy="459.4" r="3.1"/>
<circle cx="130.8" cy="476.1" r="3.1"/>
<circle cx="179.7" cy="449.5" r="3.1"/>
<circle cx="296.0" cy="476.6" r="3.1"/>
<circle cx="152.5" cy="488.1" r="3.1"/>
<circle cx="327.7" cy="410.4" r="3.1"/>
<circle cx="232.6" cy="438.3" r="3.1"/>
<circle cx="238.0" cy="441.8" r="3.1"/>
<circle cx="387.6" cy="394.2" r="3.1"/>
<circle cx="206.8" cy="438.1" r="3.1"/>
<circle cx="133.1" cy="476.6" r="3.1"/>
<circle cx="240.1" cy="451.0" r="3.1"/>
<circle cx="238.1" cy="449.0" r="3.1"/>
<circle cx="304.7" cy="407.6" r="3.1"/>
<circle cx="130.5" cy="481.6" r="3.1"/>
<circle cx="148.9" cy="465.5" r="3.1"/>
<circle cx="428.9" cy="440.6" r="3.1"/>
<circle cx="218.7" cy="436.0" r="3.1"/>
<circle cx="146.6" cy="477.3" r="3.1"/>
<circle cx="188.0" cy="471.2" r="3.1"/>
<circle cx="181.3" cy="466.9" r="3.1"/>
<circle cx="131.3" cy="492.8" r="3.1"/>
<circle cx="226.6" cy="426.0" r="3.1"/>
<circle cx="114.7" cy="492.8" r="3.1"/>
<circle cx="116.4" cy="485.6" r="3.1"/>
<circle cx="155.7" cy="482.3" r="3.1"/>
<circle cx="176.9" cy="474.8" r="3.1"/>
<circle cx="218.8" cy="450.7" r="3.1"/>
<circle cx="389.4" cy="403.9" r="3.1"/>
<circle cx="151.1" cy="487.2" r="3.1"/>
<circle cx="135.4" cy="493.2" r="3.1"/>
<circle cx="132.1" cy="478.3" r="3.1"/>
<circle cx="119.2" cy="494.4" r="3.1"/>
<circle cx="136.7" cy="482.7" r="3.1"/>
<circle cx="149.3" cy="464.5" r="3.1"/>
<circle cx="465.5" cy="370.3" r="3.1"/>
<circle cx="354.0" cy="403.7" r="3.1"/>
<circle cx="133.6" cy="495.2" r="3.1"/>
<circle cx="295.0" cy="421.9" r="3.1"/>
<circle cx="99.7" cy="486.5" r="3.1"/>
<circle cx="248.0" cy="434.9" r="3.1"/>
<circle cx="165.2" cy="466.5" r="3.1"/>
<circle cx="174.4" cy="474.6" r="3.1"/>
<circle cx="150.2" cy="464.9" r="3.1"/>
<circle cx="218.5" cy="460.5" r="3.1"/>
<circle cx="424.1" cy="392.9" r="3.1"/>
<circle cx="319.1" cy="435.3" r="3.1"/>
<circle cx="312.2" cy="403.8" r="3.1"/>
<circle cx="207.2" cy="442.9" r="3.1"/>
<circle cx="499.4" cy="448.6" r="3.1"/>
<circle cx="324.0" cy="417.1" r="3.1"/>
<circle cx="236.1" cy="438.6" r="3.1"/>
<circle cx="368.1" cy="337.4" r="3.1"/>
<circle cx="122.2" cy="494.5" r="3.1"/>
<circle cx="148.9" cy="481.0" r="3.1"/>
<circle cx="390.6" cy="396.2" r="3.1"/>
<circle cx="142.2" cy="478.0" r="3.1"/>
<circle cx="121.3" cy="493.0" r="3.1"/>
<circle cx="181.0" cy="460.8" r="3.1"/>
<circle cx="267.6" cy="435.4" r="3.1"/>
<circle cx="227.4" cy="459.2" r="3.1"/>
<circle cx="211.9" cy="421.0" r="3.1"/>
<circle cx="278.6" cy="404.2" r="3.1"/>
<circle cx="321.2" cy="397.8" r="3.1"/>
<circle cx="107.9" cy="490.4" r="3.1"/>
<circle cx="377.8" cy="389.6" r="3.1"/>
<circle cx="229.3" cy="439.9" r="3.1"/>
<circle cx="356.7" cy="383.5" r="3.1"/>
<circle cx="202.4" cy="462.9" r="3.1"/>
<circle cx="169.3" cy="450.0" r="3.1"/>
<circle cx="132.0" cy="491.2" r="3.1"/>
<circle cx="276.4" cy="416.8" r="3.1"/>
<circle cx="129.0" cy="481.7" r="3.1"/>
<circle cx="321.4" cy="439.2" r="3.1"/>
<circle cx="141.7" cy="473.3" r="3.1"/>
<circle cx="118.6" cy="480.7" r="3.1"/>
<circle cx="251.6" cy="381.7" r="3.1"/>
<circle cx="208.2" cy="439.6" r="3.1"/>
<circle cx="142.4" cy="481.8" r="3.1"/>
<circle cx="111.7" cy="493.1" r="3.1"/>
<circle cx="159.9" cy="458.8" r="3.1"/>
<circle cx="347.2" cy="383.1" r="3.1"/>
<circle cx="177.8" cy="459.2" r="3.1"/>
<circle cx="291.0" cy="422.0" r="3.1"/>
<circle cx="499.4" cy="340.0" r="3.1"/>
<circle cx="310.9" cy="413.5" r="3.1"/>
<circle cx="499.4" cy="366.7" r="3.1"/>
<circle cx="201.5" cy="464.8" r="3.1"/>
<circle cx="475.3" cy="407.5" r="3.1"/>
<circle cx="145.2" cy="484.3" r="3.1"/>
<circle cx="144.5" cy="472.6" r="3.1"/>
<circle cx="258.2" cy="428.5" r="3.1"/>
<circle cx="499.4" cy="424.7" r="3.1"/>
<circle cx="240.6" cy="459.0" r="3.1"/>
<circle cx="221.3" cy="447.1" r="3.1"/>
<circle cx="345.9" cy="433.5" r="3.1"/>
<circle cx="158.4" cy="467.2" r="3.1"/>
<circle cx="360.6" cy="422.3" r="3.1"/>
<circle cx="116.3" cy="485.5" r="3.1"/>
<circle cx="148.3" cy="486.1" r="3.1"/>
<circle cx="310.6" cy="458.9" r="3.1"/>
<circle cx="218.0" cy="462.0" r="3.1"/>
<circle cx="322.9" cy="426.8" r="3.1"/>
<circle cx="179.1" cy="452.2" r="3.1"/>
<circle cx="110.7" cy="494.2" r="3.1"/>
<circle cx="223.8" cy="446.2" r="3.1"/>
<circle cx="242.6" cy="421.8" r="3.1"/>
<circle cx="129.2" cy="474.6" r="3.1"/>
<circle cx="232.2" cy="448.5" r="3.1"/>
<circle cx="280.5" cy="407.5" r="3.1"/>
<circle cx="499.4" cy="352.0" r="3.1"/>
<circle cx="247.6" cy="432.5" r="3.1"/>
<circle cx="222.2" cy="449.0" r="3.1"/>
<circle cx="243.3" cy="437.8" r="3.1"/>
<circle cx="181.8" cy="431.7" r="3.1"/>
<circle cx="213.9" cy="438.1" r="3.1"/>
<circle cx="192.1" cy="445.1" r="3.1"/>
<circle cx="216.5" cy="452.0" r="3.1"/>
<circle cx="241.1" cy="450.9" r="3.1"/>
<circle cx="244.9" cy="444.0" r="3.1"/>
<circle cx="328.2" cy="397.4" r="3.1"/>
<circle cx="139.4" cy="484.6" r="3.1"/>
<circle cx="150.4" cy="460.5" r="3.1"/>
<circle cx="167.3" cy="486.7" r="3.1"/>
<circle cx="431.8" cy="356.3" r="3.1"/>
<circle cx="242.4" cy="440.5" r="3.1"/>
<circle cx="130.5" cy="457.6" r="3.1"/>
<circle cx="164.4" cy="446.4" r="3.1"/>
<circle cx="260.7" cy="395.1" r="3.1"/>
<circle cx="146.1" cy="474.8" r="3.1"/>
<circle cx="281.7" cy="415.1" r="3.1"/>
<circle cx="440.1" cy="411.1" r="3.1"/>
<circle cx="422.0" cy="419.4" r="3.1"/>
<circle cx="202.1" cy="448.7" r="3.1"/>
<circle cx="171.1" cy="488.0" r="3.1"/>
<circle cx="141.6" cy="491.5" r="3.1"/>
<circle cx="134.6" cy="471.9" r="3.1"/>
<circle cx="116.7" cy="493.1" r="3.1"/>
<circle cx="317.2" cy="400.3" r="3.1"/>
<circle cx="170.6" cy="468.4" r="3.1"/>
<circle cx="153.8" cy="476.5" r="3.1"/>
<circle cx="358.5" cy="424.6" r="3.1"/>
<circle cx="133.1" cy="476.1" r="3.1"/>
<circle cx="132.5" cy="477.6" r="3.1"/>
<circle cx="156.4" cy="445.0" r="3.1"/>
<circle cx="321.0" cy="424.1" r="3.1"/>
<circle cx="129.7" cy="485.0" r="3.1"/>
<circle cx="146.2" cy="429.2" r="3.1"/>
<circle cx="415.6" cy="388.5" r="3.1"/>
<circle cx="355.4" cy="420.4" r="3.1"/>
<circle cx="257.8" cy="419.7" r="3.1"/>
<circle cx="133.6" cy="480.8" r="3.1"/>
<circle cx="265.6" cy="427.1" r="3.1"/>
<circle cx="499.4" cy="321.6" r="3.1"/>
<circle cx="256.9" cy="433.9" r="3.1"/>
<circle cx="213.6" cy="432.0" r="3.1"/>
<circle cx="271.3" cy="438.8" r="3.1"/>
<circle cx="379.4" cy="399.4" r="3.1"/>
<circle cx="187.0" cy="461.9" r="3.1"/>
<circle cx="262.8" cy="429.4" r="3.1"/>
<circle cx="234.2" cy="489.5" r="3.1"/>
<circle cx="231.2" cy="442.4" r="3.1"/>
<circle cx="197.8" cy="475.3" r="3.1"/>
<circle cx="178.9" cy="463.4" r="3.1"/>
<circle cx="101.2" cy="494.0" r="3.1"/>
<circle cx="311.9" cy="410.3" r="3.1"/>
<circle cx="209.2" cy="478.5" r="3.1"/>
<circle cx="237.0" cy="442.1" r="3.1"/>
<circle cx="158.1" cy="467.0" r="3.1"/>
<circle cx="211.2" cy="467.1" r="3.1"/>
<circle cx="110.9" cy="487.7" r="3.1"/>
<circle cx="201.2" cy="429.5" r="3.1"/>
<circle cx="209.8" cy="452.5" r="3.1"/>
<circle cx="161.4" cy="462.1" r="3.1"/>
<circle cx="157.9" cy="480.4" r="3.1"/>
<circle cx="234.4" cy="458.4" r="3.1"/>
<circle cx="124.7" cy="492.9" r="3.1"/>
<circle cx="130.2" cy="476.6" r="3.1"/>
<circle cx="143.6" cy="457.3" r="3.1"/>
<circle cx="171.5" cy="487.2" r="3.1"/>
<circle cx="499.4" cy="331.6" r="3.1"/>
<circle cx="334.2" cy="424.7" r="3.1"/>
<circle cx="190.8" cy="477.5" r="3.1"/>
<circle cx="256.6" cy="430.6" r="3.1"/>
<circle cx="184.9" cy="449.6" r="3.1"/>
<circle cx="293.2" cy="420.1" r="3.1"/>
<circle cx="259.8" cy="439.2" r="3.1"/>
<circle cx="103.0" cy="494.4" r="3.1"/>
<circle cx="227.9" cy="432.6" r="3.1"/>
<circle cx="155.8" cy="478.9" r="3.1"/>
<circle cx="410.5" cy="394.7" r="3.1"/>
<circle cx="234.8" cy="447.6" r="3.1"/>
<circle cx="383.8" cy="414.4" r="3.1"/>
<circle cx="311.5" cy="431.9" r="3.1"/>
<circle cx="186.0" cy="424.3" r="3.1"/>
<circle cx="375.2" cy="462.8" r="3.1"/>
<circle cx="499.4" cy="372.5" r="3.1"/>
<circle cx="150.9" cy="472.9" r="3.1"/>
<circle cx="189.0" cy="449.2" r="3.1"/>
<circle cx="121.1" cy="489.8" r="3.1"/>
<circle cx="204.5" cy="466.4" r="3.1"/>
<circle cx="194.0" cy="462.6" r="3.1"/>
<circle cx="201.2" cy="435.5" r="3.1"/>
<circle cx="132.5" cy="488.4" r="3.1"/>
<circle cx="207.0" cy="435.2" r="3.1"/>
<circle cx="178.0" cy="462.6" r="3.1"/>
<circle cx="188.6" cy="457.1" r="3.1"/>
<circle cx="289.2" cy="432.1" r="3.1"/>
<circle cx="205.4" cy="450.0" r="3.1"/>
<circle cx="108.1" cy="482.8" r="3.1"/>
<circle cx="183.5" cy="464.8" r="3.1"/>
<circle cx="373.7" cy="396.3" r="3.1"/>
<circle cx="161.8" cy="479.4" r="3.1"/>
<circle cx="136.7" cy="480.6" r="3.1"/>
<circle cx="101.7" cy="489.8" r="3.1"/>
<circle cx="220.3" cy="428.7" r="3.1"/>
<circle cx="148.7" cy="479.6" r="3.1"/>
<circle cx="168.8" cy="488.7" r="3.1"/>
<circle cx="295.1" cy="435.1" r="3.1"/>
<circle cx="368.2" cy="404.8" r="3.1"/>
<circle cx="151.6" cy="478.4" r="3.1"/>
<circle cx="144.6" cy="465.6" r="3.1"/>
<circle cx="160.8" cy="476.0" r="3.1"/>
<circle cx="495.0" cy="368.8" r="3.1"/>
<circle cx="102.6" cy="494.2" r="3.1"/>
<circle cx="277.9" cy="422.7" r="3.1"/>
<circle cx="456.9" cy="389.7" r="3.1"/>
<circle cx="172.0" cy="474.1" r="3.1"/>
<circle cx="142.9" cy="473.2" r="3.1"/>
<circle cx="331.9" cy="381.4" r="3.1"/>
<circle cx="137.3" cy="471.0" r="3.1"/>
<circle cx="270.8" cy="408.9" r="3.1"/>
<circle cx="499.4" cy="361.3" r="3.1"/>
<circle cx="175.6" cy="476.2" r="3.1"/>
<circle cx="123.0" cy="488.4" r="3.1"/>
<circle cx="209.7" cy="456.7" r="3.1"/>
<circle cx="277.7" cy="440.6" r="3.1"/>
<circle cx="203.1" cy="457.8" r="3.1"/>
<circle cx="175.8" cy="435.5" r="3.1"/>
<circle cx="187.9" cy="466.1" r="3.1"/>
<circle cx="262.5" cy="439.0" r="3.1"/>
<circle cx="153.2" cy="464.8" r="3.1"/>
<circle cx="208.1" cy="470.7" r="3.1"/>
<circle cx="130.8" cy="490.2" r="3.1"/>
<circle cx="274.8" cy="450.5" r="3.1"/>
<circle cx="257.6" cy="430.6" r="3.1"/>
<circle cx="140.5" cy="481.7" r="3.1"/>
<circle cx="152.1" cy="474.9" r="3.1"/>
<circle cx="164.7" cy="483.9" r="3.1"/>
<circle cx="167.1" cy="464.6" r="3.1"/>
<circle cx="165.0" cy="450.4" r="3.1"/>
<circle cx="293.1" cy="423.1" r="3.1"/>
<circle cx="110.9" cy="491.9" r="3.1"/>
<circle cx="145.8" cy="477.4" r="3.1"/>
<circle cx="244.9" cy="440.9" r="3.1"/>
<circle cx="140.7" cy="476.2" r="3.1"/>
<circle cx="334.4" cy="374.7" r="3.1"/>
<circle cx="300.4" cy="431.4" r="3.1"/>
<circle cx="304.7" cy="414.1" r="3.1"/>
<circle cx="239.0" cy="410.0" r="3.1"/>
<circle cx="112.9" cy="484.1" r="3.1"/>
<circle cx="499.4" cy="326.1" r="3.1"/>
<circle cx="130.6" cy="476.1" r="3.1"/>
<circle cx="110.9" cy="490.4" r="3.1"/>
<circle cx="208.8" cy="461.4" r="3.1"/>
<circle cx="401.8" cy="392.4" r="3.1"/>
<circle cx="169.8" cy="482.5" r="3.1"/>
<circle cx="293.8" cy="428.4" r="3.1"/>
<circle cx="199.6" cy="447.3" r="3.1"/>
<circle cx="121.8" cy="482.6" r="3.1"/>
<circle cx="239.6" cy="434.4" r="3.1"/>
<circle cx="499.4" cy="367.5" r="3.1"/>
<circle cx="257.4" cy="422.9" r="3.1"/>
<circle cx="249.6" cy="416.4" r="3.1"/>
<circle cx="226.9" cy="437.5" r="3.1"/>
<circle cx="124.7" cy="492.6" r="3.1"/>
<circle cx="185.1" cy="476.6" r="3.1"/>
<circle cx="147.9" cy="484.7" r="3.1"/>
<circle cx="224.6" cy="451.7" r="3.1"/>
<circle cx="208.8" cy="448.7" r="3.1"/>
<circle cx="114.5" cy="491.0" r="3.1"/>
<circle cx="194.1" cy="455.0" r="3.1"/>
<circle cx="279.6" cy="412.3" r="3.1"/>
<circle cx="172.6" cy="455.0" r="3.1"/>
<circle cx="236.3" cy="376.6" r="3.1"/>
<circle cx="172.0" cy="471.4" r="3.1"/>
<circle cx="119.2" cy="487.9" r="3.1"/>
<circle cx="129.7" cy="474.1" r="3.1"/>
<circle cx="106.5" cy="486.9" r="3.1"/>
<circle cx="111.8" cy="492.9" r="3.1"/>
<circle cx="256.4" cy="423.8" r="3.1"/>
<circle cx="145.7" cy="444.6" r="3.1"/>
<circle cx="345.1" cy="416.6" r="3.1"/>
<circle cx="290.0" cy="442.9" r="3.1"/>
<circle cx="275.7" cy="450.4" r="3.1"/>
<circle cx="249.4" cy="427.6" r="3.1"/>
<circle cx="417.3" cy="374.6" r="3.1"/>
<circle cx="214.8" cy="451.8" r="3.1"/>
<circle cx="158.1" cy="463.3" r="3.1"/>
<circle cx="261.3" cy="433.1" r="3.1"/>
<circle cx="131.6" cy="484.1" r="3.1"/>
<circle cx="162.5" cy="476.2" r="3.1"/>
<circle cx="105.4" cy="491.0" r="3.1"/>
<circle cx="499.4" cy="335.7" r="3.1"/>
<circle cx="161.5" cy="452.6" r="3.1"/>
<circle cx="339.0" cy="437.1" r="3.1"/>
<circle cx="374.8" cy="401.1" r="3.1"/>
<circle cx="205.6" cy="464.2" r="3.1"/>
<circle cx="281.7" cy="419.7" r="3.1"/>
<circle cx="164.9" cy="489.7" r="3.1"/>
<circle cx="184.9" cy="457.4" r="3.1"/>
<circle cx="388.7" cy="402.1" r="3.1"/>
<circle cx="499.4" cy="336.6" r="3.1"/>
<circle cx="122.1" cy="481.4" r="3.1"/>
<circle cx="311.4" cy="408.2" r="3.1"/>
<circle cx="303.0" cy="432.4" r="3.1"/>
<circle cx="188.4" cy="438.9" r="3.1"/>
<circle cx="108.9" cy="492.6" r="3.1"/>
<circle cx="195.4" cy="452.6" r="3.1"/>
<circle cx="243.9" cy="431.6" r="3.1"/>
<circle cx="134.6" cy="483.4" r="3.1"/>
<circle cx="219.3" cy="452.8" r="3.1"/>
<circle cx="390.4" cy="416.5" r="3.1"/>
<circle cx="134.7" cy="493.5" r="3.1"/>
<circle cx="254.5" cy="418.2" r="3.1"/>
<circle cx="181.1" cy="465.6" r="3.1"/>
<circle cx="290.2" cy="438.9" r="3.1"/>
<circle cx="232.2" cy="373.5" r="3.1"/>
<circle cx="184.8" cy="453.8" r="3.1"/>
<circle cx="203.6" cy="444.4" r="3.1"/>
<circle cx="117.9" cy="484.1" r="3.1"/>
<circle cx="281.5" cy="398.0" r="3.1"/>
<circle cx="168.0" cy="482.7" r="3.1"/>
<circle cx="499.4" cy="372.7" r="3.1"/>
<circle cx="359.8" cy="382.0" r="3.1"/>
<circle cx="130.5" cy="494.9" r="3.1"/>
<circle cx="499.4" cy="365.9" r="3.1"/>
<circle cx="176.4" cy="440.6" r="3.1"/>
<circle cx="263.6" cy="440.7" r="3.1"/>
<circle cx="403.4" cy="421.7" r="3.1"/>
<circle cx="147.6" cy="480.5" r="3.1"/>
<circle cx="156.8" cy="495.4" r="3.1"/>
<circle cx="380.7" cy="410.1" r="3.1"/>
<circle cx="219.3" cy="459.8" r="3.1"/>
<circle cx="181.4" cy="461.3" r="3.1"/>
<circle cx="205.4" cy="439.2" r="3.1"/>
<circle cx="253.3" cy="436.3" r="3.1"/>
<circle cx="159.3" cy="458.9" r="3.1"/>
<circle cx="94.2" cy="492.9" r="3.1"/>
<circle cx="157.5" cy="481.3" r="3.1"/>
<circle cx="369.8" cy="433.9" r="3.1"/>
<circle cx="174.0" cy="473.3" r="3.1"/>
<circle cx="153.3" cy="460.3" r="3.1"/>
<circle cx="177.8" cy="481.2" r="3.1"/>
<circle cx="211.4" cy="470.5" r="3.1"/>
<circle cx="499.4" cy="394.9" r="3.1"/>
<circle cx="238.8" cy="425.5" r="3.1"/>
<circle cx="121.6" cy="476.9" r="3.1"/>
<circle cx="352.6" cy="436.0" r="3.1"/>
<circle cx="241.2" cy="440.8" r="3.1"/>
<circle cx="208.3" cy="449.9" r="3.1"/>
<circle cx="117.2" cy="494.4" r="3.1"/>
<circle cx="148.8" cy="473.2" r="3.1"/>
<circle cx="242.1" cy="438.4" r="3.1"/>
<circle cx="153.6" cy="476.7" r="3.1"/>
<circle cx="311.7" cy="431.4" r="3.1"/>
<circle cx="146.6" cy="459.1" r="3.1"/>
<circle cx="279.6" cy="425.8" r="3.1"/>
<circle cx="266.7" cy="440.4" r="3.1"/>
<circle cx="164.7" cy="465.5" r="3.1"/>
<circle cx="214.0" cy="435.3" r="3.1"/>
<circle cx="416.3" cy="394.1" r="3.1"/>
<circle cx="154.5" cy="483.5" r="3.1"/>
<circle cx="306.2" cy="399.5" r="3.1"/>
<circle cx="225.9" cy="448.6" r="3.1"/>
<circle cx="150.0" cy="458.3" r="3.1"/>
<circle cx="201.8" cy="427.5" r="3.1"/>
<circle cx="144.0" cy="485.1" r="3.1"/>
<circle cx="213.0" cy="424.5" r="3.1"/>
<circle cx="226.2" cy="449.6" r="3.1"/>
<circle cx="308.6" cy="413.3" r="3.1"/>
<circle cx="260.4" cy="416.3" r="3.1"/>
<circle cx="122.0" cy="488.9" r="3.1"/>
<circle cx="275.5" cy="409.9" r="3.1"/>
<circle cx="161.6" cy="465.1" r="3.1"/>
<circle cx="154.1" cy="492.0" r="3.1"/>
<circle cx="383.6" cy="409.4" r="3.1"/>
<circle cx="417.4" cy="377.6" r="3.1"/>
<circle cx="163.9" cy="464.8" r="3.1"/>
<circle cx="144.9" cy="487.1" r="3.1"/>
<circle cx="201.3" cy="424.5" r="3.1"/>
<circle cx="175.1" cy="450.3" r="3.1"/>
<circle cx="499.4" cy="344.3" r="3.1"/>
<circle cx="155.0" cy="463.1" r="3.1"/>
<circle cx="349.6" cy="405.0" r="3.1"/>
<circle cx="197.9" cy="456.4" r="3.1"/>
<circle cx="234.8" cy="454.9" r="3.1"/>
<circle cx="455.0" cy="391.0" r="3.1"/>
<circle cx="205.3" cy="459.8" r="3.1"/>
<circle cx="276.8" cy="432.7" r="3.1"/>
<circle cx="313.7" cy="381.4" r="3.1"/>
<circle cx="323.2" cy="411.5" r="3.1"/>
<circle cx="199.4" cy="475.0" r="3.1"/>
<circle cx="275.6" cy="433.1" r="3.1"/>
<circle cx="136.0" cy="475.1" r="3.1"/>
<circle cx="114.4" cy="477.5" r="3.1"/>
<circle cx="373.4" cy="409.9" r="3.1"/>
<circle cx="119.5" cy="493.0" r="3.1"/>
<circle cx="117.1" cy="495.4" r="3.1"/>
<circle cx="296.8" cy="428.3" r="3.1"/>
<circle cx="138.8" cy="491.0" r="3.1"/>
<circle cx="119.1" cy="485.1" r="3.1"/>
<circle cx="166.9" cy="478.0" r="3.1"/>
<circle cx="251.1" cy="416.9" r="3.1"/>
<circle cx="129.5" cy="472.0" r="3.1"/>
<circle cx="344.6" cy="401.2" r="3.1"/>
<circle cx="499.4" cy="477.0" r="3.1"/>
<circle cx="242.6" cy="428.6" r="3.1"/>
<circle cx="272.3" cy="422.6" r="3.1"/>
<circle cx="140.8" cy="488.4" r="3.1"/>
<circle cx="238.6" cy="443.6" r="3.1"/>
<circle cx="499.4" cy="327.7" r="3.1"/>
<circle cx="415.7" cy="423.5" r="3.1"/>
<circle cx="171.4" cy="470.8" r="3.1"/>
<circle cx="258.6" cy="418.5" r="3.1"/>
<circle cx="139.4" cy="488.0" r="3.1"/>
<circle cx="232.6" cy="417.9" r="3.1"/>
<circle cx="232.8" cy="461.8" r="3.1"/>
<circle cx="146.1" cy="460.1" r="3.1"/>
<circle cx="167.9" cy="459.9" r="3.1"/>
<circle cx="345.8" cy="413.0" r="3.1"/>
<circle cx="150.0" cy="480.2" r="3.1"/>
<circle cx="159.7" cy="486.6" r="3.1"/>
<circle cx="196.2" cy="377.0" r="3.1"/>
<circle cx="145.5" cy="475.8" r="3.1"/>
<circle cx="200.9" cy="472.7" r="3.1"/>
<circle cx="173.1" cy="462.3" r="3.1"/>
<circle cx="189.4" cy="477.1" r="3.1"/>
<circle cx="232.8" cy="437.6" r="3.1"/>
<circle cx="344.2" cy="399.2" r="3.1"/>
<circle cx="174.3" cy="441.4" r="3.1"/>
<circle cx="207.5" cy="480.8" r="3.1"/>
<circle cx="125.2" cy="478.8" r="3.1"/>
<circle cx="312.8" cy="428.7" r="3.1"/>
<circle cx="177.4" cy="459.0" r="3.1"/>
<circle cx="499.4" cy="380.7" r="3.1"/>
<circle cx="280.0" cy="424.9" r="3.1"/>
<circle cx="285.3" cy="420.1" r="3.1"/>
<circle cx="251.2" cy="430.7" r="3.1"/>
<circle cx="127.4" cy="493.2" r="3.1"/>
<circle cx="321.0" cy="446.2" r="3.1"/>
<circle cx="198.3" cy="473.4" r="3.1"/>
<circle cx="255.9" cy="425.8" r="3.1"/>
<circle cx="283.7" cy="405.3" r="3.1"/>
<circle cx="111.3" cy="490.2" r="3.1"/>
<circle cx="407.5" cy="412.0" r="3.1"/>
<circle cx="89.2" cy="490.9" r="3.1"/>
<circle cx="318.2" cy="426.2" r="3.1"/>
<circle cx="210.5" cy="468.2" r="3.1"/>
<circle cx="177.8" cy="401.7" r="3.1"/>
<circle cx="301.3" cy="413.7" r="3.1"/>
<circle cx="241.8" cy="471.8" r="3.1"/>
<circle cx="312.3" cy="439.0" r="3.1"/>
<circle cx="243.8" cy="410.0" r="3.1"/>
<circle cx="241.6" cy="452.6" r="3.1"/>
<circle cx="201.5" cy="466.1" r="3.1"/>
<circle cx="255.0" cy="451.4" r="3.1"/>
<circle cx="237.3" cy="467.3" r="3.1"/>
<circle cx="182.2" cy="462.8" r="3.1"/>
<circle cx="288.2" cy="446.7" r="3.1"/>
<circle cx="199.6" cy="446.0" r="3.1"/>
<circle cx="320.0" cy="460.9" r="3.1"/>
<circle cx="251.1" cy="423.4" r="3.1"/>
<circle cx="411.1" cy="404.5" r="3.1"/>
<circle cx="370.9" cy="365.9" r="3.1"/>
<circle cx="494.2" cy="387.5" r="3.1"/>
<circle cx="175.5" cy="461.2" r="3.1"/>
<circle cx="281.9" cy="433.4" r="3.1"/>
<circle cx="499.4" cy="349.1" r="3.1"/>
<circle cx="325.7" cy="426.7" r="3.1"/>
<circle cx="146.8" cy="477.3" r="3.1"/>
<circle cx="209.4" cy="477.3" r="3.1"/>
<circle cx="155.1" cy="477.0" r="3.1"/>
<circle cx="217.1" cy="410.5" r="3.1"/>
<circle cx="327.9" cy="410.0" r="3.1"/>
<circle cx="331.4" cy="395.0" r="3.1"/>
<circle cx="138.1" cy="492.5" r="3.1"/>
<circle cx="240.7" cy="438.2" r="3.1"/>
<circle cx="203.7" cy="423.9" r="3.1"/>
<circle cx="168.3" cy="461.6" r="3.1"/>
<circle cx="240.1" cy="451.1" r="3.1"/>
<circle cx="261.8" cy="451.3" r="3.1"/>
<circle cx="137.7" cy="476.0" r="3.1"/>
<circle cx="316.1" cy="421.3" r="3.1"/>
<circle cx="187.7" cy="467.0" r="3.1"/>
<circle cx="266.1" cy="459.6" r="3.1"/>
<circle cx="161.7" cy="454.2" r="3.1"/>
<circle cx="261.4" cy="460.1" r="3.1"/>
<circle cx="117.4" cy="489.3" r="3.1"/>
<circle cx="384.8" cy="396.0" r="3.1"/>
<circle cx="220.8" cy="432.3" r="3.1"/>
<circle cx="353.1" cy="431.6" r="3.1"/>
<circle cx="138.1" cy="488.4" r="3.1"/>
<circle cx="164.7" cy="472.0" r="3.1"/>
<circle cx="277.4" cy="433.6" r="3.1"/>
<circle cx="126.4" cy="493.3" r="3.1"/>
<circle cx="311.3" cy="421.2" r="3.1"/>
<circle cx="182.6" cy="456.1" r="3.1"/>
<circle cx="165.3" cy="441.1" r="3.1"/>
<circle cx="146.4" cy="470.5" r="3.1"/>
<circle cx="109.2" cy="485.3" r="3.1"/>
<circle cx="307.7" cy="401.4" r="3.1"/>
<circle cx="395.5" cy="402.0" r="3.1"/>
<circle cx="212.1" cy="449.4" r="3.1"/>
<circle cx="264.5" cy="432.3" r="3.1"/>
<circle cx="311.8" cy="437.0" r="3.1"/>
<circle cx="145.5" cy="494.6" r="3.1"/>
<circle cx="204.7" cy="459.0" r="3.1"/>
<circle cx="190.2" cy="451.1" r="3.1"/>
<circle cx="151.7" cy="483.4" r="3.1"/>
<circle cx="145.8" cy="468.7" r="3.1"/>
<circle cx="257.5" cy="438.1" r="3.1"/>
<circle cx="235.4" cy="434.4" r="3.1"/>
<circle cx="310.5" cy="424.5" r="3.1"/>
<circle cx="366.0" cy="391.9" r="3.1"/>
<circle cx="126.6" cy="489.8" r="3.1"/>
<circle cx="499.4" cy="387.7" r="3.1"/>
<circle cx="319.5" cy="403.8" r="3.1"/>
<circle cx="231.7" cy="460.5" r="3.1"/>
<circle cx="111.0" cy="492.7" r="3.1"/>
<circle cx="299.0" cy="442.1" r="3.1"/>
<circle cx="154.9" cy="469.3" r="3.1"/>
<circle cx="359.6" cy="401.5" r="3.1"/>
<circle cx="256.5" cy="407.3" r="3.1"/>
<circle cx="188.0" cy="441.0" r="3.1"/>
<circle cx="108.1" cy="490.2" r="3.1"/>
<circle cx="228.6" cy="448.9" r="3.1"/>
<circle cx="269.0" cy="433.5" r="3.1"/>
<circle cx="380.0" cy="391.2" r="3.1"/>
<circle cx="116.6" cy="479.3" r="3.1"/>
<circle cx="235.6" cy="428.8" r="3.1"/>
<circle cx="129.3" cy="482.8" r="3.1"/>
<circle cx="338.5" cy="424.5" r="3.1"/>
<circle cx="139.7" cy="487.6" r="3.1"/>
<circle cx="209.3" cy="464.4" r="3.1"/>
<circle cx="257.9" cy="431.0" r="3.1"/>
<circle cx="136.3" cy="467.1" r="3.1"/>
<circle cx="316.2" cy="434.9" r="3.1"/>
<circle cx="144.5" cy="484.3" r="3.1"/>
<circle cx="182.9" cy="473.8" r="3.1"/>
<circle cx="106.0" cy="479.6" r="3.1"/>
<circle cx="158.2" cy="455.7" r="3.1"/>
<circle cx="246.4" cy="429.5" r="3.1"/>
<circle cx="291.3" cy="423.2" r="3.1"/>
<circle cx="257.0" cy="455.1" r="3.1"/>
<circle cx="205.0" cy="432.0" r="3.1"/>
<circle cx="209.3" cy="465.4" r="3.1"/>
<circle cx="134.8" cy="484.7" r="3.1"/>
<circle cx="281.6" cy="419.7" r="3.1"/>
<circle cx="155.4" cy="471.7" r="3.1"/>
<circle cx="212.7" cy="425.6" r="3.1"/>
<circle cx="162.4" cy="463.1" r="3.1"/>
<circle cx="258.3" cy="466.0" r="3.1"/>
<circle cx="124.7" cy="482.1" r="3.1"/>
<circle cx="179.1" cy="483.9" r="3.1"/>
<circle cx="116.8" cy="493.9" r="3.1"/>
<circle cx="148.7" cy="475.1" r="3.1"/>
<circle cx="162.1" cy="457.3" r="3.1"/>
<circle cx="238.4" cy="433.0" r="3.1"/>
<circle cx="129.3" cy="489.8" r="3.1"/>
<circle cx="392.0" cy="408.9" r="3.1"/>
<circle cx="198.3" cy="461.2" r="3.1"/>
<circle cx="324.9" cy="405.8" r="3.1"/>
<circle cx="368.6" cy="441.4" r="3.1"/>
<circle cx="176.0" cy="456.5" r="3.1"/>
<circle cx="120.6" cy="493.1" r="3.1"/>
<circle cx="163.7" cy="471.3" r="3.1"/>
<circle cx="122.2" cy="476.9" r="3.1"/>
<circle cx="433.5" cy="347.6" r="3.1"/>
<circle cx="277.7" cy="433.1" r="3.1"/>
<circle cx="293.4" cy="394.3" r="3.1"/>
<circle cx="282.8" cy="400.5" r="3.1"/>
<circle cx="147.5" cy="481.4" r="3.1"/>
<circle cx="336.4" cy="407.7" r="3.1"/>
<circle cx="263.3" cy="425.8" r="3.1"/>
<circle cx="216.0" cy="452.5" r="3.1"/>
<circle cx="499.4" cy="336.8" r="3.1"/>
<circle cx="374.5" cy="398.5" r="3.1"/>
<circle cx="248.3" cy="411.2" r="3.1"/>
<circle cx="450.7" cy="390.9" r="3.1"/>
<circle cx="170.8" cy="446.7" r="3.1"/>
<circle cx="136.4" cy="454.3" r="3.1"/>
<circle cx="202.7" cy="454.4" r="3.1"/>
<circle cx="170.4" cy="438.4" r="3.1"/>
<circle cx="159.3" cy="490.6" r="3.1"/>
<circle cx="206.6" cy="461.1" r="3.1"/>
<circle cx="174.7" cy="472.0" r="3.1"/>
<circle cx="156.0" cy="465.8" r="3.1"/>
<circle cx="495.3" cy="357.9" r="3.1"/>
<circle cx="147.0" cy="489.4" r="3.1"/>
<circle cx="400.7" cy="388.2" r="3.1"/>
<circle cx="153.0" cy="488.9" r="3.1"/>
<circle cx="214.9" cy="472.3" r="3.1"/>
<circle cx="213.6" cy="446.3" r="3.1"/>
<circle cx="412.3" cy="353.5" r="3.1"/>
<circle cx="287.0" cy="409.3" r="3.1"/>
<circle cx="499.4" cy="427.5" r="3.1"/>
<circle cx="140.6" cy="485.1" r="3.1"/>
<circle cx="150.2" cy="476.3" r="3.1"/>
<circle cx="411.3" cy="427.8" r="3.1"/>
<circle cx="405.9" cy="394.1" r="3.1"/>
<circle cx="136.1" cy="488.0" r="3.1"/>
<circle cx="154.9" cy="464.3" r="3.1"/>
<circle cx="152.1" cy="468.7" r="3.1"/>
<circle cx="229.6" cy="465.2" r="3.1"/>
<circle cx="176.8" cy="411.7" r="3.1"/>
<circle cx="177.5" cy="480.7" r="3.1"/>
<circle cx="384.8" cy="427.5" r="3.1"/>
<circle cx="108.9" cy="490.3" r="3.1"/>
<circle cx="499.4" cy="365.2" r="3.1"/>
<circle cx="200.0" cy="458.3" r="3.1"/>
<circle cx="196.3" cy="452.0" r="3.1"/>
<circle cx="321.5" cy="397.4" r="3.1"/>
<circle cx="232.7" cy="430.2" r="3.1"/>
<circle cx="234.3" cy="438.0" r="3.1"/>
<circle cx="390.8" cy="411.6" r="3.1"/>
<circle cx="233.9" cy="465.1" r="3.1"/>
<circle cx="130.8" cy="490.8" r="3.1"/>
<circle cx="154.3" cy="462.0" r="3.1"/>
<circle cx="217.6" cy="452.3" r="3.1"/>
<circle cx="216.0" cy="434.4" r="3.1"/>
<circle cx="206.7" cy="451.6" r="3.1"/>
<circle cx="115.5" cy="492.3" r="3.1"/>
<circle cx="115.2" cy="494.2" r="3.1"/>
<circle cx="179.6" cy="457.0" r="3.1"/>
<circle cx="332.6" cy="425.3" r="3.1"/>
<circle cx="155.9" cy="475.6" r="3.1"/>
<circle cx="148.7" cy="460.1" r="3.1"/>
<circle cx="208.0" cy="467.5" r="3.1"/>
<circle cx="288.7" cy="412.6" r="3.1"/>
<circle cx="164.2" cy="469.9" r="3.1"/>
<circle cx="313.3" cy="418.1" r="3.1"/>
<circle cx="125.5" cy="483.7" r="3.1"/>
<circle cx="150.1" cy="493.9" r="3.1"/>
<circle cx="344.2" cy="399.7" r="3.1"/>
<circle cx="263.5" cy="435.0" r="3.1"/>
<circle cx="156.5" cy="470.1" r="3.1"/>
<circle cx="226.7" cy="420.3" r="3.1"/>
<circle cx="162.8" cy="468.5" r="3.1"/>
<circle cx="355.7" cy="413.0" r="3.1"/>
<circle cx="110.5" cy="493.9" r="3.1"/>
<circle cx="183.6" cy="483.7" r="3.1"/>
<circle cx="418.5" cy="455.0" r="3.1"/>
<circle cx="133.1" cy="493.1" r="3.1"/>
<circle cx="332.6" cy="407.2" r="3.1"/>
<circle cx="499.4" cy="346.5" r="3.1"/>
<circle cx="185.1" cy="460.4" r="3.1"/>
<circle cx="261.0" cy="425.7" r="3.1"/>
<circle cx="126.1" cy="478.7" r="3.1"/>
<circle cx="119.6" cy="493.1" r="3.1"/>
<circle cx="200.3" cy="448.7" r="3.1"/>
<circle cx="449.5" cy="391.0" r="3.1"/>
<circle cx="145.2" cy="482.1" r="3.1"/>
<circle cx="132.5" cy="493.8" r="3.1"/>
<circle cx="114.4" cy="476.6" r="3.1"/>
<circle cx="341.9" cy="428.2" r="3.1"/>
<circle cx="443.2" cy="389.4" r="3.1"/>
<circle cx="424.6" cy="370.8" r="3.1"/>
<circle cx="143.0" cy="475.1" r="3.1"/>
<circle cx="172.7" cy="474.4" r="3.1"/>
<circle cx="252.9" cy="444.3" r="3.1"/>
<circle cx="324.2" cy="405.3" r="3.1"/>
<circle cx="445.0" cy="410.7" r="3.1"/>
<circle cx="295.0" cy="404.9" r="3.1"/>
<circle cx="309.9" cy="426.6" r="3.1"/>
<circle cx="195.3" cy="482.5" r="3.1"/>
<circle cx="249.7" cy="431.8" r="3.1"/>
<circle cx="210.8" cy="444.5" r="3.1"/>
<circle cx="233.9" cy="458.4" r="3.1"/>
<circle cx="252.2" cy="404.0" r="3.1"/>
<circle cx="113.9" cy="486.4" r="3.1"/>
<circle cx="191.8" cy="438.7" r="3.1"/>
<circle cx="151.2" cy="474.4" r="3.1"/>
<circle cx="160.5" cy="490.3" r="3.1"/>
<circle cx="178.0" cy="461.9" r="3.1"/>
<circle cx="211.0" cy="442.7" r="3.1"/>
<circle cx="338.5" cy="414.2" r="3.1"/>
<circle cx="385.0" cy="383.8" r="3.1"/>
<circle cx="136.2" cy="481.7" r="3.1"/>
<circle cx="269.1" cy="430.2" r="3.1"/>
<circle cx="499.4" cy="348.4" r="3.1"/>
<circle cx="326.0" cy="392.5" r="3.1"/>
<circle cx="164.6" cy="455.8" r="3.1"/>
<circle cx="151.3" cy="470.4" r="3.1"/>
<circle cx="285.5" cy="443.6" r="3.1"/>
<circle cx="138.2" cy="483.6" r="3.1"/>
<circle cx="262.3" cy="433.2" r="3.1"/>
<circle cx="292.8" cy="453.2" r="3.1"/>
<circle cx="210.8" cy="454.0" r="3.1"/>
<circle cx="121.5" cy="481.0" r="3.1"/>
<circle cx="499.4" cy="347.4" r="3.1"/>
<circle cx="283.7" cy="407.1" r="3.1"/>
<circle cx="165.4" cy="472.5" r="3.1"/>
<circle cx="150.4" cy="491.8" r="3.1"/>
<circle cx="128.0" cy="478.2" r="3.1"/>
<circle cx="129.2" cy="468.6" r="3.1"/>
<circle cx="351.5" cy="387.1" r="3.1"/>
<circle cx="424.7" cy="418.3" r="3.1"/>
<circle cx="148.7" cy="484.4" r="3.1"/>
<circle cx="120.5" cy="486.0" r="3.1"/>
<circle cx="208.0" cy="474.1" r="3.1"/>
<circle cx="455.5" cy="388.0" r="3.1"/>
<circle cx="116.9" cy="495.3" r="3.1"/>
<circle cx="194.3" cy="436.0" r="3.1"/>
<circle cx="133.2" cy="493.7" r="3.1"/>
<circle cx="272.8" cy="418.3" r="3.1"/>
<circle cx="163.3" cy="489.7" r="3.1"/>
<circle cx="148.3" cy="479.2" r="3.1"/>
<circle cx="155.4" cy="462.4" r="3.1"/>
<circle cx="325.0" cy="428.4" r="3.1"/>
<circle cx="188.5" cy="441.8" r="3.1"/>
<circle cx="288.3" cy="403.3" r="3.1"/>
<circle cx="176.2" cy="459.9" r="3.1"/>
<circle cx="179.4" cy="449.6" r="3.1"/>
<circle cx="395.4" cy="399.5" r="3.1"/>
<circle cx="218.8" cy="441.0" r="3.1"/>
<circle cx="100.9" cy="491.9" r="3.1"/>
<circle cx="167.9" cy="477.4" r="3.1"/>
<circle cx="143.2" cy="452.2" r="3.1"/>
<circle cx="390.6" cy="422.7" r="3.1"/>
<circle cx="127.5" cy="478.4" r="3.1"/>
<circle cx="113.6" cy="480.8" r="3.1"/>
<circle cx="239.0" cy="448.6" r="3.1"/>
<circle cx="222.9" cy="458.1" r="3.1"/>
<circle cx="140.9" cy="474.9" r="3.1"/>
<circle cx="499.4" cy="319.1" r="3.1"/>
<circle cx="408.2" cy="416.0" r="3.1"/>
<circle cx="202.1" cy="458.5" r="3.1"/>
<circle cx="177.2" cy="460.9" r="3.1"/>
<circle cx="140.6" cy="482.1" r="3.1"/>
<circle cx="229.1" cy="435.8" r="3.1"/>
<circle cx="166.2" cy="465.8" r="3.1"/>
<circle cx="295.6" cy="412.3" r="3.1"/>
<circle cx="130.3" cy="481.7" r="3.1"/>
<circle cx="254.4" cy="414.3" r="3.1"/>
<circle cx="449.5" cy="398.2" r="3.1"/>
<circle cx="435.4" cy="374.2" r="3.1"/>
<circle cx="377.6" cy="410.5" r="3.1"/>
<circle cx="112.0" cy="486.8" r="3.1"/>
<circle cx="108.5" cy="493.1" r="3.1"/>
<circle cx="360.5" cy="406.1" r="3.1"/>
<circle cx="113.9" cy="485.4" r="3.1"/>
<circle cx="412.0" cy="395.9" r="3.1"/>
<circle cx="169.4" cy="470.8" r="3.1"/>
<circle cx="158.2" cy="483.4" r="3.1"/>
<circle cx="150.8" cy="488.6" r="3.1"/>
<circle cx="184.7" cy="476.6" r="3.1"/>
<circle cx="335.5" cy="425.6" r="3.1"/>
<circle cx="153.8" cy="472.5" r="3.1"/>
<circle cx="228.7" cy="450.8" r="3.1"/>
<circle cx="171.0" cy="486.6" r="3.1"/>
<circle cx="411.4" cy="373.8" r="3.1"/>
<circle cx="319.4" cy="434.4" r="3.1"/>
<circle cx="216.4" cy="446.0" r="3.1"/>
<circle cx="161.3" cy="487.6" r="3.1"/>
<circle cx="211.0" cy="471.2" r="3.1"/>
<circle cx="247.9" cy="418.4" r="3.1"/>
<circle cx="114.9" cy="483.7" r="3.1"/>
<circle cx="499.4" cy="386.6" r="3.1"/>
<circle cx="126.5" cy="475.4" r="3.1"/>
<circle cx="120.6" cy="483.9" r="3.1"/>
<circle cx="327.9" cy="428.6" r="3.1"/>
<circle cx="135.6" cy="494.4" r="3.1"/>
<circle cx="260.2" cy="421.4" r="3.1"/>
<circle cx="273.9" cy="454.9" r="3.1"/>
<circle cx="250.3" cy="419.9" r="3.1"/>
<circle cx="246.1" cy="432.0" r="3.1"/>
<circle cx="224.4" cy="447.6" r="3.1"/>
<circle cx="173.5" cy="462.5" r="3.1"/>
<circle cx="185.1" cy="459.5" r="3.1"/>
<circle cx="289.0" cy="430.4" r="3.1"/>
<circle cx="178.2" cy="446.0" r="3.1"/>
<circle cx="125.2" cy="479.9" r="3.1"/>
<circle cx="338.1" cy="405.1" r="3.1"/>
<circle cx="465.0" cy="428.4" r="3.1"/>
<circle cx="188.5" cy="450.4" r="3.1"/>
<circle cx="168.5" cy="461.9" r="3.1"/>
<circle cx="319.6" cy="416.7" r="3.1"/>
<circle cx="119.1" cy="489.8" r="3.1"/>
<circle cx="232.2" cy="427.2" r="3.1"/>
<circle cx="233.0" cy="445.5" r="3.1"/>
<circle cx="203.4" cy="484.4" r="3.1"/>
<circle cx="270.7" cy="405.8" r="3.1"/>
<circle cx="149.0" cy="484.6" r="3.1"/>
<circle cx="499.4" cy="368.0" r="3.1"/>
<circle cx="159.0" cy="466.9" r="3.1"/>
<circle cx="127.6" cy="480.0" r="3.1"/>
<circle cx="239.6" cy="438.7" r="3.1"/>
<circle cx="238.0" cy="447.8" r="3.1"/>
<circle cx="243.0" cy="423.3" r="3.1"/>
<circle cx="372.0" cy="421.5" r="3.1"/>
<circle cx="146.2" cy="469.8" r="3.1"/>
<circle cx="226.4" cy="434.5" r="3.1"/>
<circle cx="301.0" cy="420.3" r="3.1"/>
<circle cx="170.5" cy="475.1" r="3.1"/>
<circle cx="499.4" cy="330.1" r="3.1"/>
<circle cx="441.5" cy="357.2" r="3.1"/>
<circle cx="94.2" cy="493.5" r="3.1"/>
<circle cx="483.9" cy="365.7" r="3.1"/>
<circle cx="213.7" cy="466.2" r="3.1"/>
<circle cx="112.4" cy="494.0" r="3.1"/>
<circle cx="466.3" cy="392.7" r="3.1"/>
<circle cx="175.1" cy="461.8" r="3.1"/>
<circle cx="244.8" cy="430.0" r="3.1"/>
<circle cx="128.5" cy="479.9" r="3.1"/>
<circle cx="499.4" cy="442.4" r="3.1"/>
<circle cx="219.7" cy="438.7" r="3.1"/>
<circle cx="363.7" cy="403.9" r="3.1"/>
<circle cx="101.1" cy="494.8" r="3.1"/>
<circle cx="355.8" cy="397.6" r="3.1"/>
<circle cx="212.1" cy="444.2" r="3.1"/>
<circle cx="200.1" cy="459.8" r="3.1"/>
<circle cx="175.1" cy="472.1" r="3.1"/>
<circle cx="492.2" cy="407.3" r="3.1"/>
<circle cx="197.9" cy="436.7" r="3.1"/>
<circle cx="499.4" cy="352.1" r="3.1"/>
<circle cx="203.2" cy="466.8" r="3.1"/>
<circle cx="241.1" cy="429.8" r="3.1"/>
<circle cx="299.6" cy="424.4" r="3.1"/>
<circle cx="310.5" cy="384.8" r="3.1"/>
<circle cx="254.1" cy="447.5" r="3.1"/>
<circle cx="165.0" cy="477.7" r="3.1"/>
<circle cx="272.5" cy="407.2" r="3.1"/>
<circle cx="154.3" cy="463.0" r="3.1"/>
<circle cx="181.8" cy="468.9" r="3.1"/>
<circle cx="162.0" cy="487.8" r="3.1"/>
<circle cx="377.9" cy="428.2" r="3.1"/>
<circle cx="339.7" cy="387.1" r="3.1"/>
<circle cx="178.4" cy="446.2" r="3.1"/>
<circle cx="404.3" cy="392.3" r="3.1"/>
<circle cx="217.0" cy="437.9" r="3.1"/>
<circle cx="211.7" cy="450.3" r="3.1"/>
<circle cx="118.0" cy="480.6" r="3.1"/>
<circle cx="190.7" cy="468.5" r="3.1"/>
<circle cx="287.5" cy="425.6" r="3.1"/>
<circle cx="349.3" cy="411.7" r="3.1"/>
<circle cx="130.8" cy="482.4" r="3.1"/>
<circle cx="281.0" cy="428.7" r="3.1"/>
<circle cx="364.4" cy="386.8" r="3.1"/>
<circle cx="315.3" cy="379.8" r="3.1"/>
<circle cx="111.2" cy="493.6" r="3.1"/>
<circle cx="231.7" cy="435.1" r="3.1"/>
<circle cx="155.9" cy="471.1" r="3.1"/>
<circle cx="240.7" cy="448.9" r="3.1"/>
<circle cx="258.3" cy="412.5" r="3.1"/>
<circle cx="152.7" cy="489.3" r="3.1"/>
<circle cx="100.1" cy="492.3" r="3.1"/>
<circle cx="259.1" cy="420.6" r="3.1"/>
<circle cx="307.5" cy="431.0" r="3.1"/>
<circle cx="108.9" cy="492.3" r="3.1"/>
<circle cx="200.9" cy="442.4" r="3.1"/>
<circle cx="157.1" cy="475.8" r="3.1"/>
<circle cx="166.2" cy="485.2" r="3.1"/>
<circle cx="195.7" cy="463.9" r="3.1"/>
<circle cx="258.6" cy="432.5" r="3.1"/>
<circle cx="386.5" cy="446.0" r="3.1"/>
<circle cx="259.5" cy="451.4" r="3.1"/>
<circle cx="216.4" cy="405.1" r="3.1"/>
<circle cx="200.9" cy="457.9" r="3.1"/>
<circle cx="300.5" cy="391.8" r="3.1"/>
<circle cx="499.4" cy="322.5" r="3.1"/>
<circle cx="499.4" cy="320.2" r="3.1"/>
<circle cx="225.7" cy="470.0" r="3.1"/>
<circle cx="132.0" cy="481.7" r="3.1"/>
<circle cx="161.6" cy="479.2" r="3.1"/>
<circle cx="499.4" cy="373.8" r="3.1"/>
<circle cx="114.0" cy="483.8" r="3.1"/>
<circle cx="155.7" cy="462.4" r="3.1"/>
<circle cx="253.2" cy="428.9" r="3.1"/>
<circle cx="220.1" cy="420.7" r="3.1"/>
<circle cx="168.3" cy="453.4" r="3.1"/>
<circle cx="196.8" cy="464.7" r="3.1"/>
<circle cx="219.2" cy="410.6" r="3.1"/>
<circle cx="499.4" cy="338.1" r="3.1"/>
<circle cx="199.8" cy="459.7" r="3.1"/>
<circle cx="124.5" cy="495.3" r="3.1"/>
<circle cx="150.1" cy="473.9" r="3.1"/>
<circle cx="325.3" cy="378.0" r="3.1"/>
<circle cx="408.4" cy="367.2" r="3.1"/>
<circle cx="144.1" cy="467.5" r="3.1"/>
<circle cx="110.2" cy="481.9" r="3.1"/>
<circle cx="437.6" cy="413.8" r="3.1"/>
<circle cx="122.2" cy="490.9" r="3.1"/>
<circle cx="187.2" cy="468.9" r="3.1"/>
<circle cx="199.3" cy="484.7" r="3.1"/>
<circle cx="466.3" cy="384.8" r="3.1"/>
<circle cx="257.9" cy="395.3" r="3.1"/>
<circle cx="258.0" cy="421.7" r="3.1"/>
<circle cx="477.3" cy="395.4" r="3.1"/>
<circle cx="197.9" cy="436.8" r="3.1"/>
<circle cx="197.2" cy="464.4" r="3.1"/>
<circle cx="194.3" cy="450.5" r="3.1"/>
<circle cx="289.4" cy="400.0" r="3.1"/>
<circle cx="402.2" cy="414.1" r="3.1"/>
<circle cx="217.1" cy="428.8" r="3.1"/>
<circle cx="251.1" cy="432.3" r="3.1"/>
<circle cx="216.1" cy="441.5" r="3.1"/>
<circle cx="165.5" cy="443.6" r="3.1"/>
<circle cx="241.2" cy="449.7" r="3.1"/>
<circle cx="123.8" cy="487.5" r="3.1"/>
<circle cx="320.1" cy="414.2" r="3.1"/>
<circle cx="428.5" cy="400.0" r="3.1"/>
<circle cx="149.2" cy="479.8" r="3.1"/>
<circle cx="294.5" cy="392.1" r="3.1"/>
<circle cx="272.2" cy="443.1" r="3.1"/>
<circle cx="131.4" cy="477.9" r="3.1"/>
<circle cx="148.4" cy="472.0" r="3.1"/>
<circle cx="203.7" cy="366.2" r="3.1"/>
<circle cx="194.8" cy="466.9" r="3.1"/>
<circle cx="233.4" cy="418.9" r="3.1"/>
<circle cx="155.1" cy="480.2" r="3.1"/>
<circle cx="317.6" cy="385.9" r="3.1"/>
<circle cx="199.3" cy="449.9" r="3.1"/>
<circle cx="499.4" cy="372.5" r="3.1"/>
<circle cx="235.2" cy="446.2" r="3.1"/>
<circle cx="301.1" cy="413.6" r="3.1"/>
<circle cx="314.6" cy="394.6" r="3.1"/>
<circle cx="209.9" cy="447.1" r="3.1"/>
<circle cx="259.4" cy="452.5" r="3.1"/>
<circle cx="196.3" cy="411.6" r="3.1"/>
<circle cx="221.6" cy="459.4" r="3.1"/>
<circle cx="199.7" cy="459.9" r="3.1"/>
<circle cx="205.7" cy="473.1" r="3.1"/>
<circle cx="252.3" cy="464.8" r="3.1"/>
<circle cx="352.5" cy="428.1" r="3.1"/>
<circle cx="125.5" cy="480.4" r="3.1"/>
<circle cx="151.5" cy="452.7" r="3.1"/>
<circle cx="173.9" cy="435.5" r="3.1"/>
<circle cx="305.1" cy="406.0" r="3.1"/>
<circle cx="148.2" cy="457.1" r="3.1"/>
<circle cx="208.5" cy="473.1" r="3.1"/>
<circle cx="240.8" cy="449.5" r="3.1"/>
<circle cx="246.4" cy="407.2" r="3.1"/>
<circle cx="134.8" cy="466.2" r="3.1"/>
<circle cx="154.8" cy="479.4" r="3.1"/>
<circle cx="111.0" cy="493.3" r="3.1"/>
<circle cx="499.4" cy="358.4" r="3.1"/>
<circle cx="282.0" cy="416.0" r="3.1"/>
<circle cx="211.2" cy="423.3" r="3.1"/>
<circle cx="355.7" cy="389.7" r="3.1"/>
<circle cx="189.2" cy="452.9" r="3.1"/>
<circle cx="254.5" cy="429.8" r="3.1"/>
<circle cx="110.6" cy="481.7" r="3.1"/>
<circle cx="207.5" cy="438.1" r="3.1"/>
<circle cx="174.3" cy="474.9" r="3.1"/>
<circle cx="132.1" cy="474.7" r="3.1"/>
<circle cx="256.8" cy="460.9" r="3.1"/>
<circle cx="125.4" cy="485.2" r="3.1"/>
<circle cx="314.4" cy="422.9" r="3.1"/>
<circle cx="112.0" cy="495.4" r="3.1"/>
<circle cx="499.4" cy="319.1" r="3.1"/>
<circle cx="195.6" cy="472.7" r="3.1"/>
<circle cx="217.7" cy="452.9" r="3.1"/>
<circle cx="134.1" cy="480.0" r="3.1"/>
<circle cx="250.2" cy="444.8" r="3.1"/>
<circle cx="177.1" cy="457.1" r="3.1"/>
<circle cx="270.5" cy="402.9" r="3.1"/>
<circle cx="224.7" cy="452.4" r="3.1"/>
<circle cx="125.2" cy="491.3" r="3.1"/>
<circle cx="157.2" cy="447.9" r="3.1"/>
<circle cx="190.3" cy="462.0" r="3.1"/>
<circle cx="106.1" cy="492.3" r="3.1"/>
<circle cx="208.0" cy="461.4" r="3.1"/>
<circle cx="166.0" cy="464.5" r="3.1"/>
<circle cx="174.2" cy="449.3" r="3.1"/>
<circle cx="110.8" cy="482.5" r="3.1"/>
<circle cx="330.7" cy="403.0" r="3.1"/>
<circle cx="150.9" cy="474.2" r="3.1"/>
<circle cx="155.7" cy="477.4" r="3.1"/>
<circle cx="458.9" cy="387.8" r="3.1"/>
<circle cx="111.7" cy="485.8" r="3.1"/>
<circle cx="197.4" cy="462.9" r="3.1"/>
<circle cx="187.1" cy="454.9" r="3.1"/>
<circle cx="122.9" cy="478.3" r="3.1"/>
<circle cx="208.1" cy="432.3" r="3.1"/>
<circle cx="177.3" cy="472.1" r="3.1"/>
<circle cx="499.4" cy="362.6" r="3.1"/>
<circle cx="197.2" cy="434.0" r="3.1"/>
<circle cx="303.3" cy="439.9" r="3.1"/>
<circle cx="115.7" cy="489.6" r="3.1"/>
<circle cx="188.2" cy="459.7" r="3.1"/>
<circle cx="413.8" cy="363.9" r="3.1"/>
<circle cx="164.6" cy="458.7" r="3.1"/>
<circle cx="400.0" cy="374.7" r="3.1"/>
<circle cx="344.0" cy="420.3" r="3.1"/>
<circle cx="114.2" cy="491.0" r="3.1"/>
<circle cx="239.5" cy="427.7" r="3.1"/>
<circle cx="308.2" cy="425.8" r="3.1"/>
<circle cx="350.1" cy="398.9" r="3.1"/>
<circle cx="198.9" cy="449.7" r="3.1"/>
<circle cx="155.7" cy="468.4" r="3.1"/>
<circle cx="184.6" cy="469.2" r="3.1"/>
<circle cx="499.4" cy="322.9" r="3.1"/>
<circle cx="273.4" cy="416.5" r="3.1"/>
<circle cx="199.4" cy="471.0" r="3.1"/>
<circle cx="247.3" cy="436.5" r="3.1"/>
<circle cx="456.5" cy="407.6" r="3.1"/>
<circle cx="404.5" cy="423.7" r="3.1"/>
<circle cx="148.7" cy="481.0" r="3.1"/>
<circle cx="406.5" cy="420.3" r="3.1"/>
<circle cx="206.8" cy="449.8" r="3.1"/>
<circle cx="175.4" cy="455.9" r="3.1"/>
<circle cx="134.1" cy="488.5" r="3.1"/>
<circle cx="228.7" cy="442.4" r="3.1"/>
<circle cx="247.6" cy="409.1" r="3.1"/>
<circle cx="145.6" cy="466.2" r="3.1"/>
<circle cx="259.0" cy="440.8" r="3.1"/>
<circle cx="369.3" cy="406.6" r="3.1"/>
<circle cx="433.2" cy="374.3" r="3.1"/>
<circle cx="241.1" cy="461.8" r="3.1"/>
<circle cx="184.0" cy="463.8" r="3.1"/>
<circle cx="499.4" cy="339.3" r="3.1"/>
<circle cx="248.5" cy="452.8" r="3.1"/>
<circle cx="216.9" cy="437.5" r="3.1"/>
<circle cx="306.9" cy="456.9" r="3.1"/>
<circle cx="210.9" cy="415.3" r="3.1"/>
<circle cx="499.4" cy="354.2" r="3.1"/>
<circle cx="257.6" cy="435.4" r="3.1"/>
<circle cx="274.7" cy="453.1" r="3.1"/>
<circle cx="157.9" cy="473.0" r="3.1"/>
<circle cx="244.2" cy="408.1" r="3.1"/>
<circle cx="151.4" cy="481.1" r="3.1"/>
<circle cx="499.4" cy="337.5" r="3.1"/>
<circle cx="287.6" cy="396.6" r="3.1"/>
<circle cx="146.3" cy="494.5" r="3.1"/>
<circle cx="122.2" cy="488.3" r="3.1"/>
<circle cx="146.9" cy="483.7" r="3.1"/>
<circle cx="385.5" cy="414.9" r="3.1"/>
<circle cx="178.8" cy="482.5" r="3.1"/>
<circle cx="150.9" cy="481.6" r="3.1"/>
<circle cx="152.6" cy="493.1" r="3.1"/>
<circle cx="245.8" cy="430.5" r="3.1"/>
<circle cx="280.9" cy="416.4" r="3.1"/>
<circle cx="380.9" cy="371.8" r="3.1"/>
<circle cx="312.8" cy="426.1" r="3.1"/>
<circle cx="128.4" cy="491.7" r="3.1"/>
<circle cx="318.1" cy="392.3" r="3.1"/>
<circle cx="159.9" cy="477.2" r="3.1"/>
<circle cx="351.9" cy="406.2" r="3.1"/>
<circle cx="109.7" cy="483.6" r="3.1"/>
<circle cx="310.9" cy="425.9" r="3.1"/>
<circle cx="243.5" cy="430.3" r="3.1"/>
<circle cx="160.0" cy="458.7" r="3.1"/>
<circle cx="255.2" cy="431.9" r="3.1"/>
<circle cx="141.6" cy="481.7" r="3.1"/>
<circle cx="214.2" cy="435.4" r="3.1"/>
<circle cx="282.1" cy="439.1" r="3.1"/>
<circle cx="240.6" cy="449.9" r="3.1"/>
<circle cx="105.4" cy="488.7" r="3.1"/>
<circle cx="119.0" cy="493.3" r="3.1"/>
<circle cx="114.2" cy="488.7" r="3.1"/>
<circle cx="100.9" cy="494.8" r="3.1"/>
<circle cx="124.9" cy="488.7" r="3.1"/>
<circle cx="305.9" cy="405.3" r="3.1"/>
<circle cx="93.1" cy="491.3" r="3.1"/>
<circle cx="407.4" cy="409.6" r="3.1"/>
<circle cx="234.3" cy="424.9" r="3.1"/>
<circle cx="145.7" cy="476.2" r="3.1"/>
<circle cx="114.9" cy="488.4" r="3.1"/>
<circle cx="180.0" cy="464.8" r="3.1"/>
<circle cx="152.5" cy="479.2" r="3.1"/>
<circle cx="241.9" cy="417.8" r="3.1"/>
<circle cx="231.0" cy="391.3" r="3.1"/>
<circle cx="256.3" cy="433.5" r="3.1"/>
<circle cx="261.1" cy="452.8" r="3.1"/>
<circle cx="390.9" cy="429.3" r="3.1"/>
<circle cx="173.3" cy="449.1" r="3.1"/>
<circle cx="438.1" cy="343.1" r="3.1"/>
<circle cx="274.2" cy="435.2" r="3.1"/>
<circle cx="220.8" cy="465.7" r="3.1"/>
<circle cx="109.8" cy="489.1" r="3.1"/>
<circle cx="230.5" cy="435.0" r="3.1"/>
<circle cx="119.0" cy="482.4" r="3.1"/>
<circle cx="201.3" cy="454.6" r="3.1"/>
<circle cx="249.1" cy="441.4" r="3.1"/>
<circle cx="321.7" cy="421.0" r="3.1"/>
<circle cx="183.3" cy="449.0" r="3.1"/>
<circle cx="123.6" cy="490.8" r="3.1"/>
<circle cx="234.7" cy="457.3" r="3.1"/>
<circle cx="245.1" cy="455.9" r="3.1"/>
<circle cx="215.7" cy="448.6" r="3.1"/>
<circle cx="309.1" cy="424.1" r="3.1"/>
<circle cx="187.0" cy="454.6" r="3.1"/>
<circle cx="173.7" cy="474.4" r="3.1"/>
<circle cx="145.9" cy="481.3" r="3.1"/>
<circle cx="499.4" cy="391.6" r="3.1"/>
<circle cx="218.0" cy="435.7" r="3.1"/>
<circle cx="197.8" cy="458.8" r="3.1"/>
<circle cx="108.0" cy="489.3" r="3.1"/>
<circle cx="232.9" cy="440.3" r="3.1"/>
<circle cx="151.6" cy="488.0" r="3.1"/>
<circle cx="145.0" cy="491.4" r="3.1"/>
<circle cx="166.8" cy="452.8" r="3.1"/>
<circle cx="261.6" cy="433.2" r="3.1"/>
<circle cx="329.5" cy="391.5" r="3.1"/>
<circle cx="156.2" cy="478.6" r="3.1"/>
<circle cx="299.3" cy="400.2" r="3.1"/>
<circle cx="227.2" cy="455.3" r="3.1"/>
<circle cx="245.8" cy="436.7" r="3.1"/>
<circle cx="179.4" cy="469.2" r="3.1"/>
<circle cx="110.1" cy="493.8" r="3.1"/>
<circle cx="274.4" cy="413.1" r="3.1"/>
<circle cx="275.9" cy="432.1" r="3.1"/>
<circle cx="218.8" cy="442.9" r="3.1"/>
<circle cx="287.6" cy="407.0" r="3.1"/>
<circle cx="295.5" cy="429.9" r="3.1"/>
<circle cx="499.4" cy="350.1" r="3.1"/>
<circle cx="132.6" cy="490.4" r="3.1"/>
<circle cx="177.7" cy="467.7" r="3.1"/>
<circle cx="283.9" cy="412.5" r="3.1"/>
<circle cx="283.9" cy="419.8" r="3.1"/>
<circle cx="187.4" cy="449.3" r="3.1"/>
<circle cx="241.3" cy="445.7" r="3.1"/>
<circle cx="132.1" cy="481.4" r="3.1"/>
<circle cx="499.4" cy="414.3" r="3.1"/>
<circle cx="185.9" cy="410.8" r="3.1"/>
<circle cx="289.2" cy="423.3" r="3.1"/>
<circle cx="111.1" cy="493.6" r="3.1"/>
<circle cx="192.3" cy="447.4" r="3.1"/>
<circle cx="234.8" cy="471.0" r="3.1"/>
<circle cx="152.6" cy="486.3" r="3.1"/>
<circle cx="452.3" cy="405.1" r="3.1"/>
<circle cx="159.6" cy="469.2" r="3.1"/>
<circle cx="227.6" cy="441.2" r="3.1"/>
<circle cx="173.6" cy="458.7" r="3.1"/>
<circle cx="499.4" cy="342.1" r="3.1"/>
<circle cx="150.7" cy="477.4" r="3.1"/>
<circle cx="314.4" cy="387.6" r="3.1"/>
<circle cx="151.2" cy="473.1" r="3.1"/>
<circle cx="336.2" cy="398.3" r="3.1"/>
<circle cx="365.6" cy="415.6" r="3.1"/>
<circle cx="178.5" cy="440.5" r="3.1"/>
<circle cx="320.5" cy="426.4" r="3.1"/>
<circle cx="199.9" cy="449.3" r="3.1"/>
<circle cx="183.4" cy="466.8" r="3.1"/>
<circle cx="172.0" cy="486.3" r="3.1"/>
<circle cx="203.0" cy="463.6" r="3.1"/>
<circle cx="231.8" cy="461.2" r="3.1"/>
<circle cx="145.2" cy="483.9" r="3.1"/>
<circle cx="205.7" cy="448.2" r="3.1"/>
<circle cx="153.6" cy="466.2" r="3.1"/>
<circle cx="438.0" cy="372.4" r="3.1"/>
<circle cx="437.9" cy="369.4" r="3.1"/>
<circle cx="173.5" cy="461.5" r="3.1"/>
<circle cx="202.5" cy="454.2" r="3.1"/>
<circle cx="434.7" cy="384.6" r="3.1"/>
<circle cx="499.4" cy="441.4" r="3.1"/>
<circle cx="161.4" cy="456.8" r="3.1"/>
<circle cx="241.1" cy="435.9" r="3.1"/>
<circle cx="448.8" cy="408.3" r="3.1"/>
<circle cx="134.8" cy="486.4" r="3.1"/>
<circle cx="195.2" cy="457.2" r="3.1"/>
<circle cx="451.3" cy="370.1" r="3.1"/>
<circle cx="345.0" cy="439.7" r="3.1"/>
<circle cx="450.2" cy="408.3" r="3.1"/>
<circle cx="188.9" cy="453.1" r="3.1"/>
<circle cx="203.4" cy="467.5" r="3.1"/>
<circle cx="405.0" cy="386.0" r="3.1"/>
<circle cx="229.6" cy="471.5" r="3.1"/>
<circle cx="121.5" cy="487.1" r="3.1"/>
<circle cx="310.0" cy="443.3" r="3.1"/>
<circle cx="128.6" cy="477.5" r="3.1"/>
<circle cx="124.9" cy="477.7" r="3.1"/>
<circle cx="121.8" cy="493.6" r="3.1"/>
<circle cx="197.7" cy="466.3" r="3.1"/>
<circle cx="292.0" cy="416.3" r="3.1"/>
<circle cx="222.5" cy="455.5" r="3.1"/>
<circle cx="346.1" cy="385.4" r="3.1"/>
<circle cx="107.9" cy="494.6" r="3.1"/>
<circle cx="379.3" cy="418.2" r="3.1"/>
<circle cx="288.6" cy="407.0" r="3.1"/>
<circle cx="311.4" cy="450.3" r="3.1"/>
<circle cx="174.6" cy="445.8" r="3.1"/>
<circle cx="332.4" cy="420.3" r="3.1"/>
<circle cx="168.1" cy="467.2" r="3.1"/>
<circle cx="280.7" cy="433.2" r="3.1"/>
<circle cx="303.1" cy="416.5" r="3.1"/>
<circle cx="301.7" cy="424.9" r="3.1"/>
<circle cx="197.1" cy="473.9" r="3.1"/>
<circle cx="190.4" cy="453.9" r="3.1"/>
<circle cx="229.1" cy="441.2" r="3.1"/>
<circle cx="375.3" cy="398.9" r="3.1"/>
<circle cx="188.8" cy="467.2" r="3.1"/>
<circle cx="470.4" cy="353.4" r="3.1"/>
<circle cx="499.4" cy="379.8" r="3.1"/>
<circle cx="175.1" cy="460.7" r="3.1"/>
<circle cx="186.2" cy="459.0" r="3.1"/>
<circle cx="146.0" cy="468.2" r="3.1"/>
<circle cx="344.5" cy="368.1" r="3.1"/>
<circle cx="135.8" cy="459.9" r="3.1"/>
<circle cx="360.2" cy="424.5" r="3.1"/>
<circle cx="195.1" cy="449.0" r="3.1"/>
<circle cx="177.3" cy="433.1" r="3.1"/>
<circle cx="192.5" cy="463.8" r="3.1"/>
<circle cx="386.8" cy="394.6" r="3.1"/>
<circle cx="162.6" cy="484.5" r="3.1"/>
<circle cx="141.1" cy="470.7" r="3.1"/>
<circle cx="299.6" cy="427.3" r="3.1"/>
<circle cx="217.7" cy="421.7" r="3.1"/>
<circle cx="125.9" cy="491.6" r="3.1"/>
<circle cx="107.5" cy="480.8" r="3.1"/>
<circle cx="348.6" cy="408.5" r="3.1"/>
<circle cx="124.9" cy="491.5" r="3.1"/>
<circle cx="234.5" cy="454.2" r="3.1"/>
<circle cx="162.5" cy="472.8" r="3.1"/>
<circle cx="445.3" cy="353.8" r="3.1"/>
<circle cx="185.4" cy="444.1" r="3.1"/>
<circle cx="215.0" cy="470.1" r="3.1"/>
<circle cx="220.3" cy="445.7" r="3.1"/>
<circle cx="210.7" cy="437.3" r="3.1"/>
<circle cx="141.6" cy="479.6" r="3.1"/>
<circle cx="290.3" cy="421.4" r="3.1"/>
<circle cx="218.6" cy="454.3" r="3.1"/>
<circle cx="263.6" cy="401.4" r="3.1"/>
<circle cx="223.7" cy="442.7" r="3.1"/>
<circle cx="131.7" cy="467.4" r="3.1"/>
<circle cx="329.2" cy="417.2" r="3.1"/>
<circle cx="242.9" cy="426.3" r="3.1"/>
<circle cx="227.6" cy="445.3" r="3.1"/>
<circle cx="157.1" cy="472.5" r="3.1"/>
<circle cx="151.6" cy="468.2" r="3.1"/>
<circle cx="200.4" cy="427.9" r="3.1"/>
<circle cx="147.8" cy="472.3" r="3.1"/>
<circle cx="196.0" cy="445.3" r="3.1"/>
<circle cx="410.6" cy="405.4" r="3.1"/>
<circle cx="266.6" cy="423.5" r="3.1"/>
<circle cx="298.5" cy="411.4" r="3.1"/>
<circle cx="129.7" cy="481.8" r="3.1"/>
<circle cx="214.4" cy="452.7" r="3.1"/>
<circle cx="115.4" cy="489.5" r="3.1"/>
<circle cx="157.4" cy="476.7" r="3.1"/>
<circle cx="164.1" cy="468.2" r="3.1"/>
<circle cx="138.2" cy="494.5" r="3.1"/>
<circle cx="123.3" cy="479.1" r="3.1"/>
<circle cx="194.9" cy="389.3" r="3.1"/>
<circle cx="261.3" cy="422.0" r="3.1"/>
<circle cx="104.3" cy="490.7" r="3.1"/>
<circle cx="171.9" cy="474.1" r="3.1"/>
<circle cx="175.6" cy="447.3" r="3.1"/>
<circle cx="499.4" cy="353.8" r="3.1"/>
<circle cx="297.0" cy="426.1" r="3.1"/>
<circle cx="137.4" cy="458.3" r="3.1"/>
<circle cx="247.2" cy="442.8" r="3.1"/>
<circle cx="220.8" cy="443.8" r="3.1"/>
<circle cx="339.0" cy="403.9" r="3.1"/>
<circle cx="175.8" cy="448.5" r="3.1"/>
<circle cx="499.4" cy="319.1" r="3.1"/>
<circle cx="209.8" cy="442.5" r="3.1"/>
<circle cx="254.7" cy="452.3" r="3.1"/>
<circle cx="105.3" cy="494.3" r="3.1"/>
<circle cx="237.7" cy="458.6" r="3.1"/>
<circle cx="211.1" cy="428.1" r="3.1"/>
<circle cx="364.9" cy="406.3" r="3.1"/>
<circle cx="226.8" cy="453.0" r="3.1"/>
<circle cx="132.0" cy="490.2" r="3.1"/>
<circle cx="499.4" cy="361.3" r="3.1"/>
<circle cx="158.4" cy="485.3" r="3.1"/>
<circle cx="260.4" cy="401.6" r="3.1"/>
<circle cx="85.0" cy="490.8" r="3.1"/>
<circle cx="198.1" cy="452.9" r="3.1"/>
<circle cx="408.6" cy="403.4" r="3.1"/>
<circle cx="174.9" cy="444.9" r="3.1"/>
<circle cx="214.8" cy="440.3" r="3.1"/>
<circle cx="465.0" cy="333.2" r="3.1"/>
<circle cx="248.2" cy="429.5" r="3.1"/>
<circle cx="246.6" cy="423.2" r="3.1"/>
<circle cx="261.7" cy="438.9" r="3.1"/>
<circle cx="392.1" cy="425.6" r="3.1"/>
<circle cx="372.9" cy="387.9" r="3.1"/>
<circle cx="110.4" cy="490.3" r="3.1"/>
<circle cx="153.7" cy="479.2" r="3.1"/>
<circle cx="147.2" cy="487.3" r="3.1"/>
<circle cx="147.9" cy="461.7" r="3.1"/>
<circle cx="305.8" cy="393.9" r="3.1"/>
<circle cx="276.7" cy="437.4" r="3.1"/>
<circle cx="252.4" cy="443.3" r="3.1"/>
<circle cx="178.7" cy="452.3" r="3.1"/>
<circle cx="318.3" cy="414.1" r="3.1"/>
<circle cx="353.0" cy="418.3" r="3.1"/>
<circle cx="194.8" cy="468.0" r="3.1"/>
<circle cx="191.5" cy="451.7" r="3.1"/>
<circle cx="206.2" cy="447.1" r="3.1"/>
<circle cx="349.4" cy="372.9" r="3.1"/>
<circle cx="267.4" cy="447.8" r="3.1"/>
<circle cx="186.1" cy="448.1" r="3.1"/>
<circle cx="143.4" cy="464.9" r="3.1"/>
<circle cx="315.4" cy="406.9" r="3.1"/>
<circle cx="135.1" cy="483.1" r="3.1"/>
<circle cx="181.3" cy="454.5" r="3.1"/>
<circle cx="280.2" cy="422.2" r="3.1"/>
<circle cx="196.6" cy="449.7" r="3.1"/>
<circle cx="144.1" cy="480.2" r="3.1"/>
<circle cx="108.8" cy="491.6" r="3.1"/>
<circle cx="111.7" cy="491.7" r="3.1"/>
<circle cx="499.4" cy="413.4" r="3.1"/>
<circle cx="229.0" cy="463.6" r="3.1"/>
<circle cx="304.6" cy="419.0" r="3.1"/>
<circle cx="227.1" cy="464.2" r="3.1"/>
<circle cx="189.4" cy="467.8" r="3.1"/>
<circle cx="154.4" cy="452.4" r="3.1"/>
<circle cx="275.2" cy="409.4" r="3.1"/>
<circle cx="247.4" cy="463.3" r="3.1"/>
<circle cx="159.3" cy="470.1" r="3.1"/>
<circle cx="214.9" cy="427.2" r="3.1"/>
<circle cx="345.0" cy="396.2" r="3.1"/>
<circle cx="199.0" cy="458.6" r="3.1"/>
<circle cx="359.7" cy="385.3" r="3.1"/>
<circle cx="286.8" cy="423.3" r="3.1"/>
<circle cx="171.2" cy="459.7" r="3.1"/>
<circle cx="181.0" cy="460.0" r="3.1"/>
<circle cx="387.0" cy="416.9" r="3.1"/>
<circle cx="115.0" cy="490.1" r="3.1"/>
<circle cx="246.5" cy="441.7" r="3.1"/>
<circle cx="184.0" cy="451.7" r="3.1"/>
<circle cx="164.7" cy="462.1" r="3.1"/>
<circle cx="268.6" cy="427.6" r="3.1"/>
<circle cx="323.0" cy="430.3" r="3.1"/>
<circle cx="303.7" cy="455.6" r="3.1"/>
<circle cx="158.3" cy="480.9" r="3.1"/>
<circle cx="383.1" cy="410.7" r="3.1"/>
<circle cx="282.3" cy="448.0" r="3.1"/>
<circle cx="197.5" cy="436.8" r="3.1"/>
<circle cx="470.9" cy="364.2" r="3.1"/>
<circle cx="263.5" cy="428.4" r="3.1"/>
<circle cx="200.4" cy="446.1" r="3.1"/>
<circle cx="155.4" cy="473.7" r="3.1"/>
<circle cx="499.4" cy="338.0" r="3.1"/>
<circle cx="201.8" cy="471.9" r="3.1"/>
<circle cx="321.0" cy="423.5" r="3.1"/>
<circle cx="277.0" cy="428.7" r="3.1"/>
<circle cx="192.1" cy="471.6" r="3.1"/>
</g>
<path d="M64.50 309.5V523.5M62.5 522.50H534.5M151.50 309.5V523.5M62.5 482.50H534.5M238.50 309.5V523.5M62.5 443.50H534.5M325.50 309.5V523.5M62.5 404.50H534.5M412.50 309.5V523.5M62.5 364.50H534.5M499.50 309.5V523.5M62.5 325.50H534.5" stroke="#b0b0b0" stroke-opacity="0.3" stroke-width="1.11" fill="none"/>
<path d="M83.79 513.34L512.86 319.13" stroke="#000" stroke-opacity="0.75" stroke-width="2.78" stroke-dasharray="10.28 4.44" fill="none"/>
</g>
<rect x="82.20" y="316.40" width="122.92" height="49.90" rx="3.75" fill="#add8e6" fill-opacity="0.8" stroke="#000" stroke-opacity="0.8" stroke-width="1.39"/>
<text x="86.50" y="330.90" font-size="12.88" textLength="115.11" lengthAdjust="spacingAndGlyphs">n_estimators = 50</text>
<text x="86.50" y="345.35" font-size="12.88" textLength="89.49" lengthAdjust="spacingAndGlyphs">RMSE = 0.587</text>
<text x="86.50" y="359.80" font-size="12.88" textLength="67.91" lengthAdjust="spacingAndGlyphs">R² = 0.744</text>
<rect x="458.25" y="494.25" width="70" height="23" rx="2.5" fill="#fff" fill-opacity="0.8" stroke="#ccc" stroke-opacity="0.8" stroke-width="1.39"/>
<circle cx="476.55" cy="506.35" r="3.1" fill="#f00" fill-opacity="0.4" stroke="#000" stroke-opacity="0.4" stroke-width="0.69"/>
<text x="498.25" y="508.75" font-size="12.88" textLength="24.67" lengthAdjust="spacingAndGlyphs">Test</text>
<rect x="62.5" y="309.5" width="472.0" height="214.0" fill="none" stroke="#000" stroke-width="1.11"/>
<text x="59.77" y="543.70" font-size="14.31" textLength="8.87" lengthAdjust="spacingAndGlyphs">0</text>
<text x="43.80" y="527.70" font-size="14.31" textLength="8.87" lengthAdjust="spacingAndGlyphs">0</text>
<text x="146.77" y="543.70" font-size="14.31" textLength="8.87" lengthAdjust="spacingAndGlyphs">1</text>
<text x="43.80" y="487.70" font-size="14.31" textLength="8.87" lengthAdjust="spacingAndGlyphs">1</text>
<text x="233.77" y="543.70" font-size="14.31" textLength="8.87" lengthAdjust="spacingAndGlyphs">2</text>
<text x="43.80" y="448.70" font-size="14.31" textLength="8.87" lengthAdjust="spacingAndGlyphs">2</text>
<text x="320.77" y="543.70" font-size="14.31" textLength="8.87" lengthAdjust="spacingAndGlyphs">3</text>
<text x="43.80" y="409.70" font-size="14.31" textLength="8.87" lengthAdjust="spacingAndGlyphs">3</text>
<text x="407.77" y="543.70" font-size="14.31" textLength="8.87" lengthAdjust="spacingAndGlyphs">4</text>
<text x="43.80" y="369.70" font-size="14.31" textLength="8.87" lengthAdjust="spacingAndGlyphs">4</text>
<text x="494.77" y="543.70" font-size="14.31" textLength="8.87" lengthAdjust="spacingAndGlyphs">5</text>
<text x="43.80" y="330.70" font-size="14.31" textLength="8.87" lengthAdjust="spacingAndGlyphs">5</text>
<path d="M64.50 523.5v4.86M62.5 522.50h-4.86M151.50 523.5v4.86M62.5 482.50h-4.86M238.50 523.5v4.86M62.5 443.50h-4.86M325.50 523.5v4.86M62.5 404.50h-4.86M412.50 523.5v4.86M62.5 364.50h-4.86M499.50 523.5v4.86M62.5 325.50h-4.86" stroke="#000" stroke-width="1.11" fill="none"/>
<text x="263.01" y="563.40" font-size="14.31" textLength="69.37" lengthAdjust="spacingAndGlyphs">Valor Real</text>
<text x="0.31" y="418.75" font-size="14.31" textLength="71.17" lengthAdjust="spacingAndGlyphs" transform="rotate(-90 35.90 418.75)">Predicción</text>
<text x="170.03" y="301.17" font-size="15.74" font-weight="bold" textLength="256.12" lengthAdjust="spacingAndGlyphs">(c) Después de 50 iteraciones</text>
<clipPath id="cd"><rect x="676.5" y="309.5" width="471.0" height="214.0"/></clipPath>
<g clip-path="url(#cd)">
<g fill="#f00" fill-opacity="0.4" stroke="#000" stroke-opacity="0.4" stroke-width="0.69">
<circle cx="698.1" cy="497.6" r="3.1"/>
<circle cx="760.2" cy="463.3" r="3.1"/>
<circle cx="775.8" cy="486.1" r="3.1"/>
<circle cx="910.5" cy="469.9" r="3.1"/>
<circle cx="1098.2" cy="319.7" r="3.1"/>
<circle cx="746.3" cy="488.5" r="3.1"/>
<circle cx="733.2" cy="494.5" r="3.1"/>
<circle cx="754.4" cy="482.3" r="3.1"/>
<circle cx="785.7" cy="470.4" r="3.1"/>
<circle cx="752.0" cy="503.3" r="3.1"/>
<circle cx="834.6" cy="445.5" r="3.1"/>
<circle cx="842.0" cy="432.5" r="3.1"/>
<circle cx="738.6" cy="490.9" r="3.1"/>
<circle cx="828.6" cy="483.6" r="3.1"/>
<circle cx="709.4" cy="498.9" r="3.1"/>
<circle cx="806.9" cy="471.4" r="3.1"/>
<circle cx="1098.2" cy="387.0" r="3.1"/>
<circle cx="910.5" cy="380.2" r="3.1"/>
<circle cx="836.7" cy="470.3" r="3.1"/>
<circle cx="778.9" cy="495.0" r="3.1"/>
<circle cx="758.9" cy="471.5" r="3.1"/>
<circle cx="802.1" cy="487.5" r="3.1"/>
<circle cx="770.4" cy="464.3" r="3.1"/>
<circle cx="959.4" cy="407.8" r="3.1"/>
<circle cx="760.0" cy="486.5" r="3.1"/>
<circle cx="769.8" cy="494.7" r="3.1"/>
<circle cx="914.1" cy="427.7" r="3.1"/>
<circle cx="768.8" cy="479.8" r="3.1"/>
<circle cx="768.8" cy="471.4" r="3.1"/>
<circle cx="731.7" cy="480.3" r="3.1"/>
<circle cx="807.4" cy="470.8" r="3.1"/>
<circle cx="768.2" cy="466.2" r="3.1"/>
<circle cx="971.6" cy="386.0" r="3.1"/>
<circle cx="771.7" cy="480.8" r="3.1"/>
<circle cx="898.7" cy="436.2" r="3.1"/>
<circle cx="811.7" cy="447.6" r="3.1"/>
<circle cx="807.6" cy="489.6" r="3.1"/>
<circle cx="1098.2" cy="379.9" r="3.1"/>
<circle cx="982.3" cy="430.4" r="3.1"/>
<circle cx="733.3" cy="495.5" r="3.1"/>
<circle cx="765.1" cy="476.9" r="3.1"/>
<circle cx="755.2" cy="480.1" r="3.1"/>
<circle cx="991.0" cy="408.9" r="3.1"/>
<circle cx="826.0" cy="455.7" r="3.1"/>
<circle cx="788.0" cy="450.9" r="3.1"/>
<circle cx="926.8" cy="459.2" r="3.1"/>
<circle cx="783.5" cy="448.6" r="3.1"/>
<circle cx="861.8" cy="422.6" r="3.1"/>
<circle cx="762.4" cy="499.0" r="3.1"/>
<circle cx="721.9" cy="491.1" r="3.1"/>
<circle cx="866.5" cy="442.6" r="3.1"/>
<circle cx="781.2" cy="482.4" r="3.1"/>
<circle cx="782.2" cy="468.8" r="3.1"/>
<circle cx="770.0" cy="468.9" r="3.1"/>
<circle cx="766.1" cy="472.0" r="3.1"/>
<circle cx="829.7" cy="473.9" r="3.1"/>
<circle cx="780.6" cy="480.1" r="3.1"/>
<circle cx="798.7" cy="472.0" r="3.1"/>
<circle cx="758.2" cy="475.7" r="3.1"/>
<circle cx="815.5" cy="444.5" r="3.1"/>
<circle cx="833.7" cy="452.0" r="3.1"/>
<circle cx="797.7" cy="451.4" r="3.1"/>
<circle cx="794.3" cy="462.6" r="3.1"/>
<circle cx="1054.1" cy="369.8" r="3.1"/>
<circle cx="727.0" cy="499.6" r="3.1"/>
<circle cx="779.0" cy="451.0" r="3.1"/>
<circle cx="818.5" cy="439.5" r="3.1"/>
<circle cx="837.2" cy="360.7" r="3.1"/>
<circle cx="725.8" cy="504.5" r="3.1"/>
<circle cx="764.5" cy="471.4" r="3.1"/>
<circle cx="728.3" cy="487.4" r="3.1"/>
<circle cx="714.8" cy="492.5" r="3.1"/>
<circle cx="778.3" cy="483.6" r="3.1"/>
<circle cx="795.0" cy="472.7" r="3.1"/>
<circle cx="945.6" cy="369.5" r="3.1"/>
<circle cx="717.7" cy="500.7" r="3.1"/>
<circle cx="874.6" cy="449.6" r="3.1"/>
<circle cx="805.2" cy="455.1" r="3.1"/>
<circle cx="834.7" cy="425.7" r="3.1"/>
<circle cx="747.2" cy="485.9" r="3.1"/>
<circle cx="911.7" cy="414.2" r="3.1"/>
<circle cx="789.6" cy="457.9" r="3.1"/>
<circle cx="795.6" cy="489.6" r="3.1"/>
<circle cx="828.6" cy="461.1" r="3.1"/>
<circle cx="767.6" cy="482.4" r="3.1"/>
<circle cx="800.8" cy="466.2" r="3.1"/>
<circle cx="744.7" cy="494.1" r="3.1"/>
<circle cx="869.0" cy="437.5" r="3.1"/>
<circle cx="737.6" cy="472.9" r="3.1"/>
<circle cx="770.6" cy="471.9" r="3.1"/>
<circle cx="760.9" cy="464.7" r="3.1"/>
<circle cx="744.1" cy="479.0" r="3.1"/>
<circle cx="825.0" cy="448.8" r="3.1"/>
<circle cx="757.4" cy="480.5" r="3.1"/>
<circle cx="889.2" cy="408.7" r="3.1"/>
<circle cx="770.7" cy="479.8" r="3.1"/>
<circle cx="1098.2" cy="329.6" r="3.1"/>
<circle cx="828.4" cy="474.2" r="3.1"/>
<circle cx="735.1" cy="484.8" r="3.1"/>
<circle cx="842.9" cy="458.1" r="3.1"/>
<circle cx="759.3" cy="472.7" r="3.1"/>
<circle cx="789.3" cy="459.3" r="3.1"/>
<circle cx="759.1" cy="477.9" r="3.1"/>
<circle cx="771.4" cy="474.8" r="3.1"/>
<circle cx="841.1" cy="456.0" r="3.1"/>
<circle cx="815.6" cy="462.5" r="3.1"/>
<circle cx="720.9" cy="499.0" r="3.1"/>
<circle cx="1004.5" cy="380.2" r="3.1"/>
<circle cx="765.4" cy="472.5" r="3.1"/>
<circle cx="811.4" cy="460.2" r="3.1"/>
<circle cx="743.4" cy="478.7" r="3.1"/>
<circle cx="790.4" cy="452.6" r="3.1"/>
<circle cx="902.4" cy="476.9" r="3.1"/>
<circle cx="764.2" cy="486.9" r="3.1"/>
<circle cx="932.8" cy="407.2" r="3.1"/>
<circle cx="841.3" cy="435.1" r="3.1"/>
<circle cx="846.5" cy="445.5" r="3.1"/>
<circle cx="990.5" cy="384.1" r="3.1"/>
<circle cx="816.5" cy="441.3" r="3.1"/>
<circle cx="745.6" cy="477.5" r="3.1"/>
<circle cx="848.6" cy="455.5" r="3.1"/>
<circle cx="846.6" cy="451.0" r="3.1"/>
<circle cx="910.8" cy="409.5" r="3.1"/>
<circle cx="743.0" cy="485.1" r="3.1"/>
<circle cx="760.8" cy="474.8" r="3.1"/>
<circle cx="1030.3" cy="432.2" r="3.1"/>
<circle cx="827.9" cy="436.5" r="3.1"/>
<circle cx="758.5" cy="480.2" r="3.1"/>
<circle cx="798.4" cy="472.0" r="3.1"/>
<circle cx="791.9" cy="470.7" r="3.1"/>
<circle cx="743.8" cy="493.3" r="3.1"/>
<circle cx="835.5" cy="427.2" r="3.1"/>
<circle cx="727.8" cy="499.2" r="3.1"/>
<circle cx="729.4" cy="489.7" r="3.1"/>
<circle cx="767.3" cy="483.2" r="3.1"/>
<circle cx="787.7" cy="478.3" r="3.1"/>
<circle cx="828.0" cy="453.7" r="3.1"/>
<circle cx="992.3" cy="380.5" r="3.1"/>
<circle cx="762.8" cy="488.2" r="3.1"/>
<circle cx="747.8" cy="502.0" r="3.1"/>
<circle cx="744.6" cy="482.6" r="3.1"/>
<circle cx="732.2" cy="501.0" r="3.1"/>
<circle cx="749.0" cy="483.2" r="3.1"/>
<circle cx="761.1" cy="463.9" r="3.1"/>
<circle cx="1065.5" cy="362.4" r="3.1"/>
<circle cx="958.2" cy="397.2" r="3.1"/>
<circle cx="746.0" cy="504.9" r="3.1"/>
<circle cx="901.4" cy="428.1" r="3.1"/>
<circle cx="713.4" cy="493.2" r="3.1"/>
<circle cx="856.1" cy="438.5" r="3.1"/>
<circle cx="776.4" cy="470.5" r="3.1"/>
<circle cx="785.3" cy="478.4" r="3.1"/>
<circle cx="762.0" cy="464.7" r="3.1"/>
<circle cx="827.7" cy="463.9" r="3.1"/>
<circle cx="1025.7" cy="395.7" r="3.1"/>
<circle cx="924.6" cy="438.5" r="3.1"/>
<circle cx="918.0" cy="411.1" r="3.1"/>
<circle cx="816.8" cy="447.4" r="3.1"/>
<circle cx="1098.2" cy="440.0" r="3.1"/>
<circle cx="929.3" cy="425.9" r="3.1"/>
<circle cx="844.6" cy="445.8" r="3.1"/>
<circle cx="971.8" cy="352.9" r="3.1"/>
<circle cx="735.0" cy="503.8" r="3.1"/>
<circle cx="760.7" cy="482.3" r="3.1"/>
<circle cx="993.4" cy="382.3" r="3.1"/>
<circle cx="754.2" cy="479.9" r="3.1"/>
<circle cx="734.2" cy="493.7" r="3.1"/>
<circle cx="791.7" cy="463.7" r="3.1"/>
<circle cx="875.0" cy="440.2" r="3.1"/>
<circle cx="836.3" cy="461.6" r="3.1"/>
<circle cx="821.4" cy="424.5" r="3.1"/>
<circle cx="885.6" cy="406.5" r="3.1"/>
<circle cx="926.6" cy="400.4" r="3.1"/>
<circle cx="721.3" cy="498.2" r="3.1"/>
<circle cx="981.1" cy="400.9" r="3.1"/>
<circle cx="838.2" cy="444.1" r="3.1"/>
<circle cx="960.8" cy="391.9" r="3.1"/>
<circle cx="812.2" cy="470.6" r="3.1"/>
<circle cx="780.4" cy="456.0" r="3.1"/>
<circle cx="744.5" cy="492.1" r="3.1"/>
<circle cx="883.5" cy="419.4" r="3.1"/>
<circle cx="741.6" cy="484.1" r="3.1"/>
<circle cx="926.8" cy="437.9" r="3.1"/>
<circle cx="753.8" cy="476.4" r="3.1"/>
<circle cx="731.6" cy="482.8" r="3.1"/>
<circle cx="859.6" cy="377.4" r="3.1"/>
<circle cx="817.8" cy="445.9" r="3.1"/>
<circle cx="754.5" cy="485.0" r="3.1"/>
<circle cx="725.0" cy="495.3" r="3.1"/>
<circle cx="771.3" cy="459.5" r="3.1"/>
<circle cx="951.7" cy="372.2" r="3.1"/>
<circle cx="788.6" cy="460.7" r="3.1"/>
<circle cx="897.5" cy="434.2" r="3.1"/>
<circle cx="1098.2" cy="326.9" r="3.1"/>
<circle cx="916.7" cy="407.9" r="3.1"/>
<circle cx="1098.2" cy="333.3" r="3.1"/>
<circle cx="811.4" cy="466.3" r="3.1"/>
<circle cx="1075.0" cy="387.0" r="3.1"/>
<circle cx="757.2" cy="491.6" r="3.1"/>
<circle cx="756.5" cy="472.0" r="3.1"/>
<circle cx="866.0" cy="426.5" r="3.1"/>
<circle cx="1098.2" cy="379.2" r="3.1"/>
<circle cx="849.0" cy="466.4" r="3.1"/>
<circle cx="830.4" cy="451.9" r="3.1"/>
<circle cx="950.4" cy="424.5" r="3.1"/>
<circle cx="769.9" cy="471.2" r="3.1"/>
<circle cx="964.5" cy="420.4" r="3.1"/>
<circle cx="729.3" cy="484.0" r="3.1"/>
<circle cx="760.2" cy="487.4" r="3.1"/>
<circle cx="916.4" cy="455.2" r="3.1"/>
<circle cx="827.2" cy="467.5" r="3.1"/>
<circle cx="928.2" cy="423.4" r="3.1"/>
<circle cx="789.8" cy="459.0" r="3.1"/>
<circle cx="724.0" cy="503.4" r="3.1"/>
<circle cx="832.8" cy="449.8" r="3.1"/>
<circle cx="850.9" cy="425.3" r="3.1"/>
<circle cx="741.8" cy="478.7" r="3.1"/>
<circle cx="840.9" cy="447.7" r="3.1"/>
<circle cx="887.4" cy="407.7" r="3.1"/>
<circle cx="1098.2" cy="353.6" r="3.1"/>
<circle cx="855.7" cy="433.1" r="3.1"/>
<circle cx="831.3" cy="452.2" r="3.1"/>
<circle cx="851.6" cy="440.8" r="3.1"/>
<circle cx="792.4" cy="438.1" r="3.1"/>
<circle cx="823.3" cy="442.6" r="3.1"/>
<circle cx="802.4" cy="448.6" r="3.1"/>
<circle cx="825.9" cy="454.3" r="3.1"/>
<circle cx="849.5" cy="456.5" r="3.1"/>
<circle cx="853.1" cy="445.5" r="3.1"/>
<circle cx="933.3" cy="408.5" r="3.1"/>
<circle cx="751.6" cy="489.9" r="3.1"/>
<circle cx="762.1" cy="467.9" r="3.1"/>
<circle cx="778.4" cy="494.5" r="3.1"/>
<circle cx="1033.1" cy="343.9" r="3.1"/>
<circle cx="850.7" cy="442.9" r="3.1"/>
<circle cx="743.1" cy="468.3" r="3.1"/>
<circle cx="775.7" cy="449.0" r="3.1"/>
<circle cx="868.3" cy="404.8" r="3.1"/>
<circle cx="758.0" cy="480.2" r="3.1"/>
<circle cx="888.6" cy="417.4" r="3.1"/>
<circle cx="1041.1" cy="406.5" r="3.1"/>
<circle cx="1023.6" cy="384.1" r="3.1"/>
<circle cx="812.0" cy="457.1" r="3.1"/>
<circle cx="782.1" cy="493.0" r="3.1"/>
<circle cx="753.7" cy="490.7" r="3.1"/>
<circle cx="747.0" cy="472.6" r="3.1"/>
<circle cx="729.7" cy="502.0" r="3.1"/>
<circle cx="922.8" cy="399.3" r="3.1"/>
<circle cx="781.7" cy="469.5" r="3.1"/>
<circle cx="765.5" cy="478.7" r="3.1"/>
<circle cx="962.5" cy="435.7" r="3.1"/>
<circle cx="745.5" cy="481.8" r="3.1"/>
<circle cx="745.0" cy="479.9" r="3.1"/>
<circle cx="767.9" cy="446.8" r="3.1"/>
<circle cx="926.4" cy="420.6" r="3.1"/>
<circle cx="742.2" cy="490.7" r="3.1"/>
<circle cx="758.1" cy="433.1" r="3.1"/>
<circle cx="1017.5" cy="387.8" r="3.1"/>
<circle cx="959.5" cy="418.1" r="3.1"/>
<circle cx="865.6" cy="421.4" r="3.1"/>
<circle cx="746.1" cy="483.5" r="3.1"/>
<circle cx="873.1" cy="428.4" r="3.1"/>
<circle cx="1098.2" cy="324.7" r="3.1"/>
<circle cx="864.7" cy="431.1" r="3.1"/>
<circle cx="823.0" cy="438.2" r="3.1"/>
<circle cx="878.5" cy="442.4" r="3.1"/>
<circle cx="982.6" cy="391.9" r="3.1"/>
<circle cx="797.5" cy="463.6" r="3.1"/>
<circle cx="870.4" cy="435.9" r="3.1"/>
<circle cx="842.9" cy="496.9" r="3.1"/>
<circle cx="840.0" cy="448.8" r="3.1"/>
<circle cx="807.8" cy="473.3" r="3.1"/>
<circle cx="789.6" cy="468.1" r="3.1"/>
<circle cx="714.8" cy="498.4" r="3.1"/>
<circle cx="917.6" cy="409.5" r="3.1"/>
<circle cx="818.8" cy="479.9" r="3.1"/>
<circle cx="845.6" cy="446.7" r="3.1"/>
<circle cx="769.6" cy="465.6" r="3.1"/>
<circle cx="820.7" cy="467.0" r="3.1"/>
<circle cx="724.2" cy="493.0" r="3.1"/>
<circle cx="811.1" cy="432.3" r="3.1"/>
<circle cx="819.4" cy="451.3" r="3.1"/>
<circle cx="772.8" cy="467.2" r="3.1"/>
<circle cx="769.4" cy="479.5" r="3.1"/>
<circle cx="843.0" cy="466.2" r="3.1"/>
<circle cx="737.5" cy="495.9" r="3.1"/>
<circle cx="742.8" cy="481.9" r="3.1"/>
<circle cx="755.6" cy="459.5" r="3.1"/>
<circle cx="782.5" cy="485.1" r="3.1"/>
<circle cx="1098.2" cy="327.5" r="3.1"/>
<circle cx="939.1" cy="418.0" r="3.1"/>
<circle cx="801.0" cy="479.5" r="3.1"/>
<circle cx="864.5" cy="436.8" r="3.1"/>
<circle cx="795.4" cy="453.6" r="3.1"/>
<circle cx="899.6" cy="421.8" r="3.1"/>
<circle cx="867.5" cy="441.6" r="3.1"/>
<circle cx="716.6" cy="503.7" r="3.1"/>
<circle cx="836.8" cy="435.3" r="3.1"/>
<circle cx="767.4" cy="484.5" r="3.1"/>
<circle cx="1012.5" cy="391.5" r="3.1"/>
<circle cx="843.5" cy="452.4" r="3.1"/>
<circle cx="986.9" cy="419.7" r="3.1"/>
<circle cx="917.3" cy="431.0" r="3.1"/>
<circle cx="796.5" cy="420.9" r="3.1"/>
<circle cx="978.6" cy="438.5" r="3.1"/>
<circle cx="1098.2" cy="370.7" r="3.1"/>
<circle cx="762.7" cy="475.8" r="3.1"/>
<circle cx="799.4" cy="452.5" r="3.1"/>
<circle cx="734.0" cy="492.5" r="3.1"/>
<circle cx="814.2" cy="472.6" r="3.1"/>
<circle cx="804.2" cy="463.9" r="3.1"/>
<circle cx="811.1" cy="441.0" r="3.1"/>
<circle cx="744.9" cy="492.4" r="3.1"/>
<circle cx="816.7" cy="440.1" r="3.1"/>
<circle cx="788.8" cy="472.1" r="3.1"/>
<circle cx="799.0" cy="463.0" r="3.1"/>
<circle cx="895.8" cy="442.6" r="3.1"/>
<circle cx="815.2" cy="450.6" r="3.1"/>
<circle cx="721.5" cy="485.6" r="3.1"/>
<circle cx="794.1" cy="471.3" r="3.1"/>
<circle cx="977.2" cy="397.0" r="3.1"/>
<circle cx="773.2" cy="483.6" r="3.1"/>
<circle cx="749.0" cy="481.5" r="3.1"/>
<circle cx="715.3" cy="493.7" r="3.1"/>
<circle cx="829.5" cy="437.3" r="3.1"/>
<circle cx="760.5" cy="483.1" r="3.1"/>
<circle cx="779.9" cy="492.7" r="3.1"/>
<circle cx="901.4" cy="421.8" r="3.1"/>
<circle cx="971.9" cy="406.9" r="3.1"/>
<circle cx="763.3" cy="487.3" r="3.1"/>
<circle cx="756.6" cy="472.4" r="3.1"/>
<circle cx="772.2" cy="477.9" r="3.1"/>
<circle cx="1093.9" cy="362.1" r="3.1"/>
<circle cx="716.1" cy="496.2" r="3.1"/>
<circle cx="884.9" cy="420.7" r="3.1"/>
<circle cx="1057.2" cy="364.0" r="3.1"/>
<circle cx="783.0" cy="477.1" r="3.1"/>
<circle cx="755.0" cy="477.9" r="3.1"/>
<circle cx="936.9" cy="395.8" r="3.1"/>
<circle cx="749.6" cy="476.2" r="3.1"/>
<circle cx="878.1" cy="418.3" r="3.1"/>
<circle cx="1098.2" cy="354.2" r="3.1"/>
<circle cx="786.4" cy="475.7" r="3.1"/>
<circle cx="735.8" cy="491.2" r="3.1"/>
<circle cx="819.2" cy="457.4" r="3.1"/>
<circle cx="884.7" cy="440.4" r="3.1"/>
<circle cx="813.0" cy="456.0" r="3.1"/>
<circle cx="786.6" cy="436.1" r="3.1"/>
<circle cx="798.2" cy="468.7" r="3.1"/>
<circle cx="870.1" cy="438.8" r="3.1"/>
<circle cx="764.9" cy="467.5" r="3.1"/>
<circle cx="817.7" cy="476.8" r="3.1"/>
<circle cx="743.3" cy="495.1" r="3.1"/>
<circle cx="882.0" cy="449.4" r="3.1"/>
<circle cx="865.4" cy="434.5" r="3.1"/>
<circle cx="752.6" cy="486.4" r="3.1"/>
<circle cx="763.8" cy="481.7" r="3.1"/>
<circle cx="775.9" cy="487.8" r="3.1"/>
<circle cx="778.3" cy="469.3" r="3.1"/>
<circle cx="776.2" cy="454.7" r="3.1"/>
<circle cx="899.5" cy="427.4" r="3.1"/>
<circle cx="724.1" cy="498.2" r="3.1"/>
<circle cx="757.7" cy="481.1" r="3.1"/>
<circle cx="853.2" cy="443.3" r="3.1"/>
<circle cx="752.8" cy="473.7" r="3.1"/>
<circle cx="939.4" cy="383.0" r="3.1"/>
<circle cx="906.6" cy="441.6" r="3.1"/>
<circle cx="910.7" cy="415.7" r="3.1"/>
<circle cx="847.4" cy="410.2" r="3.1"/>
<circle cx="726.1" cy="489.0" r="3.1"/>
<circle cx="1098.2" cy="329.9" r="3.1"/>
<circle cx="743.1" cy="475.3" r="3.1"/>
<circle cx="724.1" cy="498.2" r="3.1"/>
<circle cx="818.4" cy="464.2" r="3.1"/>
<circle cx="1004.2" cy="401.8" r="3.1"/>
<circle cx="780.8" cy="481.2" r="3.1"/>
<circle cx="900.2" cy="422.6" r="3.1"/>
<circle cx="809.6" cy="454.5" r="3.1"/>
<circle cx="734.6" cy="486.0" r="3.1"/>
<circle cx="848.1" cy="437.2" r="3.1"/>
<circle cx="1098.2" cy="370.5" r="3.1"/>
<circle cx="865.2" cy="430.9" r="3.1"/>
<circle cx="857.7" cy="425.2" r="3.1"/>
<circle cx="835.9" cy="442.3" r="3.1"/>
<circle cx="737.4" cy="500.4" r="3.1"/>
<circle cx="795.6" cy="480.6" r="3.1"/>
<circle cx="759.8" cy="487.3" r="3.1"/>
<circle cx="833.6" cy="451.3" r="3.1"/>
<circle cx="818.4" cy="451.9" r="3.1"/>
<circle cx="727.6" cy="499.0" r="3.1"/>
<circle cx="804.3" cy="461.6" r="3.1"/>
<circle cx="886.5" cy="421.1" r="3.1"/>
<circle cx="783.6" cy="459.4" r="3.1"/>
<circle cx="844.9" cy="376.7" r="3.1"/>
<circle cx="783.0" cy="474.4" r="3.1"/>
<circle cx="732.1" cy="488.6" r="3.1"/>
<circle cx="742.2" cy="478.1" r="3.1"/>
<circle cx="719.9" cy="489.6" r="3.1"/>
<circle cx="725.0" cy="494.4" r="3.1"/>
<circle cx="864.3" cy="430.5" r="3.1"/>
<circle cx="757.6" cy="446.6" r="3.1"/>
<circle cx="949.7" cy="422.5" r="3.1"/>
<circle cx="896.5" cy="448.0" r="3.1"/>
<circle cx="882.8" cy="448.3" r="3.1"/>
<circle cx="857.5" cy="432.7" r="3.1"/>
<circle cx="1019.1" cy="376.0" r="3.1"/>
<circle cx="824.2" cy="458.6" r="3.1"/>
<circle cx="769.6" cy="463.2" r="3.1"/>
<circle cx="868.9" cy="429.3" r="3.1"/>
<circle cx="744.1" cy="487.9" r="3.1"/>
<circle cx="773.9" cy="479.5" r="3.1"/>
<circle cx="718.8" cy="496.2" r="3.1"/>
<circle cx="1098.2" cy="342.1" r="3.1"/>
<circle cx="772.8" cy="457.0" r="3.1"/>
<circle cx="943.8" cy="441.5" r="3.1"/>
<circle cx="978.2" cy="403.5" r="3.1"/>
<circle cx="815.3" cy="468.1" r="3.1"/>
<circle cx="888.5" cy="416.2" r="3.1"/>
<circle cx="776.1" cy="495.6" r="3.1"/>
<circle cx="795.4" cy="459.9" r="3.1"/>
<circle cx="991.6" cy="411.5" r="3.1"/>
<circle cx="1098.2" cy="328.4" r="3.1"/>
<circle cx="734.9" cy="484.7" r="3.1"/>
<circle cx="917.2" cy="408.3" r="3.1"/>
<circle cx="909.0" cy="437.8" r="3.1"/>
<circle cx="798.8" cy="444.1" r="3.1"/>
<circle cx="722.3" cy="499.7" r="3.1"/>
<circle cx="805.5" cy="456.6" r="3.1"/>
<circle cx="852.2" cy="432.3" r="3.1"/>
<circle cx="747.0" cy="487.3" r="3.1"/>
<circle cx="828.6" cy="456.1" r="3.1"/>
<circle cx="993.2" cy="397.2" r="3.1"/>
<circle cx="747.1" cy="502.5" r="3.1"/>
<circle cx="862.4" cy="419.4" r="3.1"/>
<circle cx="791.8" cy="471.1" r="3.1"/>
<circle cx="896.7" cy="436.0" r="3.1"/>
<circle cx="840.9" cy="378.8" r="3.1"/>
<circle cx="795.3" cy="458.1" r="3.1"/>
<circle cx="813.4" cy="447.4" r="3.1"/>
<circle cx="730.9" cy="485.7" r="3.1"/>
<circle cx="888.4" cy="403.8" r="3.1"/>
<circle cx="779.1" cy="485.4" r="3.1"/>
<circle cx="1098.2" cy="365.2" r="3.1"/>
<circle cx="963.8" cy="396.7" r="3.1"/>
<circle cx="743.1" cy="498.0" r="3.1"/>
<circle cx="1098.2" cy="355.2" r="3.1"/>
<circle cx="787.2" cy="448.4" r="3.1"/>
<circle cx="871.1" cy="445.7" r="3.1"/>
<circle cx="1005.7" cy="407.9" r="3.1"/>
<circle cx="759.4" cy="486.3" r="3.1"/>
<circle cx="768.3" cy="503.9" r="3.1"/>
<circle cx="983.8" cy="414.8" r="3.1"/>
<circle cx="828.5" cy="463.5" r="3.1"/>
<circle cx="792.1" cy="463.1" r="3.1"/>
<circle cx="815.1" cy="439.5" r="3.1"/>
<circle cx="861.2" cy="439.8" r="3.1"/>
<circle cx="770.7" cy="464.0" r="3.1"/>
<circle cx="708.1" cy="493.5" r="3.1"/>
<circle cx="769.0" cy="483.0" r="3.1"/>
<circle cx="973.3" cy="415.3" r="3.1"/>
<circle cx="784.9" cy="479.3" r="3.1"/>
<circle cx="765.0" cy="464.1" r="3.1"/>
<circle cx="788.5" cy="486.9" r="3.1"/>
<circle cx="820.9" cy="472.6" r="3.1"/>
<circle cx="1098.2" cy="383.4" r="3.1"/>
<circle cx="847.3" cy="428.3" r="3.1"/>
<circle cx="734.5" cy="477.7" r="3.1"/>
<circle cx="956.8" cy="427.6" r="3.1"/>
<circle cx="849.6" cy="442.7" r="3.1"/>
<circle cx="817.9" cy="453.8" r="3.1"/>
<circle cx="730.2" cy="502.0" r="3.1"/>
<circle cx="760.6" cy="480.5" r="3.1"/>
<circle cx="850.5" cy="438.7" r="3.1"/>
<circle cx="765.3" cy="479.2" r="3.1"/>
<circle cx="917.4" cy="428.6" r="3.1"/>
<circle cx="758.5" cy="460.4" r="3.1"/>
<circle cx="886.6" cy="431.8" r="3.1"/>
<circle cx="874.1" cy="444.7" r="3.1"/>
<circle cx="775.9" cy="469.9" r="3.1"/>
<circle cx="823.4" cy="440.4" r="3.1"/>
<circle cx="1018.2" cy="411.1" r="3.1"/>
<circle cx="766.2" cy="489.5" r="3.1"/>
<circle cx="912.2" cy="406.8" r="3.1"/>
<circle cx="834.8" cy="449.7" r="3.1"/>
<circle cx="761.8" cy="462.0" r="3.1"/>
<circle cx="811.7" cy="433.7" r="3.1"/>
<circle cx="756.0" cy="485.4" r="3.1"/>
<circle cx="822.5" cy="434.5" r="3.1"/>
<circle cx="835.1" cy="448.5" r="3.1"/>
<circle cx="914.5" cy="417.5" r="3.1"/>
<circle cx="868.0" cy="422.6" r="3.1"/>
<circle cx="734.8" cy="490.7" r="3.1"/>
<circle cx="882.6" cy="418.3" r="3.1"/>
<circle cx="773.0" cy="469.9" r="3.1"/>
<circle cx="765.8" cy="497.5" r="3.1"/>
<circle cx="986.7" cy="423.9" r="3.1"/>
<circle cx="1019.2" cy="378.3" r="3.1"/>
<circle cx="775.2" cy="468.2" r="3.1"/>
<circle cx="756.9" cy="490.6" r="3.1"/>
<circle cx="811.2" cy="426.6" r="3.1"/>
<circle cx="785.9" cy="451.0" r="3.1"/>
<circle cx="1098.2" cy="332.4" r="3.1"/>
<circle cx="766.6" cy="470.3" r="3.1"/>
<circle cx="953.9" cy="402.6" r="3.1"/>
<circle cx="807.9" cy="462.8" r="3.1"/>
<circle cx="843.4" cy="457.7" r="3.1"/>
<circle cx="1055.4" cy="363.2" r="3.1"/>
<circle cx="815.0" cy="458.6" r="3.1"/>
<circle cx="883.8" cy="432.9" r="3.1"/>
<circle cx="919.4" cy="386.1" r="3.1"/>
<circle cx="928.5" cy="416.3" r="3.1"/>
<circle cx="809.4" cy="472.4" r="3.1"/>
<circle cx="882.7" cy="431.0" r="3.1"/>
<circle cx="748.3" cy="478.4" r="3.1"/>
<circle cx="727.6" cy="483.5" r="3.1"/>
<circle cx="976.9" cy="394.0" r="3.1"/>
<circle cx="732.4" cy="501.8" r="3.1"/>
<circle cx="730.1" cy="500.8" r="3.1"/>
<circle cx="903.1" cy="432.8" r="3.1"/>
<circle cx="751.0" cy="490.6" r="3.1"/>
<circle cx="732.1" cy="487.4" r="3.1"/>
<circle cx="778.1" cy="481.6" r="3.1"/>
<circle cx="859.1" cy="421.3" r="3.1"/>
<circle cx="742.1" cy="476.3" r="3.1"/>
<circle cx="949.1" cy="419.9" r="3.1"/>
<circle cx="1098.2" cy="437.4" r="3.1"/>
<circle cx="850.9" cy="429.3" r="3.1"/>
<circle cx="879.5" cy="423.4" r="3.1"/>
<circle cx="752.9" cy="485.4" r="3.1"/>
<circle cx="847.1" cy="448.7" r="3.1"/>
<circle cx="1098.2" cy="319.5" r="3.1"/>
<circle cx="1017.6" cy="405.0" r="3.1"/>
<circle cx="782.4" cy="474.7" r="3.1"/>
<circle cx="866.4" cy="422.7" r="3.1"/>
<circle cx="751.6" cy="488.2" r="3.1"/>
<circle cx="841.3" cy="424.9" r="3.1"/>
<circle cx="841.5" cy="463.3" r="3.1"/>
<circle cx="758.0" cy="465.4" r="3.1"/>
<circle cx="779.0" cy="462.4" r="3.1"/>
<circle cx="950.3" cy="405.5" r="3.1"/>
<circle cx="761.7" cy="484.1" r="3.1"/>
<circle cx="771.1" cy="487.7" r="3.1"/>
<circle cx="806.3" cy="378.3" r="3.1"/>
<circle cx="757.5" cy="482.9" r="3.1"/>
<circle cx="810.8" cy="472.3" r="3.1"/>
<circle cx="784.0" cy="464.1" r="3.1"/>
<circle cx="799.7" cy="477.9" r="3.1"/>
<circle cx="841.5" cy="439.5" r="3.1"/>
<circle cx="948.8" cy="406.1" r="3.1"/>
<circle cx="785.2" cy="444.3" r="3.1"/>
<circle cx="817.1" cy="487.9" r="3.1"/>
<circle cx="737.9" cy="484.1" r="3.1"/>
<circle cx="918.5" cy="425.1" r="3.1"/>
<circle cx="788.2" cy="465.4" r="3.1"/>
<circle cx="1098.2" cy="354.7" r="3.1"/>
<circle cx="886.9" cy="426.2" r="3.1"/>
<circle cx="892.0" cy="428.3" r="3.1"/>
<circle cx="859.2" cy="434.0" r="3.1"/>
<circle cx="740.1" cy="493.7" r="3.1"/>
<circle cx="926.4" cy="438.2" r="3.1"/>
<circle cx="808.3" cy="475.6" r="3.1"/>
<circle cx="863.7" cy="429.1" r="3.1"/>
<circle cx="890.5" cy="414.6" r="3.1"/>
<circle cx="724.5" cy="491.9" r="3.1"/>
<circle cx="1009.6" cy="413.2" r="3.1"/>
<circle cx="703.2" cy="490.4" r="3.1"/>
<circle cx="923.8" cy="430.1" r="3.1"/>
<circle cx="820.1" cy="465.5" r="3.1"/>
<circle cx="788.6" cy="405.5" r="3.1"/>
<circle cx="907.4" cy="414.9" r="3.1"/>
<circle cx="850.1" cy="472.8" r="3.1"/>
<circle cx="918.1" cy="440.9" r="3.1"/>
<circle cx="852.1" cy="413.6" r="3.1"/>
<circle cx="850.0" cy="454.3" r="3.1"/>
<circle cx="811.4" cy="473.4" r="3.1"/>
<circle cx="862.9" cy="453.4" r="3.1"/>
<circle cx="845.9" cy="469.0" r="3.1"/>
<circle cx="792.8" cy="464.1" r="3.1"/>
<circle cx="894.9" cy="446.8" r="3.1"/>
<circle cx="809.6" cy="451.2" r="3.1"/>
<circle cx="925.4" cy="473.4" r="3.1"/>
<circle cx="859.1" cy="426.4" r="3.1"/>
<circle cx="1013.2" cy="405.2" r="3.1"/>
<circle cx="974.4" cy="370.4" r="3.1"/>
<circle cx="1093.1" cy="409.1" r="3.1"/>
<circle cx="786.4" cy="464.6" r="3.1"/>
<circle cx="888.8" cy="443.5" r="3.1"/>
<circle cx="1098.2" cy="328.9" r="3.1"/>
<circle cx="930.9" cy="419.3" r="3.1"/>
<circle cx="758.7" cy="480.7" r="3.1"/>
<circle cx="819.0" cy="481.5" r="3.1"/>
<circle cx="766.7" cy="483.5" r="3.1"/>
<circle cx="826.4" cy="414.4" r="3.1"/>
<circle cx="933.0" cy="424.7" r="3.1"/>
<circle cx="936.4" cy="391.2" r="3.1"/>
<circle cx="750.3" cy="497.7" r="3.1"/>
<circle cx="849.1" cy="442.1" r="3.1"/>
<circle cx="813.5" cy="426.8" r="3.1"/>
<circle cx="779.4" cy="464.4" r="3.1"/>
<circle cx="848.5" cy="456.6" r="3.1"/>
<circle cx="869.4" cy="458.0" r="3.1"/>
<circle cx="749.9" cy="480.3" r="3.1"/>
<circle cx="921.7" cy="424.7" r="3.1"/>
<circle cx="798.1" cy="466.7" r="3.1"/>
<circle cx="873.6" cy="459.4" r="3.1"/>
<circle cx="773.0" cy="459.7" r="3.1"/>
<circle cx="869.0" cy="457.2" r="3.1"/>
<circle cx="730.4" cy="493.8" r="3.1"/>
<circle cx="987.8" cy="400.1" r="3.1"/>
<circle cx="829.9" cy="433.8" r="3.1"/>
<circle cx="957.3" cy="423.3" r="3.1"/>
<circle cx="750.4" cy="495.4" r="3.1"/>
<circle cx="775.9" cy="470.8" r="3.1"/>
<circle cx="884.5" cy="435.3" r="3.1"/>
<circle cx="739.0" cy="501.0" r="3.1"/>
<circle cx="917.0" cy="431.4" r="3.1"/>
<circle cx="793.2" cy="463.3" r="3.1"/>
<circle cx="776.6" cy="445.5" r="3.1"/>
<circle cx="758.3" cy="470.2" r="3.1"/>
<circle cx="722.5" cy="486.4" r="3.1"/>
<circle cx="913.6" cy="406.1" r="3.1"/>
<circle cx="998.1" cy="412.0" r="3.1"/>
<circle cx="821.6" cy="452.8" r="3.1"/>
<circle cx="872.0" cy="437.8" r="3.1"/>
<circle cx="917.6" cy="435.5" r="3.1"/>
<circle cx="757.4" cy="500.1" r="3.1"/>
<circle cx="814.5" cy="460.5" r="3.1"/>
<circle cx="800.5" cy="452.7" r="3.1"/>
<circle cx="763.5" cy="486.8" r="3.1"/>
<circle cx="757.8" cy="473.1" r="3.1"/>
<circle cx="865.2" cy="442.6" r="3.1"/>
<circle cx="844.0" cy="440.4" r="3.1"/>
<circle cx="916.3" cy="420.9" r="3.1"/>
<circle cx="969.7" cy="382.4" r="3.1"/>
<circle cx="739.3" cy="492.0" r="3.1"/>
<circle cx="1098.2" cy="383.4" r="3.1"/>
<circle cx="924.9" cy="409.5" r="3.1"/>
<circle cx="840.4" cy="463.1" r="3.1"/>
<circle cx="724.3" cy="496.1" r="3.1"/>
<circle cx="905.2" cy="445.9" r="3.1"/>
<circle cx="766.5" cy="470.7" r="3.1"/>
<circle cx="963.6" cy="418.2" r="3.1"/>
<circle cx="864.3" cy="410.4" r="3.1"/>
<circle cx="798.4" cy="446.6" r="3.1"/>
<circle cx="721.5" cy="491.0" r="3.1"/>
<circle cx="837.5" cy="452.1" r="3.1"/>
<circle cx="876.4" cy="427.6" r="3.1"/>
<circle cx="983.3" cy="404.2" r="3.1"/>
<circle cx="729.6" cy="475.9" r="3.1"/>
<circle cx="844.2" cy="435.3" r="3.1"/>
<circle cx="741.9" cy="484.1" r="3.1"/>
<circle cx="943.2" cy="426.8" r="3.1"/>
<circle cx="751.9" cy="490.6" r="3.1"/>
<circle cx="818.9" cy="468.2" r="3.1"/>
<circle cx="865.7" cy="434.1" r="3.1"/>
<circle cx="748.7" cy="472.2" r="3.1"/>
<circle cx="921.7" cy="445.8" r="3.1"/>
<circle cx="756.5" cy="491.1" r="3.1"/>
<circle cx="793.4" cy="474.3" r="3.1"/>
<circle cx="719.5" cy="485.0" r="3.1"/>
<circle cx="769.7" cy="462.6" r="3.1"/>
<circle cx="854.6" cy="431.6" r="3.1"/>
<circle cx="897.8" cy="429.2" r="3.1"/>
<circle cx="864.8" cy="450.9" r="3.1"/>
<circle cx="814.7" cy="435.8" r="3.1"/>
<circle cx="818.9" cy="466.4" r="3.1"/>
<circle cx="747.2" cy="483.1" r="3.1"/>
<circle cx="888.5" cy="419.5" r="3.1"/>
<circle cx="767.0" cy="479.0" r="3.1"/>
<circle cx="822.2" cy="430.2" r="3.1"/>
<circle cx="773.7" cy="466.8" r="3.1"/>
<circle cx="866.0" cy="465.4" r="3.1"/>
<circle cx="737.5" cy="483.4" r="3.1"/>
<circle cx="789.8" cy="485.1" r="3.1"/>
<circle cx="729.8" cy="503.0" r="3.1"/>
<circle cx="760.5" cy="477.6" r="3.1"/>
<circle cx="773.4" cy="458.3" r="3.1"/>
<circle cx="846.9" cy="436.3" r="3.1"/>
<circle cx="741.9" cy="488.5" r="3.1"/>
<circle cx="994.7" cy="398.8" r="3.1"/>
<circle cx="808.3" cy="459.1" r="3.1"/>
<circle cx="930.2" cy="418.8" r="3.1"/>
<circle cx="972.3" cy="443.5" r="3.1"/>
<circle cx="786.8" cy="454.2" r="3.1"/>
<circle cx="733.5" cy="501.9" r="3.1"/>
<circle cx="775.0" cy="476.9" r="3.1"/>
<circle cx="735.1" cy="479.1" r="3.1"/>
<circle cx="1034.7" cy="371.5" r="3.1"/>
<circle cx="884.7" cy="441.3" r="3.1"/>
<circle cx="899.8" cy="396.5" r="3.1"/>
<circle cx="889.6" cy="403.5" r="3.1"/>
<circle cx="759.4" cy="488.3" r="3.1"/>
<circle cx="941.2" cy="414.0" r="3.1"/>
<circle cx="870.9" cy="434.1" r="3.1"/>
<circle cx="825.3" cy="454.7" r="3.1"/>
<circle cx="1098.2" cy="330.7" r="3.1"/>
<circle cx="977.9" cy="399.4" r="3.1"/>
<circle cx="856.5" cy="415.8" r="3.1"/>
<circle cx="1051.3" cy="377.9" r="3.1"/>
<circle cx="781.8" cy="448.1" r="3.1"/>
<circle cx="748.7" cy="456.0" r="3.1"/>
<circle cx="812.5" cy="459.5" r="3.1"/>
<circle cx="781.4" cy="445.2" r="3.1"/>
<circle cx="770.7" cy="496.3" r="3.1"/>
<circle cx="816.3" cy="463.9" r="3.1"/>
<circle cx="785.6" cy="475.0" r="3.1"/>
<circle cx="767.6" cy="471.5" r="3.1"/>
<circle cx="1094.2" cy="354.7" r="3.1"/>
<circle cx="758.9" cy="492.6" r="3.1"/>
<circle cx="1003.1" cy="388.6" r="3.1"/>
<circle cx="764.7" cy="493.1" r="3.1"/>
<circle cx="824.3" cy="476.6" r="3.1"/>
<circle cx="823.0" cy="446.9" r="3.1"/>
<circle cx="1014.3" cy="357.5" r="3.1"/>
<circle cx="893.7" cy="415.1" r="3.1"/>
<circle cx="1098.2" cy="428.7" r="3.1"/>
<circle cx="752.7" cy="488.4" r="3.1"/>
<circle cx="762.0" cy="477.1" r="3.1"/>
<circle cx="1013.3" cy="431.1" r="3.1"/>
<circle cx="1008.1" cy="399.9" r="3.1"/>
<circle cx="748.5" cy="491.9" r="3.1"/>
<circle cx="766.6" cy="474.2" r="3.1"/>
<circle cx="763.8" cy="472.6" r="3.1"/>
<circle cx="838.4" cy="468.2" r="3.1"/>
<circle cx="787.6" cy="417.1" r="3.1"/>
<circle cx="788.2" cy="478.5" r="3.1"/>
<circle cx="987.9" cy="429.4" r="3.1"/>
<circle cx="722.3" cy="492.7" r="3.1"/>
<circle cx="1098.2" cy="347.2" r="3.1"/>
<circle cx="809.9" cy="459.7" r="3.1"/>
<circle cx="806.4" cy="452.1" r="3.1"/>
<circle cx="926.9" cy="402.0" r="3.1"/>
<circle cx="841.4" cy="434.5" r="3.1"/>
<circle cx="842.9" cy="438.5" r="3.1"/>
<circle cx="993.6" cy="416.7" r="3.1"/>
<circle cx="842.6" cy="467.5" r="3.1"/>
<circle cx="743.3" cy="498.8" r="3.1"/>
<circle cx="765.9" cy="468.8" r="3.1"/>
<circle cx="826.9" cy="453.6" r="3.1"/>
<circle cx="825.3" cy="437.3" r="3.1"/>
<circle cx="816.4" cy="452.0" r="3.1"/>
<circle cx="728.6" cy="497.8" r="3.1"/>
<circle cx="728.3" cy="497.1" r="3.1"/>
<circle cx="790.3" cy="460.8" r="3.1"/>
<circle cx="937.6" cy="417.0" r="3.1"/>
<circle cx="767.5" cy="475.2" r="3.1"/>
<circle cx="760.5" cy="465.4" r="3.1"/>
<circle cx="817.6" cy="470.5" r="3.1"/>
<circle cx="895.3" cy="422.1" r="3.1"/>
<circle cx="775.5" cy="468.6" r="3.1"/>
<circle cx="919.0" cy="419.0" r="3.1"/>
<circle cx="738.2" cy="485.6" r="3.1"/>
<circle cx="761.9" cy="503.0" r="3.1"/>
<circle cx="948.7" cy="399.1" r="3.1"/>
<circle cx="871.0" cy="433.5" r="3.1"/>
<circle cx="768.0" cy="472.9" r="3.1"/>
<circle cx="835.6" cy="423.6" r="3.1"/>
<circle cx="774.1" cy="475.2" r="3.1"/>
<circle cx="959.9" cy="407.1" r="3.1"/>
<circle cx="723.8" cy="497.2" r="3.1"/>
<circle cx="794.2" cy="486.2" r="3.1"/>
<circle cx="1020.2" cy="431.2" r="3.1"/>
<circle cx="745.6" cy="494.6" r="3.1"/>
<circle cx="937.5" cy="415.4" r="3.1"/>
<circle cx="1098.2" cy="320.1" r="3.1"/>
<circle cx="795.5" cy="460.7" r="3.1"/>
<circle cx="868.7" cy="425.0" r="3.1"/>
<circle cx="738.8" cy="482.1" r="3.1"/>
<circle cx="732.6" cy="494.0" r="3.1"/>
<circle cx="810.2" cy="446.0" r="3.1"/>
<circle cx="1050.2" cy="392.0" r="3.1"/>
<circle cx="757.1" cy="483.0" r="3.1"/>
<circle cx="745.0" cy="496.7" r="3.1"/>
<circle cx="727.5" cy="482.0" r="3.1"/>
<circle cx="946.6" cy="429.7" r="3.1"/>
<circle cx="1044.0" cy="359.0" r="3.1"/>
<circle cx="1026.1" cy="398.6" r="3.1"/>
<circle cx="755.1" cy="477.2" r="3.1"/>
<circle cx="783.6" cy="474.9" r="3.1"/>
<circle cx="860.9" cy="450.1" r="3.1"/>
<circle cx="929.5" cy="410.3" r="3.1"/>
<circle cx="1045.8" cy="393.7" r="3.1"/>
<circle cx="901.3" cy="408.0" r="3.1"/>
<circle cx="915.7" cy="433.9" r="3.1"/>
<circle cx="805.4" cy="485.7" r="3.1"/>
<circle cx="857.7" cy="431.8" r="3.1"/>
<circle cx="820.3" cy="447.3" r="3.1"/>
<circle cx="842.5" cy="458.2" r="3.1"/>
<circle cx="860.2" cy="412.7" r="3.1"/>
<circle cx="727.1" cy="488.8" r="3.1"/>
<circle cx="802.0" cy="439.2" r="3.1"/>
<circle cx="763.0" cy="474.6" r="3.1"/>
<circle cx="771.9" cy="488.8" r="3.1"/>
<circle cx="788.8" cy="461.5" r="3.1"/>
<circle cx="820.5" cy="442.8" r="3.1"/>
<circle cx="943.3" cy="409.8" r="3.1"/>
<circle cx="988.0" cy="390.9" r="3.1"/>
<circle cx="748.5" cy="484.5" r="3.1"/>
<circle cx="876.4" cy="436.2" r="3.1"/>
<circle cx="1098.2" cy="333.6" r="3.1"/>
<circle cx="931.2" cy="391.7" r="3.1"/>
<circle cx="775.8" cy="457.5" r="3.1"/>
<circle cx="763.1" cy="476.6" r="3.1"/>
<circle cx="892.3" cy="446.4" r="3.1"/>
<circle cx="750.4" cy="484.5" r="3.1"/>
<circle cx="869.9" cy="435.1" r="3.1"/>
<circle cx="899.3" cy="461.8" r="3.1"/>
<circle cx="820.3" cy="459.4" r="3.1"/>
<circle cx="734.4" cy="480.8" r="3.1"/>
<circle cx="1098.2" cy="367.6" r="3.1"/>
<circle cx="890.5" cy="407.6" r="3.1"/>
<circle cx="776.6" cy="476.5" r="3.1"/>
<circle cx="762.2" cy="498.0" r="3.1"/>
<circle cx="740.7" cy="480.8" r="3.1"/>
<circle cx="741.8" cy="476.4" r="3.1"/>
<circle cx="955.8" cy="397.1" r="3.1"/>
<circle cx="1026.3" cy="435.5" r="3.1"/>
<circle cx="760.6" cy="482.2" r="3.1"/>
<circle cx="733.4" cy="485.7" r="3.1"/>
<circle cx="817.6" cy="473.3" r="3.1"/>
<circle cx="1055.9" cy="387.8" r="3.1"/>
<circle cx="730.0" cy="499.2" r="3.1"/>
<circle cx="804.5" cy="440.6" r="3.1"/>
<circle cx="745.6" cy="497.3" r="3.1"/>
<circle cx="880.0" cy="423.8" r="3.1"/>
<circle cx="774.6" cy="497.2" r="3.1"/>
<circle cx="760.2" cy="483.0" r="3.1"/>
<circle cx="767.0" cy="460.8" r="3.1"/>
<circle cx="930.3" cy="443.5" r="3.1"/>
<circle cx="798.8" cy="447.2" r="3.1"/>
<circle cx="894.9" cy="410.0" r="3.1"/>
<circle cx="787.0" cy="461.4" r="3.1"/>
<circle cx="790.1" cy="450.2" r="3.1"/>
<circle cx="998.0" cy="394.4" r="3.1"/>
<circle cx="828.0" cy="444.0" r="3.1"/>
<circle cx="714.5" cy="500.2" r="3.1"/>
<circle cx="779.0" cy="478.8" r="3.1"/>
<circle cx="755.2" cy="455.8" r="3.1"/>
<circle cx="993.4" cy="429.7" r="3.1"/>
<circle cx="740.2" cy="484.5" r="3.1"/>
<circle cx="726.7" cy="483.5" r="3.1"/>
<circle cx="847.5" cy="452.7" r="3.1"/>
<circle cx="831.9" cy="460.2" r="3.1"/>
<circle cx="753.1" cy="478.2" r="3.1"/>
<circle cx="1098.2" cy="324.8" r="3.1"/>
<circle cx="1010.4" cy="419.0" r="3.1"/>
<circle cx="811.9" cy="460.8" r="3.1"/>
<circle cx="788.0" cy="461.6" r="3.1"/>
<circle cx="752.8" cy="482.4" r="3.1"/>
<circle cx="838.0" cy="439.2" r="3.1"/>
<circle cx="777.4" cy="469.0" r="3.1"/>
<circle cx="902.0" cy="417.5" r="3.1"/>
<circle cx="742.8" cy="488.8" r="3.1"/>
<circle cx="862.3" cy="414.6" r="3.1"/>
<circle cx="1050.1" cy="385.7" r="3.1"/>
<circle cx="1036.6" cy="377.5" r="3.1"/>
<circle cx="980.9" cy="408.6" r="3.1"/>
<circle cx="725.2" cy="493.9" r="3.1"/>
<circle cx="721.9" cy="502.0" r="3.1"/>
<circle cx="964.4" cy="405.0" r="3.1"/>
<circle cx="727.0" cy="485.4" r="3.1"/>
<circle cx="1014.0" cy="397.4" r="3.1"/>
<circle cx="780.5" cy="476.8" r="3.1"/>
<circle cx="769.7" cy="486.5" r="3.1"/>
<circle cx="762.6" cy="491.7" r="3.1"/>
<circle cx="795.2" cy="473.7" r="3.1"/>
<circle cx="940.4" cy="425.0" r="3.1"/>
<circle cx="765.4" cy="473.8" r="3.1"/>
<circle cx="837.6" cy="444.9" r="3.1"/>
<circle cx="782.0" cy="487.7" r="3.1"/>
<circle cx="1013.4" cy="366.4" r="3.1"/>
<circle cx="924.9" cy="436.5" r="3.1"/>
<circle cx="825.7" cy="445.3" r="3.1"/>
<circle cx="772.7" cy="492.6" r="3.1"/>
<circle cx="820.5" cy="473.9" r="3.1"/>
<circle cx="856.0" cy="424.8" r="3.1"/>
<circle cx="728.0" cy="490.3" r="3.1"/>
<circle cx="1098.2" cy="357.9" r="3.1"/>
<circle cx="739.1" cy="479.4" r="3.1"/>
<circle cx="733.5" cy="485.6" r="3.1"/>
<circle cx="933.1" cy="432.0" r="3.1"/>
<circle cx="747.9" cy="496.7" r="3.1"/>
<circle cx="867.9" cy="423.2" r="3.1"/>
<circle cx="881.1" cy="454.7" r="3.1"/>
<circle cx="858.3" cy="422.4" r="3.1"/>
<circle cx="854.3" cy="436.7" r="3.1"/>
<circle cx="833.4" cy="453.4" r="3.1"/>
<circle cx="784.4" cy="464.1" r="3.1"/>
<circle cx="795.6" cy="464.2" r="3.1"/>
<circle cx="895.6" cy="427.2" r="3.1"/>
<circle cx="789.0" cy="448.0" r="3.1"/>
<circle cx="737.9" cy="485.6" r="3.1"/>
<circle cx="942.8" cy="404.9" r="3.1"/>
<circle cx="1065.0" cy="396.4" r="3.1"/>
<circle cx="798.8" cy="451.4" r="3.1"/>
<circle cx="779.6" cy="463.0" r="3.1"/>
<circle cx="925.0" cy="427.5" r="3.1"/>
<circle cx="732.0" cy="495.9" r="3.1"/>
<circle cx="840.9" cy="429.0" r="3.1"/>
<circle cx="841.7" cy="446.0" r="3.1"/>
<circle cx="813.2" cy="482.3" r="3.1"/>
<circle cx="878.0" cy="409.2" r="3.1"/>
<circle cx="760.8" cy="484.6" r="3.1"/>
<circle cx="1098.2" cy="367.6" r="3.1"/>
<circle cx="770.5" cy="464.4" r="3.1"/>
<circle cx="740.3" cy="483.0" r="3.1"/>
<circle cx="848.0" cy="446.0" r="3.1"/>
<circle cx="846.5" cy="453.4" r="3.1"/>
<circle cx="851.3" cy="421.1" r="3.1"/>
<circle cx="975.5" cy="430.6" r="3.1"/>
<circle cx="758.1" cy="473.3" r="3.1"/>
<circle cx="835.4" cy="439.4" r="3.1"/>
<circle cx="907.2" cy="420.3" r="3.1"/>
<circle cx="781.5" cy="478.9" r="3.1"/>
<circle cx="1098.2" cy="342.5" r="3.1"/>
<circle cx="1042.4" cy="373.6" r="3.1"/>
<circle cx="708.1" cy="500.1" r="3.1"/>
<circle cx="1083.2" cy="362.9" r="3.1"/>
<circle cx="823.1" cy="467.7" r="3.1"/>
<circle cx="725.6" cy="503.1" r="3.1"/>
<circle cx="1066.2" cy="374.7" r="3.1"/>
<circle cx="786.0" cy="469.6" r="3.1"/>
<circle cx="853.1" cy="429.5" r="3.1"/>
<circle cx="741.1" cy="483.1" r="3.1"/>
<circle cx="1098.2" cy="416.4" r="3.1"/>
<circle cx="828.9" cy="442.8" r="3.1"/>
<circle cx="967.5" cy="404.0" r="3.1"/>
<circle cx="714.8" cy="501.0" r="3.1"/>
<circle cx="959.9" cy="397.0" r="3.1"/>
<circle cx="821.6" cy="449.5" r="3.1"/>
<circle cx="810.1" cy="457.7" r="3.1"/>
<circle cx="785.9" cy="478.2" r="3.1"/>
<circle cx="1091.2" cy="386.8" r="3.1"/>
<circle cx="807.9" cy="436.0" r="3.1"/>
<circle cx="1098.2" cy="354.4" r="3.1"/>
<circle cx="813.0" cy="468.4" r="3.1"/>
<circle cx="849.5" cy="437.2" r="3.1"/>
<circle cx="905.8" cy="424.2" r="3.1"/>
<circle cx="916.3" cy="390.4" r="3.1"/>
<circle cx="862.0" cy="455.0" r="3.1"/>
<circle cx="776.2" cy="479.0" r="3.1"/>
<circle cx="879.7" cy="408.9" r="3.1"/>
<circle cx="766.0" cy="470.6" r="3.1"/>
<circle cx="792.4" cy="471.7" r="3.1"/>
<circle cx="773.4" cy="490.1" r="3.1"/>
<circle cx="981.2" cy="417.0" r="3.1"/>
<circle cx="944.4" cy="385.6" r="3.1"/>
<circle cx="789.2" cy="448.0" r="3.1"/>
<circle cx="1006.6" cy="400.5" r="3.1"/>
<circle cx="826.3" cy="439.8" r="3.1"/>
<circle cx="821.2" cy="451.3" r="3.1"/>
<circle cx="731.0" cy="486.0" r="3.1"/>
<circle cx="801.0" cy="467.4" r="3.1"/>
<circle cx="894.2" cy="417.0" r="3.1"/>
<circle cx="953.6" cy="413.9" r="3.1"/>
<circle cx="743.3" cy="485.1" r="3.1"/>
<circle cx="887.9" cy="431.6" r="3.1"/>
<circle cx="968.1" cy="385.2" r="3.1"/>
<circle cx="920.9" cy="384.1" r="3.1"/>
<circle cx="724.4" cy="502.6" r="3.1"/>
<circle cx="840.4" cy="436.2" r="3.1"/>
<circle cx="767.4" cy="473.4" r="3.1"/>
<circle cx="849.2" cy="452.9" r="3.1"/>
<circle cx="866.0" cy="413.8" r="3.1"/>
<circle cx="764.4" cy="492.5" r="3.1"/>
<circle cx="713.7" cy="500.8" r="3.1"/>
<circle cx="866.8" cy="424.0" r="3.1"/>
<circle cx="913.4" cy="434.6" r="3.1"/>
<circle cx="722.2" cy="497.6" r="3.1"/>
<circle cx="810.8" cy="445.9" r="3.1"/>
<circle cx="768.7" cy="477.2" r="3.1"/>
<circle cx="777.4" cy="488.8" r="3.1"/>
<circle cx="805.8" cy="467.8" r="3.1"/>
<circle cx="866.4" cy="435.9" r="3.1"/>
<circle cx="989.5" cy="437.3" r="3.1"/>
<circle cx="867.2" cy="451.9" r="3.1"/>
<circle cx="825.7" cy="411.3" r="3.1"/>
<circle cx="810.8" cy="457.8" r="3.1"/>
<circle cx="906.7" cy="397.9" r="3.1"/>
<circle cx="1098.2" cy="324.9" r="3.1"/>
<circle cx="1098.2" cy="319.2" r="3.1"/>
<circle cx="834.7" cy="476.5" r="3.1"/>
<circle cx="744.4" cy="482.3" r="3.1"/>
<circle cx="773.0" cy="482.0" r="3.1"/>
<circle cx="1098.2" cy="380.8" r="3.1"/>
<circle cx="727.2" cy="484.8" r="3.1"/>
<circle cx="767.3" cy="461.5" r="3.1"/>
<circle cx="861.1" cy="433.0" r="3.1"/>
<circle cx="829.3" cy="422.1" r="3.1"/>
<circle cx="779.4" cy="458.8" r="3.1"/>
<circle cx="806.9" cy="469.1" r="3.1"/>
<circle cx="828.4" cy="417.7" r="3.1"/>
<circle cx="1098.2" cy="322.7" r="3.1"/>
<circle cx="809.7" cy="458.9" r="3.1"/>
<circle cx="737.2" cy="498.1" r="3.1"/>
<circle cx="761.9" cy="479.6" r="3.1"/>
<circle cx="930.5" cy="374.3" r="3.1"/>
<circle cx="1010.6" cy="379.3" r="3.1"/>
<circle cx="756.2" cy="474.9" r="3.1"/>
<circle cx="723.5" cy="481.8" r="3.1"/>
<circle cx="1038.7" cy="409.3" r="3.1"/>
<circle cx="735.0" cy="489.2" r="3.1"/>
<circle cx="797.6" cy="472.5" r="3.1"/>
<circle cx="809.2" cy="488.3" r="3.1"/>
<circle cx="1066.3" cy="353.9" r="3.1"/>
<circle cx="865.7" cy="399.6" r="3.1"/>
<circle cx="865.7" cy="426.5" r="3.1"/>
<circle cx="1076.9" cy="402.1" r="3.1"/>
<circle cx="808.0" cy="438.4" r="3.1"/>
<circle cx="807.2" cy="470.7" r="3.1"/>
<circle cx="804.4" cy="448.7" r="3.1"/>
<circle cx="896.0" cy="413.7" r="3.1"/>
<circle cx="1004.6" cy="394.9" r="3.1"/>
<circle cx="826.4" cy="435.3" r="3.1"/>
<circle cx="859.1" cy="437.1" r="3.1"/>
<circle cx="825.4" cy="443.7" r="3.1"/>
<circle cx="776.8" cy="445.6" r="3.1"/>
<circle cx="849.6" cy="456.8" r="3.1"/>
<circle cx="736.6" cy="492.8" r="3.1"/>
<circle cx="925.5" cy="428.5" r="3.1"/>
<circle cx="1029.9" cy="388.6" r="3.1"/>
<circle cx="761.0" cy="483.2" r="3.1"/>
<circle cx="900.9" cy="397.9" r="3.1"/>
<circle cx="879.4" cy="446.6" r="3.1"/>
<circle cx="743.9" cy="479.4" r="3.1"/>
<circle cx="760.2" cy="471.3" r="3.1"/>
<circle cx="813.5" cy="377.4" r="3.1"/>
<circle cx="805.0" cy="471.2" r="3.1"/>
<circle cx="842.1" cy="425.9" r="3.1"/>
<circle cx="766.7" cy="477.6" r="3.1"/>
<circle cx="923.2" cy="394.3" r="3.1"/>
<circle cx="809.2" cy="448.9" r="3.1"/>
<circle cx="1098.2" cy="352.7" r="3.1"/>
<circle cx="843.8" cy="449.0" r="3.1"/>
<circle cx="907.2" cy="418.0" r="3.1"/>
<circle cx="920.2" cy="397.1" r="3.1"/>
<circle cx="819.5" cy="453.3" r="3.1"/>
<circle cx="867.1" cy="451.2" r="3.1"/>
<circle cx="806.4" cy="414.5" r="3.1"/>
<circle cx="830.8" cy="462.6" r="3.1"/>
<circle cx="809.6" cy="458.2" r="3.1"/>
<circle cx="815.4" cy="471.1" r="3.1"/>
<circle cx="860.3" cy="466.4" r="3.1"/>
<circle cx="956.7" cy="424.1" r="3.1"/>
<circle cx="738.2" cy="483.6" r="3.1"/>
<circle cx="763.3" cy="461.0" r="3.1"/>
<circle cx="784.8" cy="444.2" r="3.1"/>
<circle cx="911.1" cy="410.0" r="3.1"/>
<circle cx="760.1" cy="460.5" r="3.1"/>
<circle cx="818.1" cy="473.9" r="3.1"/>
<circle cx="849.2" cy="453.4" r="3.1"/>
<circle cx="854.6" cy="410.3" r="3.1"/>
<circle cx="747.2" cy="465.1" r="3.1"/>
<circle cx="766.5" cy="480.0" r="3.1"/>
<circle cx="724.2" cy="497.7" r="3.1"/>
<circle cx="1098.2" cy="329.1" r="3.1"/>
<circle cx="888.9" cy="414.9" r="3.1"/>
<circle cx="820.7" cy="431.2" r="3.1"/>
<circle cx="959.8" cy="406.1" r="3.1"/>
<circle cx="799.5" cy="455.2" r="3.1"/>
<circle cx="862.4" cy="435.4" r="3.1"/>
<circle cx="723.9" cy="487.4" r="3.1"/>
<circle cx="817.2" cy="442.1" r="3.1"/>
<circle cx="785.2" cy="472.8" r="3.1"/>
<circle cx="744.6" cy="477.3" r="3.1"/>
<circle cx="864.6" cy="465.8" r="3.1"/>
<circle cx="738.1" cy="487.5" r="3.1"/>
<circle cx="920.1" cy="426.6" r="3.1"/>
<circle cx="725.2" cy="505.1" r="3.1"/>
<circle cx="1098.2" cy="319.0" r="3.1"/>
<circle cx="805.7" cy="473.3" r="3.1"/>
<circle cx="827.0" cy="455.6" r="3.1"/>
<circle cx="746.4" cy="483.2" r="3.1"/>
<circle cx="858.3" cy="447.5" r="3.1"/>
<circle cx="787.9" cy="462.1" r="3.1"/>
<circle cx="877.8" cy="411.7" r="3.1"/>
<circle cx="833.7" cy="458.9" r="3.1"/>
<circle cx="737.9" cy="498.6" r="3.1"/>
<circle cx="768.8" cy="450.9" r="3.1"/>
<circle cx="800.6" cy="459.6" r="3.1"/>
<circle cx="719.5" cy="498.7" r="3.1"/>
<circle cx="817.7" cy="462.1" r="3.1"/>
<circle cx="777.2" cy="467.6" r="3.1"/>
<circle cx="785.1" cy="448.3" r="3.1"/>
<circle cx="724.0" cy="486.8" r="3.1"/>
<circle cx="935.7" cy="405.1" r="3.1"/>
<circle cx="762.7" cy="478.9" r="3.1"/>
<circle cx="767.3" cy="484.4" r="3.1"/>
<circle cx="1059.2" cy="398.5" r="3.1"/>
<circle cx="724.9" cy="489.8" r="3.1"/>
<circle cx="807.4" cy="461.8" r="3.1"/>
<circle cx="797.5" cy="456.9" r="3.1"/>
<circle cx="735.7" cy="481.8" r="3.1"/>
<circle cx="817.7" cy="435.1" r="3.1"/>
<circle cx="788.1" cy="471.4" r="3.1"/>
<circle cx="1098.2" cy="327.4" r="3.1"/>
<circle cx="807.3" cy="437.1" r="3.1"/>
<circle cx="909.4" cy="440.6" r="3.1"/>
<circle cx="728.8" cy="492.7" r="3.1"/>
<circle cx="798.6" cy="464.4" r="3.1"/>
<circle cx="1015.7" cy="369.6" r="3.1"/>
<circle cx="775.8" cy="461.1" r="3.1"/>
<circle cx="1002.4" cy="376.7" r="3.1"/>
<circle cx="948.5" cy="414.9" r="3.1"/>
<circle cx="727.3" cy="493.6" r="3.1"/>
<circle cx="848.0" cy="430.8" r="3.1"/>
<circle cx="914.1" cy="428.6" r="3.1"/>
<circle cx="954.4" cy="400.5" r="3.1"/>
<circle cx="808.9" cy="455.0" r="3.1"/>
<circle cx="767.3" cy="467.9" r="3.1"/>
<circle cx="795.1" cy="474.7" r="3.1"/>
<circle cx="1098.2" cy="338.2" r="3.1"/>
<circle cx="880.6" cy="422.2" r="3.1"/>
<circle cx="809.3" cy="472.4" r="3.1"/>
<circle cx="855.4" cy="442.9" r="3.1"/>
<circle cx="1056.9" cy="394.3" r="3.1"/>
<circle cx="1006.8" cy="407.3" r="3.1"/>
<circle cx="760.5" cy="487.4" r="3.1"/>
<circle cx="1008.7" cy="386.7" r="3.1"/>
<circle cx="816.4" cy="454.9" r="3.1"/>
<circle cx="786.2" cy="456.8" r="3.1"/>
<circle cx="746.4" cy="484.2" r="3.1"/>
<circle cx="837.6" cy="443.2" r="3.1"/>
<circle cx="855.7" cy="410.2" r="3.1"/>
<circle cx="757.6" cy="465.5" r="3.1"/>
<circle cx="866.8" cy="438.6" r="3.1"/>
<circle cx="973.0" cy="402.1" r="3.1"/>
<circle cx="1034.4" cy="362.3" r="3.1"/>
<circle cx="849.5" cy="468.2" r="3.1"/>
<circle cx="794.5" cy="466.4" r="3.1"/>
<circle cx="1098.2" cy="324.9" r="3.1"/>
<circle cx="856.7" cy="456.9" r="3.1"/>
<circle cx="826.2" cy="440.2" r="3.1"/>
<circle cx="912.9" cy="450.6" r="3.1"/>
<circle cx="820.4" cy="418.8" r="3.1"/>
<circle cx="1098.2" cy="370.1" r="3.1"/>
<circle cx="865.4" cy="434.8" r="3.1"/>
<circle cx="881.8" cy="453.8" r="3.1"/>
<circle cx="769.4" cy="472.9" r="3.1"/>
<circle cx="852.5" cy="410.1" r="3.1"/>
<circle cx="763.2" cy="480.3" r="3.1"/>
<circle cx="1098.2" cy="350.8" r="3.1"/>
<circle cx="894.3" cy="407.6" r="3.1"/>
<circle cx="758.3" cy="503.8" r="3.1"/>
<circle cx="735.1" cy="493.8" r="3.1"/>
<circle cx="758.8" cy="482.7" r="3.1"/>
<circle cx="988.5" cy="413.3" r="3.1"/>
<circle cx="789.5" cy="484.1" r="3.1"/>
<circle cx="762.7" cy="486.2" r="3.1"/>
<circle cx="764.3" cy="495.9" r="3.1"/>
<circle cx="854.0" cy="434.9" r="3.1"/>
<circle cx="887.8" cy="419.3" r="3.1"/>
<circle cx="984.1" cy="383.2" r="3.1"/>
<circle cx="918.5" cy="424.0" r="3.1"/>
<circle cx="741.0" cy="495.1" r="3.1"/>
<circle cx="923.7" cy="394.1" r="3.1"/>
<circle cx="771.3" cy="476.2" r="3.1"/>
<circle cx="956.2" cy="401.9" r="3.1"/>
<circle cx="723.0" cy="486.9" r="3.1"/>
<circle cx="916.7" cy="435.2" r="3.1"/>
<circle cx="851.8" cy="438.3" r="3.1"/>
<circle cx="771.4" cy="462.2" r="3.1"/>
<circle cx="863.1" cy="433.3" r="3.1"/>
<circle cx="753.7" cy="483.7" r="3.1"/>
<circle cx="823.6" cy="435.9" r="3.1"/>
<circle cx="889.0" cy="441.5" r="3.1"/>
<circle cx="849.0" cy="455.2" r="3.1"/>
<circle cx="718.8" cy="493.6" r="3.1"/>
<circle cx="732.0" cy="499.1" r="3.1"/>
<circle cx="727.4" cy="494.1" r="3.1"/>
<circle cx="714.5" cy="500.9" r="3.1"/>
<circle cx="737.7" cy="492.3" r="3.1"/>
<circle cx="911.9" cy="407.6" r="3.1"/>
<circle cx="707.0" cy="495.5" r="3.1"/>
<circle cx="1009.6" cy="399.8" r="3.1"/>
<circle cx="843.0" cy="427.3" r="3.1"/>
<circle cx="757.7" cy="480.4" r="3.1"/>
<circle cx="728.0" cy="493.1" r="3.1"/>
<circle cx="790.7" cy="469.0" r="3.1"/>
<circle cx="764.2" cy="480.8" r="3.1"/>
<circle cx="850.3" cy="416.0" r="3.1"/>
<circle cx="839.7" cy="393.1" r="3.1"/>
<circle cx="864.2" cy="433.7" r="3.1"/>
<circle cx="868.8" cy="457.3" r="3.1"/>
<circle cx="993.7" cy="420.4" r="3.1"/>
<circle cx="784.3" cy="446.9" r="3.1"/>
<circle cx="1039.2" cy="344.5" r="3.1"/>
<circle cx="881.3" cy="433.5" r="3.1"/>
<circle cx="829.9" cy="470.9" r="3.1"/>
<circle cx="723.1" cy="487.9" r="3.1"/>
<circle cx="839.3" cy="439.3" r="3.1"/>
<circle cx="731.9" cy="482.0" r="3.1"/>
<circle cx="811.2" cy="459.1" r="3.1"/>
<circle cx="857.2" cy="445.9" r="3.1"/>
<circle cx="927.1" cy="419.9" r="3.1"/>
<circle cx="793.9" cy="451.7" r="3.1"/>
<circle cx="736.4" cy="492.1" r="3.1"/>
<circle cx="843.3" cy="459.5" r="3.1"/>
<circle cx="853.4" cy="459.9" r="3.1"/>
<circle cx="825.0" cy="453.4" r="3.1"/>
<circle cx="915.0" cy="424.8" r="3.1"/>
<circle cx="797.4" cy="462.0" r="3.1"/>
<circle cx="784.6" cy="472.9" r="3.1"/>
<circle cx="757.8" cy="480.1" r="3.1"/>
<circle cx="1098.2" cy="340.9" r="3.1"/>
<circle cx="827.2" cy="434.0" r="3.1"/>
<circle cx="807.8" cy="462.3" r="3.1"/>
<circle cx="721.4" cy="491.2" r="3.1"/>
<circle cx="841.6" cy="441.6" r="3.1"/>
<circle cx="763.4" cy="486.1" r="3.1"/>
<circle cx="757.0" cy="495.0" r="3.1"/>
<circle cx="778.0" cy="455.1" r="3.1"/>
<circle cx="869.2" cy="434.4" r="3.1"/>
<circle cx="934.6" cy="387.2" r="3.1"/>
<circle cx="767.8" cy="480.1" r="3.1"/>
<circle cx="905.5" cy="410.6" r="3.1"/>
<circle cx="836.1" cy="460.7" r="3.1"/>
<circle cx="854.0" cy="445.1" r="3.1"/>
<circle cx="790.1" cy="474.8" r="3.1"/>
<circle cx="723.4" cy="496.2" r="3.1"/>
<circle cx="881.6" cy="420.5" r="3.1"/>
<circle cx="883.0" cy="438.5" r="3.1"/>
<circle cx="828.0" cy="448.1" r="3.1"/>
<circle cx="894.3" cy="415.0" r="3.1"/>
<circle cx="901.9" cy="444.5" r="3.1"/>
<circle cx="1098.2" cy="351.7" r="3.1"/>
<circle cx="745.1" cy="491.6" r="3.1"/>
<circle cx="788.5" cy="474.5" r="3.1"/>
<circle cx="890.7" cy="416.7" r="3.1"/>
<circle cx="890.7" cy="425.8" r="3.1"/>
<circle cx="797.8" cy="452.0" r="3.1"/>
<circle cx="849.7" cy="444.8" r="3.1"/>
<circle cx="744.6" cy="485.9" r="3.1"/>
<circle cx="1098.2" cy="400.6" r="3.1"/>
<circle cx="796.4" cy="414.3" r="3.1"/>
<circle cx="895.8" cy="426.5" r="3.1"/>
<circle cx="724.3" cy="496.8" r="3.1"/>
<circle cx="802.5" cy="449.0" r="3.1"/>
<circle cx="843.5" cy="466.4" r="3.1"/>
<circle cx="764.3" cy="488.2" r="3.1"/>
<circle cx="1052.8" cy="404.5" r="3.1"/>
<circle cx="771.0" cy="474.1" r="3.1"/>
<circle cx="836.5" cy="445.4" r="3.1"/>
<circle cx="784.5" cy="463.3" r="3.1"/>
<circle cx="1098.2" cy="333.0" r="3.1"/>
<circle cx="762.5" cy="477.7" r="3.1"/>
<circle cx="920.1" cy="394.2" r="3.1"/>
<circle cx="762.9" cy="479.4" r="3.1"/>
<circle cx="941.0" cy="414.5" r="3.1"/>
<circle cx="969.4" cy="417.5" r="3.1"/>
<circle cx="789.2" cy="442.3" r="3.1"/>
<circle cx="925.9" cy="434.6" r="3.1"/>
<circle cx="809.8" cy="456.8" r="3.1"/>
<circle cx="794.0" cy="472.4" r="3.1"/>
<circle cx="783.0" cy="487.4" r="3.1"/>
<circle cx="812.8" cy="464.4" r="3.1"/>
<circle cx="840.5" cy="462.1" r="3.1"/>
<circle cx="757.1" cy="488.7" r="3.1"/>
<circle cx="815.4" cy="453.1" r="3.1"/>
<circle cx="765.3" cy="468.8" r="3.1"/>
<circle cx="1039.1" cy="379.3" r="3.1"/>
<circle cx="1038.9" cy="362.7" r="3.1"/>
<circle cx="784.4" cy="462.7" r="3.1"/>
<circle cx="812.3" cy="459.1" r="3.1"/>
<circle cx="1035.9" cy="373.0" r="3.1"/>
<circle cx="1098.2" cy="431.4" r="3.1"/>
<circle cx="772.8" cy="463.9" r="3.1"/>
<circle cx="849.5" cy="437.2" r="3.1"/>
<circle cx="1049.4" cy="390.0" r="3.1"/>
<circle cx="747.2" cy="492.6" r="3.1"/>
<circle cx="805.4" cy="460.7" r="3.1"/>
<circle cx="1051.9" cy="367.6" r="3.1"/>
<circle cx="949.5" cy="436.8" r="3.1"/>
<circle cx="1050.7" cy="370.8" r="3.1"/>
<circle cx="799.2" cy="456.9" r="3.1"/>
<circle cx="813.2" cy="471.5" r="3.1"/>
<circle cx="1007.3" cy="405.4" r="3.1"/>
<circle cx="838.5" cy="472.2" r="3.1"/>
<circle cx="734.3" cy="493.7" r="3.1"/>
<circle cx="915.8" cy="437.9" r="3.1"/>
<circle cx="741.2" cy="484.8" r="3.1"/>
<circle cx="737.7" cy="482.3" r="3.1"/>
<circle cx="734.7" cy="495.3" r="3.1"/>
<circle cx="807.8" cy="462.6" r="3.1"/>
<circle cx="898.5" cy="416.2" r="3.1"/>
<circle cx="831.6" cy="459.2" r="3.1"/>
<circle cx="950.5" cy="397.0" r="3.1"/>
<circle cx="721.2" cy="504.0" r="3.1"/>
<circle cx="982.5" cy="412.9" r="3.1"/>
<circle cx="895.2" cy="423.8" r="3.1"/>
<circle cx="917.2" cy="450.4" r="3.1"/>
<circle cx="785.5" cy="452.9" r="3.1"/>
<circle cx="937.4" cy="423.2" r="3.1"/>
<circle cx="779.3" cy="472.2" r="3.1"/>
<circle cx="887.6" cy="430.1" r="3.1"/>
<circle cx="909.2" cy="422.5" r="3.1"/>
<circle cx="907.8" cy="428.1" r="3.1"/>
<circle cx="807.1" cy="475.1" r="3.1"/>
<circle cx="800.7" cy="456.5" r="3.1"/>
<circle cx="837.9" cy="442.4" r="3.1"/>
<circle cx="978.7" cy="405.7" r="3.1"/>
<circle cx="799.2" cy="471.0" r="3.1"/>
<circle cx="1070.2" cy="388.7" r="3.1"/>
<circle cx="1098.2" cy="364.5" r="3.1"/>
<circle cx="785.9" cy="469.2" r="3.1"/>
<circle cx="796.6" cy="462.7" r="3.1"/>
<circle cx="757.9" cy="471.0" r="3.1"/>
<circle cx="949.1" cy="378.9" r="3.1"/>
<circle cx="748.2" cy="459.9" r="3.1"/>
<circle cx="964.2" cy="435.3" r="3.1"/>
<circle cx="805.2" cy="453.9" r="3.1"/>
<circle cx="788.1" cy="437.1" r="3.1"/>
<circle cx="802.7" cy="463.5" r="3.1"/>
<circle cx="989.7" cy="384.0" r="3.1"/>
<circle cx="773.9" cy="486.4" r="3.1"/>
<circle cx="753.2" cy="477.7" r="3.1"/>
<circle cx="905.8" cy="425.3" r="3.1"/>
<circle cx="827.0" cy="425.6" r="3.1"/>
<circle cx="738.6" cy="496.4" r="3.1"/>
<circle cx="720.9" cy="483.7" r="3.1"/>
<circle cx="953.0" cy="400.4" r="3.1"/>
<circle cx="737.6" cy="495.7" r="3.1"/>
<circle cx="843.1" cy="456.6" r="3.1"/>
<circle cx="773.8" cy="469.3" r="3.1"/>
<circle cx="1046.1" cy="340.6" r="3.1"/>
<circle cx="795.9" cy="440.4" r="3.1"/>
<circle cx="824.4" cy="474.0" r="3.1"/>
<circle cx="829.5" cy="447.5" r="3.1"/>
<circle cx="820.2" cy="438.8" r="3.1"/>
<circle cx="753.7" cy="480.7" r="3.1"/>
<circle cx="896.8" cy="432.0" r="3.1"/>
<circle cx="827.8" cy="458.6" r="3.1"/>
<circle cx="871.2" cy="410.3" r="3.1"/>
<circle cx="832.7" cy="448.4" r="3.1"/>
<circle cx="744.2" cy="473.7" r="3.1"/>
<circle cx="934.3" cy="408.3" r="3.1"/>
<circle cx="851.3" cy="428.8" r="3.1"/>
<circle cx="836.5" cy="448.2" r="3.1"/>
<circle cx="768.7" cy="474.0" r="3.1"/>
<circle cx="763.4" cy="470.3" r="3.1"/>
<circle cx="810.3" cy="435.0" r="3.1"/>
<circle cx="759.7" cy="477.4" r="3.1"/>
<circle cx="806.1" cy="451.7" r="3.1"/>
<circle cx="1012.7" cy="387.9" r="3.1"/>
<circle cx="874.0" cy="426.2" r="3.1"/>
<circle cx="904.7" cy="411.3" r="3.1"/>
<circle cx="742.3" cy="486.9" r="3.1"/>
<circle cx="823.8" cy="455.5" r="3.1"/>
<circle cx="728.5" cy="497.4" r="3.1"/>
<circle cx="768.9" cy="483.7" r="3.1"/>
<circle cx="775.4" cy="471.9" r="3.1"/>
<circle cx="750.5" cy="498.6" r="3.1"/>
<circle cx="736.1" cy="485.5" r="3.1"/>
<circle cx="805.0" cy="395.1" r="3.1"/>
<circle cx="868.9" cy="427.8" r="3.1"/>
<circle cx="717.8" cy="490.7" r="3.1"/>
<circle cx="782.9" cy="470.7" r="3.1"/>
<circle cx="786.4" cy="450.0" r="3.1"/>
<circle cx="1098.2" cy="378.7" r="3.1"/>
<circle cx="903.3" cy="431.5" r="3.1"/>
<circle cx="749.6" cy="464.2" r="3.1"/>
<circle cx="855.4" cy="444.6" r="3.1"/>
<circle cx="829.9" cy="446.6" r="3.1"/>
<circle cx="943.7" cy="404.6" r="3.1"/>
<circle cx="786.6" cy="448.8" r="3.1"/>
<circle cx="1098.2" cy="343.4" r="3.1"/>
<circle cx="819.4" cy="445.4" r="3.1"/>
<circle cx="862.6" cy="452.8" r="3.1"/>
<circle cx="718.8" cy="502.8" r="3.1"/>
<circle cx="846.2" cy="463.0" r="3.1"/>
<circle cx="820.6" cy="432.8" r="3.1"/>
<circle cx="968.7" cy="407.5" r="3.1"/>
<circle cx="835.7" cy="456.2" r="3.1"/>
<circle cx="744.5" cy="497.1" r="3.1"/>
<circle cx="1098.2" cy="333.1" r="3.1"/>
<circle cx="769.8" cy="489.1" r="3.1"/>
<circle cx="868.0" cy="405.2" r="3.1"/>
<circle cx="699.2" cy="498.7" r="3.1"/>
<circle cx="808.1" cy="449.2" r="3.1"/>
<circle cx="1010.8" cy="387.9" r="3.1"/>
<circle cx="785.8" cy="447.3" r="3.1"/>
<circle cx="824.2" cy="439.8" r="3.1"/>
<circle cx="1065.1" cy="339.8" r="3.1"/>
<circle cx="856.3" cy="434.6" r="3.1"/>
<circle cx="854.8" cy="419.5" r="3.1"/>
<circle cx="869.3" cy="445.1" r="3.1"/>
<circle cx="994.8" cy="449.9" r="3.1"/>
<circle cx="976.4" cy="404.6" r="3.1"/>
<circle cx="723.7" cy="494.8" r="3.1"/>
<circle cx="765.3" cy="480.9" r="3.1"/>
<circle cx="759.1" cy="490.2" r="3.1"/>
<circle cx="759.8" cy="464.6" r="3.1"/>
<circle cx="911.8" cy="399.1" r="3.1"/>
<circle cx="883.8" cy="439.2" r="3.1"/>
<circle cx="860.4" cy="447.7" r="3.1"/>
<circle cx="789.4" cy="453.7" r="3.1"/>
<circle cx="923.8" cy="418.7" r="3.1"/>
<circle cx="957.3" cy="422.0" r="3.1"/>
<circle cx="804.9" cy="467.3" r="3.1"/>
<circle cx="801.7" cy="458.6" r="3.1"/>
<circle cx="815.9" cy="447.9" r="3.1"/>
<circle cx="953.7" cy="373.8" r="3.1"/>
<circle cx="874.9" cy="449.1" r="3.1"/>
<circle cx="796.5" cy="452.1" r="3.1"/>
<circle cx="755.4" cy="471.9" r="3.1"/>
<circle cx="921.0" cy="413.2" r="3.1"/>
<circle cx="747.5" cy="486.2" r="3.1"/>
<circle cx="791.9" cy="459.6" r="3.1"/>
<circle cx="887.1" cy="433.8" r="3.1"/>
<circle cx="806.6" cy="458.9" r="3.1"/>
<circle cx="756.1" cy="484.5" r="3.1"/>
<circle cx="722.2" cy="493.5" r="3.1"/>
<circle cx="724.9" cy="500.0" r="3.1"/>
<circle cx="1098.2" cy="397.9" r="3.1"/>
<circle cx="837.8" cy="459.8" r="3.1"/>
<circle cx="910.6" cy="426.1" r="3.1"/>
<circle cx="836.0" cy="465.0" r="3.1"/>
<circle cx="799.8" cy="472.0" r="3.1"/>
<circle cx="766.0" cy="455.9" r="3.1"/>
<circle cx="882.3" cy="414.2" r="3.1"/>
<circle cx="855.6" cy="463.8" r="3.1"/>
<circle cx="770.8" cy="475.9" r="3.1"/>
<circle cx="824.3" cy="426.4" r="3.1"/>
<circle cx="949.5" cy="398.5" r="3.1"/>
<circle cx="808.9" cy="460.4" r="3.1"/>
<circle cx="963.7" cy="388.1" r="3.1"/>
<circle cx="893.5" cy="427.3" r="3.1"/>
<circle cx="782.2" cy="460.2" r="3.1"/>
<circle cx="791.6" cy="473.9" r="3.1"/>
<circle cx="990.0" cy="399.6" r="3.1"/>
<circle cx="728.1" cy="497.8" r="3.1"/>
<circle cx="854.7" cy="444.4" r="3.1"/>
<circle cx="794.5" cy="453.9" r="3.1"/>
<circle cx="775.9" cy="469.0" r="3.1"/>
<circle cx="876.0" cy="432.0" r="3.1"/>
<circle cx="928.4" cy="433.8" r="3.1"/>
<circle cx="909.7" cy="444.2" r="3.1"/>
<circle cx="769.7" cy="482.9" r="3.1"/>
<circle cx="986.2" cy="409.9" r="3.1"/>
<circle cx="889.1" cy="455.5" r="3.1"/>
<circle cx="807.5" cy="440.7" r="3.1"/>
<circle cx="1070.7" cy="353.4" r="3.1"/>
<circle cx="871.1" cy="432.9" r="3.1"/>
<circle cx="810.3" cy="453.0" r="3.1"/>
<circle cx="767.0" cy="474.7" r="3.1"/>
<circle cx="1098.2" cy="347.2" r="3.1"/>
<circle cx="811.7" cy="480.2" r="3.1"/>
<circle cx="926.4" cy="423.0" r="3.1"/>
<circle cx="884.1" cy="439.2" r="3.1"/>
<circle cx="802.3" cy="472.9" r="3.1"/>
</g>
<path d="M679.50 309.5V523.5M676.5 522.50H1147.5M763.50 309.5V523.5M676.5 484.50H1147.5M846.50 309.5V523.5M676.5 446.50H1147.5M930.50 309.5V523.5M676.5 408.50H1147.5M1014.50 309.5V523.5M676.5 370.50H1147.5M1098.50 309.5V523.5M676.5 332.50H1147.5" stroke="#b0b0b0" stroke-opacity="0.3" stroke-width="1.11" fill="none"/>
<path d="M698.06 513.65L1123.34 320.80" stroke="#000" stroke-opacity="0.75" stroke-width="2.78" stroke-dasharray="10.28 4.44" fill="none"/>
</g>
<rect x="695.55" y="316.40" width="130.87" height="49.90" rx="3.75" fill="#add8e6" fill-opacity="0.8" stroke="#000" stroke-opacity="0.8" stroke-width="1.39"/>
<text x="699.85" y="330.90" font-size="12.88" textLength="123.07" lengthAdjust="spacingAndGlyphs">n_estimators = 100</text>
<text x="699.85" y="345.35" font-size="12.88" textLength="89.49" lengthAdjust="spacingAndGlyphs">RMSE = 0.555</text>
<text x="699.85" y="359.80" font-size="12.88" textLength="67.91" lengthAdjust="spacingAndGlyphs">R² = 0.771</text>
<rect x="1071.25" y="494.25" width="70" height="23" rx="2.5" fill="#fff" fill-opacity="0.8" stroke="#ccc" stroke-opacity="0.8" stroke-width="1.39"/>
<circle cx="1089.55" cy="506.35" r="3.1" fill="#f00" fill-opacity="0.4" stroke="#000" stroke-opacity="0.4" stroke-width="0.69"/>
<text x="1111.25" y="508.75" font-size="12.88" textLength="24.67" lengthAdjust="spacingAndGlyphs">Test</text>
<rect x="676.5" y="309.5" width="471.0" height="214.0" fill="none" stroke="#000" stroke-width="1.11"/>
<text x="674.77" y="543.70" font-size="14.31" textLength="8.87" lengthAdjust="spacingAndGlyphs">0</text>
<text x="657.80" y="527.70" font-size="14.31" textLength="8.87" lengthAdjust="spacingAndGlyphs">0</text>
<text x="758.77" y="543.70" font-size="14.31" textLength="8.87" lengthAdjust="spacingAndGlyphs">1</text>
<text x="657.80" y="489.70" font-size="14.31" textLength="8.87" lengthAdjust="spacingAndGlyphs">1</text>
<text x="841.77" y="543.70" font-size="14.31" textLength="8.87" lengthAdjust="spacingAndGlyphs">2</text>
<text x="657.80" y="451.70" font-size="14.31" textLength="8.87" lengthAdjust="spacingAndGlyphs">2</text>
<text x="925.77" y="543.70" font-size="14.31" textLength="8.87" lengthAdjust="spacingAndGlyphs">3</text>
<text x="657.80" y="413.70" font-size="14.31" textLength="8.87" lengthAdjust="spacingAndGlyphs">3</text>
<text x="1009.77" y="543.70" font-size="14.31" textLength="8.87" lengthAdjust="spacingAndGlyphs">4</text>
<text x="657.80" y="375.70" font-size="14.31" textLength="8.87" lengthAdjust="spacingAndGlyphs">4</text>
<text x="1093.77" y="543.70" font-size="14.31" textLength="8.87" lengthAdjust="spacingAndGlyphs">5</text>
<text x="657.80" y="337.70" font-size="14.31" textLength="8.87" lengthAdjust="spacingAndGlyphs">5</text>
<path d="M679.50 523.5v4.86M676.5 522.50h-4.86M763.50 523.5v4.86M676.5 484.50h-4.86M846.50 523.5v4.86M676.5 446.50h-4.86M930.50 523.5v4.86M676.5 408.50h-4.86M1014.50 523.5v4.86M676.5 370.50h-4.86M1098.50 523.5v4.86M676.5 332.50h-4.86" stroke="#000" stroke-width="1.11" fill="none"/>
<text x="876.51" y="563.40" font-size="14.31" textLength="69.37" lengthAdjust="spacingAndGlyphs">Valor Real</text>
<text x="614.31" y="418.75" font-size="14.31" textLength="71.17" lengthAdjust="spacingAndGlyphs" transform="rotate(-90 649.90 418.75)">Predicción</text>
<text x="777.27" y="301.17" font-size="15.74" font-weight="bold" textLength="268.67" lengthAdjust="spacingAndGlyphs">(d) Después de 100 iteraciones</text>
<clipPath id="ce"><rect x="62.5" y="587.5" width="1085.0" height="214.0"/></clipPath>
<g clip-path="url(#ce)">
<path d="M62.50 587.5V801.5M198.50 587.5V801.5M333.50 587.5V801.5M469.50 587.5V801.5M605.50 587.5V801.5M740.50 587.5V801.5M876.50 587.5V801.5M1011.50 587.5V801.5M1147.50 587.5V801.5M62.5 795.50H1147.5M62.5 738.50H1147.5M62.5 682.50H1147.5M62.5 625.50H1147.5" stroke="#b0b0b0" stroke-opacity="0.3" stroke-width="1.11" fill="none"/>
<path d="M67.92 600.81L73.35 615.90L78.78 629.35L84.20 640.92L89.62 651.00L95.05 660.25L100.47 668.33L105.90 675.20L111.33 681.46L116.75 686.92L122.17 691.63L127.60 695.71L133.03 699.53L138.45 702.70L143.88 705.54L149.30 707.84L154.72 710.19L160.15 712.61L165.57 715.26L171.00 717.80L176.43 720.14L181.85 722.07L187.28 723.40L192.70 724.82L198.12 726.79L203.55 728.69L208.97 731.08L214.40 733.77L219.82 735.61L225.25 736.76L230.68 737.66L236.10 739.50L241.53 741.07L246.95 742.44L252.38 744.07L257.80 745.37L263.23 746.58L268.65 747.76L274.07 748.57L279.50 749.55L284.93 750.65L290.35 751.50L295.77 752.30L301.20 753.23L306.62 753.92L312.05 754.63L317.48 755.33L322.90 756.03L328.32 756.49L333.75 756.99L339.18 757.54L344.60 758.11L350.02 758.35L355.45 758.88L360.88 759.08L366.30 759.65L371.73 759.75L377.15 760.17L382.57 760.62L388.00 760.82L393.43 761.09L398.85 761.38L404.27 761.85L409.70 762.19L415.12 762.36L420.55 762.75L425.98 762.98L431.40 763.23L436.82 763.81L442.25 763.89L447.68 764.08L453.10 764.56L458.52 764.91L463.95 765.04L469.38 765.39L474.80 765.62L480.23 766.07L485.65 766.50L491.07 766.65L496.50 766.99L501.93 767.15L507.35 767.52L512.77 768.03L518.20 768.28L523.62 768.34L529.05 768.66L534.48 769.10L539.90 769.31L545.33 769.54L550.75 769.81L556.17 770.04L561.60 770.38L567.02 770.68L572.45 770.95L577.88 771.06L583.30 771.68L588.73 771.69L594.15 771.92L599.58 772.32L605.00 772.37L610.42 772.71L615.85 772.78L621.27 773.13L626.70 773.27L632.12 773.44L637.55 773.77L642.98 774.15L648.40 774.46L653.83 774.33L659.25 774.78L664.67 775.08L670.10 775.22L675.52 775.50L680.95 775.62L686.38 775.95L691.80 776.18L697.23 776.49L702.65 776.59L708.08 776.98L713.50 777.01L718.92 777.13L724.35 777.69L729.77 778.00L735.20 777.85L740.62 777.83L746.05 778.42L751.48 778.63L756.90 778.60L762.33 778.94L767.75 779.07L773.17 779.22L778.60 779.28L784.02 779.55L789.45 779.63L794.88 779.84L800.30 780.07L805.73 780.16L811.15 780.39L816.58 780.43L822.00 780.71L827.42 780.86L832.85 780.72L838.27 781.05L843.70 781.20L849.12 781.29L854.55 781.55L859.98 781.69L865.40 781.78L870.83 781.96L876.25 782.30L881.67 782.24L887.10 782.58L892.52 782.80L897.95 782.96L903.38 783.08L908.80 783.03L914.23 783.52L919.65 783.55L925.08 783.99L930.50 783.93L935.92 784.01L941.35 784.32L946.77 784.55L952.20 784.63L957.62 784.76L963.05 784.95L968.48 784.99L973.90 785.37L979.33 785.65L984.75 785.78L990.17 785.96L995.60 786.13L1001.02 786.33L1006.45 786.50L1011.88 786.89L1017.30 786.80L1022.73 787.14L1028.15 787.40L1033.58 787.38L1039.00 787.50L1044.42 787.78L1049.85 788.01L1055.28 788.32L1060.70 788.08L1066.12 788.50L1071.55 788.92L1076.97 789.07L1082.40 789.17L1087.83 789.55L1093.25 789.54L1098.67 789.81L1104.10 789.81L1109.53 790.04L1114.95 790.65L1120.38 790.54L1125.80 790.92L1131.22 790.81L1136.65 791.11L1142.08 791.27L1147.50 791.65" stroke="#00f" stroke-opacity="0.7" stroke-width="2.78" fill="none" stroke-linejoin="round" stroke-linecap="square"/>
<path d="M67.92 596.57L73.35 611.37L78.78 624.39L84.20 635.74L89.62 645.39L95.05 654.47L100.47 662.31L105.90 668.69L111.33 674.40L116.75 679.51L122.17 683.93L127.60 688.33L133.03 692.19L138.45 695.65L143.88 698.47L149.30 701.14L154.72 703.43L160.15 705.77L165.57 707.77L171.00 709.82L176.43 711.42L181.85 713.15L187.28 714.67L192.70 716.10L198.12 717.61L203.55 718.68L208.97 721.25L214.40 724.95L219.82 726.99L225.25 727.83L230.68 728.44L236.10 730.03L241.53 731.36L246.95 732.65L252.38 733.68L257.80 734.39L263.23 735.12L268.65 735.67L274.07 736.56L279.50 737.14L284.93 737.70L290.35 738.15L295.77 739.04L301.20 739.66L306.62 740.16L312.05 740.52L317.48 741.16L322.90 741.46L328.32 742.25L333.75 742.31L339.18 742.70L344.60 743.34L350.02 743.52L355.45 743.74L360.88 744.19L366.30 744.40L371.73 744.54L377.15 745.06L382.57 745.38L388.00 745.67L393.43 745.72L398.85 745.99L404.27 746.15L409.70 746.27L415.12 746.30L420.55 746.60L425.98 746.75L431.40 746.94L436.82 746.60L442.25 746.81L447.68 746.72L453.10 746.98L458.52 747.15L463.95 747.10L469.38 747.27L474.80 747.52L480.23 747.59L485.65 747.41L491.07 747.68L496.50 747.80L501.93 748.00L507.35 748.18L512.77 748.13L518.20 748.38L523.62 748.60L529.05 748.67L534.48 748.91L539.90 748.94L545.33 749.00L550.75 749.38L556.17 749.30L561.60 749.72L567.02 749.85L572.45 750.22L577.88 750.42L583.30 750.66L588.73 750.97L594.15 751.24L599.58 751.44L605.00 751.61L610.42 751.82L615.85 751.79L621.27 751.83L626.70 751.87L632.12 752.00L637.55 751.89L642.98 752.23L648.40 752.40L653.83 752.22L659.25 752.63L664.67 752.47L670.10 752.76L675.52 752.69L680.95 753.02L686.38 752.76L691.80 752.94L697.23 753.09L702.65 752.85L708.08 753.02L713.50 753.16L718.92 753.31L724.35 753.29L729.77 753.37L735.20 753.33L740.62 753.39L746.05 753.62L751.48 753.67L756.90 753.73L762.33 753.89L767.75 753.86L773.17 753.86L778.60 753.83L784.02 753.82L789.45 754.11L794.88 754.02L800.30 754.18L805.73 753.95L811.15 754.25L816.58 754.24L822.00 754.46L827.42 754.50L832.85 754.44L838.27 754.56L843.70 754.53L849.12 754.80L854.55 754.61L859.98 754.84L865.40 754.61L870.83 754.89L876.25 754.80L881.67 755.15L887.10 755.00L892.52 755.22L897.95 755.24L903.38 755.25L908.80 755.36L914.23 755.37L919.65 755.38L925.08 755.47L930.50 755.62L935.92 755.84L941.35 755.85L946.77 755.85L952.20 756.15L957.62 755.89L963.05 756.07L968.48 756.15L973.90 756.08L979.33 756.18L984.75 756.30L990.17 756.50L995.60 756.41L1001.02 756.47L1006.45 756.67L1011.88 756.51L1017.30 756.63L1022.73 756.97L1028.15 756.79L1033.58 757.01L1039.00 756.80L1044.42 756.90L1049.85 757.18L1055.28 757.22L1060.70 757.17L1066.12 757.27L1071.55 757.13L1076.97 757.28L1082.40 757.45L1087.83 757.40L1093.25 757.75L1098.67 757.53L1104.10 757.51L1109.53 757.67L1114.95 757.76L1120.38 757.64L1125.80 757.51L1131.22 757.72L1136.65 757.88L1142.08 757.60L1147.50 757.97" stroke="#f00" stroke-opacity="0.7" stroke-width="2.78" fill="none" stroke-linejoin="round" stroke-linecap="square"/>
<path d="M1142.08 801.5V587.5" stroke="#008000" stroke-opacity="0.6" stroke-width="2.78" stroke-dasharray="10.28 4.44" fill="none"/>
<circle cx="1142.08" cy="757.76" r="6.95" fill="#008000" stroke="#008000" stroke-width="1.39"/>
</g>
<rect x="1013.7" y="594.45" width="126.85" height="45.7" rx="2.78" fill="#fff" fill-opacity="0.8" stroke="#ccc" stroke-opacity="0.8" stroke-width="1.39"/>
<path d="M1019.3 606.2h27.8" stroke="#00f" stroke-opacity="0.7" stroke-width="2.78" stroke-linecap="square"/>
<path d="M1019.3 627.5h27.8" stroke="#f00" stroke-opacity="0.7" stroke-width="2.78" stroke-linecap="square"/>
<text x="1058.70" y="610.90" font-size="14.31" textLength="76.98" lengthAdjust="spacingAndGlyphs">RMSE Train</text>
<text x="1058.70" y="631.70" font-size="14.31" textLength="71.01" lengthAdjust="spacingAndGlyphs">RMSE Test</text>
<rect x="62.5" y="587.5" width="1085.0" height="214.0" fill="none" stroke="#000" stroke-width="1.11"/>
<text x="57.77" y="821.70" font-size="14.31" textLength="8.87" lengthAdjust="spacingAndGlyphs">0</text>
<text x="189.36" y="821.70" font-size="14.31" textLength="17.67" lengthAdjust="spacingAndGlyphs">25</text>
<text x="324.36" y="821.70" font-size="14.31" textLength="17.67" lengthAdjust="spacingAndGlyphs">50</text>
<text x="460.36" y="821.70" font-size="14.31" textLength="17.67" lengthAdjust="spacingAndGlyphs">75</text>
<text x="591.94" y="821.70" font-size="14.31" textLength="26.54" lengthAdjust="spacingAndGlyphs">100</text>
<text x="726.94" y="821.70" font-size="14.31" textLength="26.54" lengthAdjust="spacingAndGlyphs">125</text>
<text x="862.94" y="821.70" font-size="14.31" textLength="26.54" lengthAdjust="spacingAndGlyphs">150</text>
<text x="997.94" y="821.70" font-size="14.31" textLength="26.54" lengthAdjust="spacingAndGlyphs">175</text>
<text x="1133.94" y="821.70" font-size="14.31" textLength="26.54" lengthAdjust="spacingAndGlyphs">200</text>
<text x="30.57" y="800.70" font-size="14.31" textLength="22.09" lengthAdjust="spacingAndGlyphs">0.4</text>
<text x="30.57" y="743.70" font-size="14.31" textLength="22.09" lengthAdjust="spacingAndGlyphs">0.6</text>
<text x="30.57" y="687.70" font-size="14.31" textLength="22.09" lengthAdjust="spacingAndGlyphs">0.8</text>
<text x="30.57" y="630.70" font-size="14.31" textLength="22.09" lengthAdjust="spacingAndGlyphs">1.0</text>
<path d="M62.50 801.5v4.86M198.50 801.5v4.86M333.50 801.5v4.86M469.50 801.5v4.86M605.50 801.5v4.86M740.50 801.5v4.86M876.50 801.5v4.86M1011.50 801.5v4.86M1147.50 801.5v4.86M62.5 795.50h-4.86M62.5 738.50h-4.86M62.5 682.50h-4.86M62.5 625.50h-4.86" stroke="#000" stroke-width="1.11" fill="none"/>
<text x="481.06" y="844.00" font-size="15.74" textLength="246.88" lengthAdjust="spacingAndGlyphs">Número de iteraciones (árboles)</text>
<text x="1.42" y="696.75" font-size="15.74" textLength="43.15" lengthAdjust="spacingAndGlyphs" transform="rotate(-90 23.00 696.75)">RMSE</text>
<text x="388.68" y="579.20" font-size="17.17" font-weight="bold" textLength="432.34" lengthAdjust="spacingAndGlyphs">(e) Curvas de aprendizaje: Evolución del error</text>
<text x="1169.30" y="736.60" font-size="12.88" font-weight="bold" fill="#008000" textLength="119.14" lengthAdjust="spacingAndGlyphs">Óptimo: 199 iter.</text>
<text x="1169.30" y="751.70" font-size="12.88" font-weight="bold" fill="#008000" textLength="98.30" lengthAdjust="spacingAndGlyphs">RMSE = 0.533</text>
</svg>
</body></html>
